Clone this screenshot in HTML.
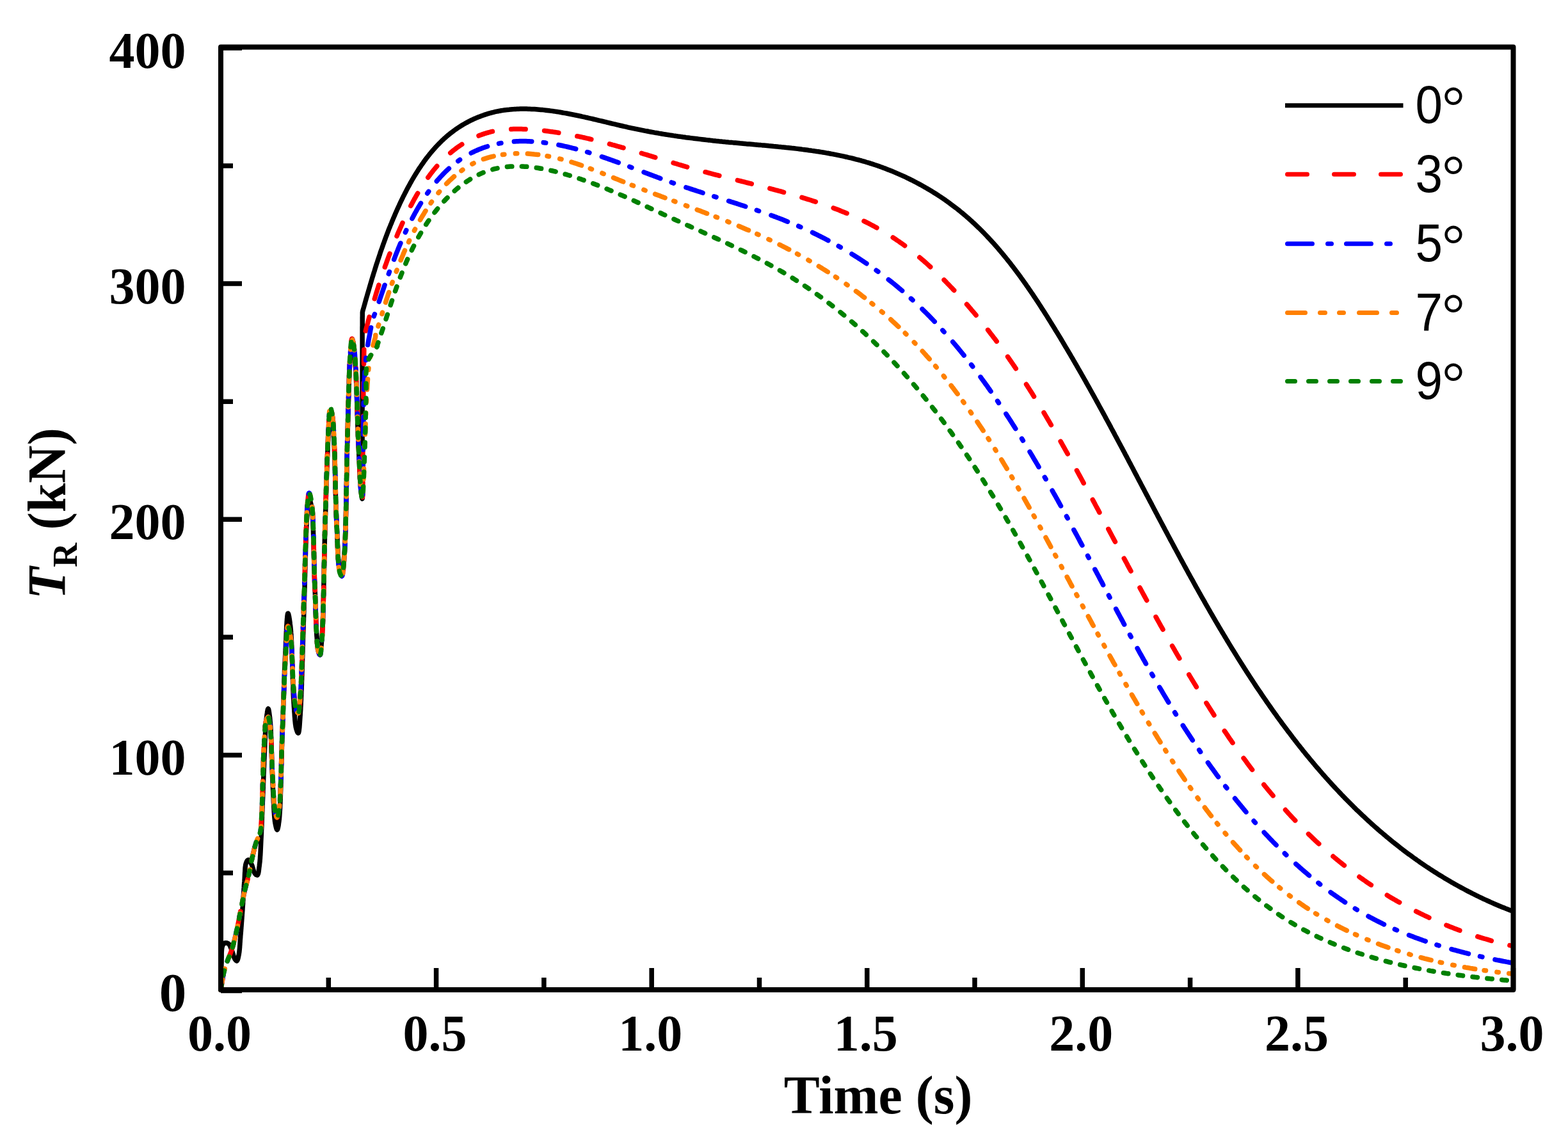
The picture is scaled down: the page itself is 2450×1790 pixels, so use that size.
<!DOCTYPE html>
<html><head><meta charset="utf-8"><title>T_R vs Time</title>
<style>html,body{margin:0;padding:0;background:#fff;}svg{display:block;}</style>
</head><body>
<svg xmlns="http://www.w3.org/2000/svg" width="2450" height="1790" viewBox="0 0 2450 1790">
<rect width="2450" height="1790" fill="#fff"/>
<g fill="none" stroke-width="7.5" stroke-linejoin="round">
<path stroke="#000000" d="M345.0 1546.0L345.0 1543.9 345.1 1541.9 345.1 1539.8 345.2 1537.7 345.2 1535.5 345.3 1533.4 345.3 1531.3 345.4 1529.2 345.4 1527.1 345.4 1525.0 345.5 1522.9 345.5 1520.8 345.6 1518.7 345.6 1516.7 345.7 1514.6 345.7 1512.7 345.8 1510.7 345.9 1508.8 345.9 1506.9 346.0 1505.0 346.1 1502.7 346.1 1500.3 346.1 1497.9 346.2 1495.5 346.2 1493.2 346.2 1490.9 346.2 1488.6 346.3 1486.5 346.4 1484.5 346.6 1482.6 346.8 1480.9 347.1 1479.3 347.5 1478.0 348.4 1475.7 349.6 1474.0 351.0 1473.0 352.9 1472.7 355.1 1473.0 357.0 1474.0 358.2 1475.3 359.3 1477.2 360.2 1479.4 361.1 1481.7 362.0 1484.0 362.8 1486.0 363.5 1488.1 364.2 1490.4 364.8 1492.6 365.5 1494.7 366.3 1496.6 367.0 1498.0 368.5 1500.1 370.0 1501.0 370.9 1500.0 371.7 1497.9 372.4 1495.0 373.0 1492.0 373.3 1490.6 373.5 1489.0 373.8 1487.3 374.0 1485.5 374.2 1483.6 374.4 1481.6 374.6 1479.6 374.7 1477.5 374.9 1475.3 375.0 1473.1 375.2 1470.9 375.3 1468.7 375.5 1466.5 375.7 1464.3 375.8 1462.1 376.0 1460.0 376.2 1458.1 376.3 1456.2 376.5 1454.3 376.6 1452.3 376.8 1450.4 376.9 1448.4 377.1 1446.4 377.2 1444.4 377.4 1442.4 377.5 1440.4 377.7 1438.4 377.8 1436.4 378.0 1434.4 378.1 1432.3 378.3 1430.3 378.4 1428.2 378.6 1426.2 378.7 1424.1 378.9 1422.1 379.0 1420.0 379.1 1418.0 379.3 1416.0 379.4 1413.9 379.6 1411.8 379.7 1409.7 379.8 1407.6 380.0 1405.5 380.1 1403.3 380.2 1401.2 380.4 1399.1 380.5 1396.9 380.6 1394.8 380.8 1392.7 380.9 1390.6 381.0 1388.6 381.2 1386.5 381.3 1384.5 381.4 1382.5 381.6 1380.6 381.7 1378.7 381.9 1376.8 382.0 1375.0 382.2 1372.6 382.3 1370.2 382.4 1367.8 382.5 1365.5 382.6 1363.1 382.8 1360.8 382.9 1358.6 383.0 1356.4 383.2 1354.4 383.5 1352.6 383.7 1350.9 384.1 1349.3 384.5 1348.0 385.5 1345.6 386.7 1343.7 388.0 1343.0 389.2 1343.7 390.5 1345.4 391.8 1347.7 393.0 1350.0 393.8 1351.8 394.5 1353.9 395.1 1356.2 395.8 1358.5 396.4 1360.7 397.2 1362.5 398.0 1364.0 400.0 1366.3 402.0 1367.0 402.7 1366.3 403.3 1365.0 403.8 1363.1 404.2 1360.8 404.5 1358.2 404.8 1355.5 405.2 1352.7 405.5 1350.0 405.7 1348.4 405.9 1346.7 406.1 1345.0 406.2 1343.2 406.4 1341.4 406.5 1339.5 406.6 1337.6 406.8 1335.6 406.9 1333.6 407.0 1331.6 407.1 1329.5 407.2 1327.4 407.3 1325.3 407.4 1323.1 407.5 1321.0 407.6 1318.8 407.7 1316.6 407.8 1314.4 407.9 1312.2 408.0 1310.0 408.1 1308.2 408.2 1306.4 408.3 1304.5 408.4 1302.6 408.5 1300.7 408.5 1298.8 408.6 1296.9 408.7 1294.9 408.8 1293.0 408.9 1291.0 409.0 1289.0 409.0 1287.0 409.1 1285.0 409.2 1282.9 409.3 1280.9 409.4 1278.9 409.5 1276.8 409.5 1274.8 409.6 1272.7 409.7 1270.6 409.8 1268.6 409.9 1266.5 409.9 1264.4 410.0 1262.3 410.1 1260.3 410.2 1258.2 410.3 1256.2 410.3 1254.1 410.4 1252.0 410.5 1250.0 410.6 1248.0 410.7 1246.0 410.7 1244.0 410.8 1242.0 410.9 1240.0 411.0 1237.9 411.0 1235.9 411.1 1233.9 411.2 1231.8 411.3 1229.8 411.3 1227.7 411.4 1225.7 411.5 1223.7 411.6 1221.6 411.6 1219.6 411.7 1217.5 411.8 1215.4 411.9 1213.4 411.9 1211.3 412.0 1209.3 412.1 1207.3 412.2 1205.2 412.3 1203.2 412.3 1201.1 412.4 1199.1 412.5 1197.1 412.6 1195.0 412.7 1193.0 412.7 1191.0 412.8 1189.0 412.9 1187.0 413.0 1185.0 413.1 1182.9 413.2 1180.9 413.3 1178.7 413.3 1176.6 413.4 1174.5 413.5 1172.3 413.6 1170.1 413.7 1167.9 413.8 1165.7 413.8 1163.5 413.9 1161.3 414.0 1159.1 414.1 1157.0 414.2 1154.8 414.3 1152.6 414.4 1150.5 414.4 1148.4 414.5 1146.3 414.6 1144.3 414.7 1142.3 414.9 1140.3 415.0 1138.4 415.1 1136.5 415.2 1134.7 415.3 1132.9 415.4 1131.2 415.6 1129.6 415.7 1128.0 415.9 1126.4 416.0 1125.0 416.3 1122.3 416.6 1119.6 416.9 1116.9 417.3 1114.3 417.6 1111.9 418.0 1109.9 418.3 1108.4 418.7 1107.4 419.0 1107.0 419.4 1107.4 419.8 1108.6 420.2 1110.3 420.5 1112.6 420.9 1115.3 421.3 1118.2 421.7 1121.3 422.0 1124.4 422.1 1125.6 422.2 1126.9 422.4 1128.3 422.5 1129.8 422.6 1131.3 422.7 1132.9 422.8 1134.5 422.9 1136.2 423.0 1138.0 423.1 1139.8 423.2 1141.6 423.3 1143.5 423.4 1145.5 423.4 1147.5 423.5 1149.5 423.6 1151.6 423.7 1153.7 423.8 1155.9 423.8 1158.0 423.9 1160.2 424.0 1162.4 424.1 1164.7 424.1 1166.9 424.2 1169.2 424.3 1171.5 424.3 1173.8 424.4 1176.1 424.5 1178.4 424.5 1180.7 424.6 1183.0 424.7 1185.3 424.8 1187.6 424.8 1189.9 424.9 1192.2 425.0 1194.5 425.0 1196.7 425.1 1198.9 425.2 1201.1 425.2 1203.3 425.3 1205.5 425.4 1207.6 425.5 1209.7 425.6 1211.8 425.6 1213.8 425.7 1215.8 425.8 1217.7 425.9 1219.6 426.0 1221.4 426.1 1223.7 426.2 1225.9 426.3 1228.2 426.4 1230.5 426.5 1232.8 426.6 1235.1 426.7 1237.4 426.8 1239.7 426.9 1242.1 427.0 1244.4 427.1 1246.7 427.2 1249.0 427.3 1251.2 427.4 1253.5 427.6 1255.7 427.7 1257.9 427.8 1260.1 427.9 1262.2 428.0 1264.3 428.1 1266.3 428.2 1268.3 428.4 1270.2 428.5 1272.1 428.6 1273.9 428.8 1275.7 428.9 1277.4 429.1 1279.0 429.3 1280.5 429.4 1281.9 429.6 1283.3 429.8 1284.6 430.0 1285.8 430.6 1288.7 431.2 1291.5 431.8 1293.8 432.4 1295.4 433.0 1296.0 433.5 1295.5 434.1 1294.0 434.6 1291.9 435.1 1289.2 435.5 1286.0 436.0 1282.7 436.1 1281.7 436.2 1280.6 436.4 1279.5 436.5 1278.3 436.6 1277.1 436.7 1275.8 436.8 1274.4 436.9 1273.0 437.0 1271.6 437.1 1270.1 437.2 1268.5 437.3 1266.9 437.4 1265.3 437.5 1263.6 437.6 1261.8 437.7 1260.1 437.8 1258.2 437.8 1256.4 437.9 1254.5 438.0 1252.5 438.1 1250.6 438.2 1248.6 438.2 1246.5 438.3 1244.5 438.4 1242.4 438.4 1240.3 438.5 1238.1 438.6 1235.9 438.7 1233.8 438.7 1231.5 438.8 1229.3 438.9 1227.1 438.9 1224.8 439.0 1222.5 439.0 1220.2 439.1 1217.9 439.2 1215.5 439.2 1213.2 439.3 1210.9 439.3 1208.5 439.4 1206.2 439.5 1203.8 439.5 1201.4 439.6 1199.1 439.6 1196.7 439.7 1194.3 439.8 1192.0 439.8 1189.6 439.9 1187.2 439.9 1184.9 440.0 1182.6 440.1 1180.2 440.1 1177.9 440.2 1175.6 440.2 1173.3 440.3 1171.1 440.4 1168.8 440.4 1166.6 440.5 1164.4 440.6 1162.2 440.6 1160.0 440.7 1157.8 440.8 1155.7 440.9 1153.6 440.9 1151.6 441.0 1149.5 441.1 1147.5 441.2 1145.5 441.2 1143.4 441.3 1141.4 441.4 1139.3 441.4 1137.2 441.5 1135.1 441.6 1133.0 441.7 1130.9 441.7 1128.8 441.8 1126.7 441.9 1124.6 442.0 1122.5 442.0 1120.3 442.1 1118.2 442.2 1116.0 442.3 1113.9 442.3 1111.8 442.4 1109.6 442.5 1107.5 442.5 1105.3 442.6 1103.1 442.7 1101.0 442.8 1098.8 442.8 1096.7 442.9 1094.5 443.0 1092.4 443.1 1090.2 443.1 1088.1 443.2 1086.0 443.3 1083.8 443.3 1081.7 443.4 1079.6 443.5 1077.5 443.6 1075.3 443.6 1073.2 443.7 1071.1 443.8 1069.1 443.9 1067.0 443.9 1064.9 444.0 1062.9 444.1 1060.8 444.2 1058.8 444.2 1056.8 444.3 1054.7 444.4 1052.7 444.5 1050.8 444.5 1048.8 444.6 1046.8 444.7 1044.9 444.8 1043.0 444.9 1041.1 444.9 1039.2 445.0 1037.3 445.1 1035.4 445.2 1033.6 445.3 1031.8 445.3 1030.0 445.4 1028.2 445.5 1026.5 445.6 1024.7 445.7 1023.0 445.7 1021.3 445.8 1019.6 445.9 1018.0 446.0 1016.4 446.1 1013.9 446.3 1011.4 446.4 1008.8 446.5 1006.2 446.6 1003.5 446.7 1000.8 446.9 998.1 447.0 995.4 447.1 992.6 447.2 990.0 447.3 987.3 447.5 984.7 447.6 982.1 447.7 979.7 447.8 977.2 448.0 974.9 448.1 972.7 448.2 970.6 448.4 968.6 448.5 966.8 448.7 965.0 448.8 963.5 449.0 962.1 449.1 960.9 449.3 959.9 449.5 959.1 449.6 958.5 449.8 958.1 450.0 958.0 450.3 958.3 450.7 959.1 451.0 960.4 451.4 962.1 451.8 964.1 452.2 966.5 452.6 969.1 453.0 971.8 453.3 974.7 453.7 977.6 454.0 980.5 454.1 981.7 454.3 983.1 454.4 984.5 454.5 986.0 454.6 987.5 454.7 989.1 454.9 990.7 455.0 992.5 455.1 994.2 455.2 996.0 455.3 997.9 455.4 999.8 455.5 1001.8 455.6 1003.8 455.6 1005.8 455.7 1007.9 455.8 1010.0 455.9 1012.2 456.0 1014.3 456.1 1016.5 456.1 1018.8 456.2 1021.0 456.3 1023.3 456.4 1025.6 456.4 1027.9 456.5 1030.2 456.6 1032.6 456.6 1034.9 456.7 1037.3 456.8 1039.6 456.9 1042.0 456.9 1044.3 457.0 1046.7 457.1 1049.1 457.1 1051.4 457.2 1053.7 457.3 1056.1 457.3 1058.4 457.4 1060.7 457.5 1062.9 457.5 1065.2 457.6 1067.4 457.7 1069.6 457.8 1071.8 457.8 1074.0 457.9 1076.1 458.0 1078.1 458.1 1080.2 458.2 1082.2 458.2 1084.1 458.3 1086.1 458.4 1087.9 458.5 1089.7 458.6 1091.5 458.7 1093.2 458.8 1094.9 458.9 1096.5 459.0 1098.0 459.2 1100.6 459.3 1103.1 459.5 1105.6 459.7 1108.1 459.8 1110.6 460.0 1113.0 460.2 1115.3 460.3 1117.6 460.5 1119.9 460.7 1122.1 460.8 1124.2 461.0 1126.2 461.2 1128.1 461.4 1130.0 461.6 1131.7 461.9 1133.4 462.1 1134.9 462.4 1136.4 462.7 1137.7 463.0 1138.9 464.0 1141.9 465.0 1144.2 466.0 1145.0 466.4 1144.7 466.7 1143.9 467.0 1142.6 467.3 1141.0 467.5 1139.0 467.8 1136.7 468.0 1134.2 468.2 1131.4 468.4 1128.5 468.6 1125.5 468.8 1122.4 469.0 1119.4 469.1 1118.2 469.2 1117.0 469.3 1115.7 469.3 1114.5 469.4 1113.1 469.5 1111.8 469.6 1110.4 469.7 1108.9 469.8 1107.4 469.8 1105.9 469.9 1104.4 470.0 1102.8 470.1 1101.2 470.2 1099.5 470.2 1097.8 470.3 1096.1 470.4 1094.3 470.5 1092.6 470.5 1090.8 470.6 1088.9 470.7 1087.0 470.8 1085.1 470.9 1083.2 470.9 1081.3 471.0 1079.3 471.1 1077.3 471.2 1075.3 471.2 1073.3 471.3 1071.2 471.4 1069.1 471.4 1067.0 471.5 1064.9 471.6 1062.8 471.7 1060.6 471.7 1058.5 471.8 1056.3 471.9 1054.1 471.9 1051.9 472.0 1049.6 472.1 1047.4 472.2 1045.2 472.2 1042.9 472.3 1040.6 472.4 1038.4 472.4 1036.1 472.5 1033.8 472.6 1031.5 472.6 1029.2 472.7 1026.9 472.8 1024.6 472.8 1022.2 472.9 1019.9 473.0 1017.6 473.0 1015.3 473.1 1013.0 473.2 1010.7 473.3 1008.4 473.3 1006.0 473.4 1003.7 473.5 1001.4 473.5 999.1 473.6 996.8 473.7 994.6 473.7 992.3 473.8 990.0 473.9 987.8 473.9 985.5 474.0 983.3 474.1 981.1 474.1 978.8 474.2 976.6 474.3 974.5 474.3 972.3 474.4 970.1 474.5 968.0 474.5 965.9 474.6 963.8 474.7 961.7 474.7 959.7 474.8 957.6 474.9 955.6 474.9 953.6 475.0 951.6 475.1 949.6 475.1 947.5 475.2 945.4 475.3 943.2 475.3 941.1 475.4 939.0 475.5 936.8 475.5 934.6 475.6 932.4 475.7 930.2 475.7 928.0 475.8 925.7 475.9 923.5 475.9 921.3 476.0 919.0 476.1 916.8 476.1 914.5 476.2 912.2 476.2 909.9 476.3 907.7 476.4 905.4 476.4 903.1 476.5 900.8 476.6 898.5 476.6 896.3 476.7 894.0 476.7 891.7 476.8 889.4 476.9 887.2 476.9 884.9 477.0 882.6 477.0 880.4 477.1 878.2 477.2 875.9 477.2 873.7 477.3 871.5 477.3 869.3 477.4 867.1 477.5 864.9 477.5 862.8 477.6 860.6 477.6 858.5 477.7 856.4 477.8 854.3 477.8 852.2 477.9 850.1 478.0 848.1 478.0 846.1 478.1 844.1 478.2 842.1 478.2 840.2 478.3 838.2 478.4 836.3 478.4 834.4 478.5 832.6 478.6 830.8 478.6 829.0 478.7 827.2 478.8 825.5 478.9 823.8 478.9 822.1 479.0 820.5 479.1 818.9 479.2 817.3 479.2 815.8 479.3 814.3 479.4 812.8 479.5 811.4 479.6 810.0 479.7 808.6 479.7 807.3 479.8 806.1 479.9 804.8 480.0 803.7 480.2 800.7 480.4 797.8 480.7 794.9 480.9 792.1 481.1 789.4 481.3 787.0 481.6 784.8 481.8 782.8 482.1 781.3 482.4 780.1 482.7 779.3 483.0 779.0 483.5 779.4 484.1 780.6 484.7 782.4 485.3 784.7 485.9 787.4 486.5 790.4 487.0 793.5 487.2 794.6 487.3 795.7 487.5 796.9 487.6 798.2 487.7 799.5 487.9 800.9 488.0 802.3 488.1 803.8 488.2 805.3 488.4 807.0 488.5 808.6 488.6 810.3 488.7 812.1 488.8 813.9 488.9 815.7 489.0 817.6 489.1 819.5 489.1 821.5 489.2 823.5 489.3 825.6 489.4 827.6 489.5 829.8 489.5 831.9 489.6 834.1 489.7 836.2 489.7 838.5 489.8 840.7 489.9 843.0 489.9 845.2 490.0 847.5 490.1 849.9 490.1 852.2 490.2 854.5 490.2 856.9 490.3 859.2 490.3 861.6 490.4 864.0 490.4 866.3 490.5 868.7 490.6 871.1 490.6 873.4 490.7 875.8 490.7 878.2 490.8 880.5 490.8 882.8 490.9 885.2 490.9 887.5 491.0 889.8 491.1 892.1 491.1 894.3 491.2 896.6 491.2 898.8 491.3 901.0 491.4 903.1 491.5 905.3 491.5 907.4 491.6 909.5 491.7 911.5 491.7 913.5 491.8 915.5 491.9 917.4 492.0 919.3 492.1 921.5 492.2 923.7 492.3 925.9 492.4 928.2 492.5 930.5 492.6 932.8 492.6 935.1 492.7 937.5 492.8 939.8 492.9 942.2 493.0 944.6 493.0 947.0 493.1 949.4 493.2 951.8 493.3 954.1 493.3 956.5 493.4 958.9 493.5 961.3 493.6 963.6 493.7 965.9 493.7 968.2 493.8 970.5 493.9 972.8 494.0 975.0 494.1 977.2 494.2 979.4 494.3 981.5 494.4 983.6 494.5 985.7 494.6 987.7 494.7 989.6 494.8 991.5 494.9 993.4 495.1 995.2 495.2 996.9 495.3 998.6 495.5 1000.2 495.6 1001.7 495.8 1003.2 495.9 1004.6 496.1 1005.9 496.2 1007.1 496.4 1008.3 496.6 1009.4 496.8 1010.3 497.0 1011.2 498.0 1014.6 499.0 1017.1 500.0 1018.0 500.4 1017.6 500.8 1016.7 501.1 1015.3 501.4 1013.4 501.7 1011.2 502.0 1008.6 502.2 1005.8 502.5 1002.8 502.7 999.7 503.0 996.5 503.1 995.4 503.2 994.3 503.3 993.1 503.3 992.0 503.4 990.7 503.5 989.4 503.6 988.1 503.6 986.7 503.7 985.3 503.8 983.9 503.9 982.4 503.9 980.9 504.0 979.3 504.1 977.8 504.2 976.1 504.2 974.5 504.3 972.8 504.4 971.1 504.4 969.3 504.5 967.5 504.5 965.7 504.6 963.8 504.7 962.0 504.7 960.1 504.8 958.1 504.8 956.2 504.9 954.2 505.0 952.2 505.0 950.2 505.1 948.1 505.1 946.1 505.2 944.0 505.2 941.9 505.3 939.7 505.3 937.6 505.4 935.4 505.4 933.2 505.5 931.1 505.5 928.8 505.6 926.6 505.6 924.4 505.7 922.1 505.7 919.9 505.8 917.6 505.8 915.3 505.9 913.0 505.9 910.7 506.0 908.4 506.0 906.1 506.1 903.8 506.1 901.5 506.2 899.2 506.2 896.8 506.3 894.5 506.3 892.2 506.4 889.9 506.4 887.5 506.4 885.2 506.5 882.9 506.5 880.6 506.6 878.2 506.6 875.9 506.7 873.6 506.7 871.3 506.8 869.0 506.8 866.7 506.9 864.5 506.9 862.2 507.0 859.9 507.0 857.7 507.1 855.5 507.1 853.2 507.2 851.0 507.2 848.9 507.3 846.7 507.3 844.5 507.4 842.4 507.4 840.3 507.5 838.2 507.5 836.1 507.6 834.0 507.6 832.0 507.7 830.0 507.8 828.0 507.8 826.0 507.9 824.1 507.9 822.1 508.0 820.3 508.1 818.1 508.1 815.9 508.2 813.8 508.3 811.6 508.3 809.4 508.4 807.2 508.5 805.0 508.6 802.8 508.6 800.6 508.7 798.4 508.8 796.2 508.8 793.9 508.9 791.7 509.0 789.5 509.0 787.2 509.1 785.0 509.2 782.8 509.3 780.5 509.3 778.3 509.4 776.0 509.5 773.8 509.5 771.6 509.6 769.4 509.7 767.1 509.8 764.9 509.8 762.7 509.9 760.5 510.0 758.3 510.0 756.1 510.1 753.9 510.2 751.7 510.3 749.6 510.3 747.4 510.4 745.2 510.5 743.1 510.5 741.0 510.6 738.9 510.7 736.8 510.8 734.7 510.8 732.6 510.9 730.6 511.0 728.5 511.1 726.5 511.1 724.5 511.2 722.5 511.3 720.5 511.4 718.6 511.4 716.7 511.5 714.7 511.6 712.9 511.7 711.0 511.7 709.1 511.8 707.3 511.9 705.5 512.0 703.7 512.1 702.0 512.1 700.3 512.2 698.6 512.3 696.9 512.4 695.3 512.4 693.6 512.5 692.1 512.6 690.5 512.7 689.0 512.8 687.5 512.8 686.0 512.9 684.6 513.0 683.2 513.2 680.4 513.3 677.6 513.4 674.8 513.6 671.9 513.7 669.1 513.9 666.3 514.0 663.6 514.1 661.0 514.3 658.5 514.4 656.2 514.6 654.0 514.7 652.1 514.9 650.3 515.1 648.9 515.3 647.7 515.5 646.8 515.8 646.2 516.0 646.0 516.4 646.4 516.9 647.5 517.4 649.2 518.0 651.4 518.5 654.0 519.0 657.0 519.5 660.1 520.0 663.4 520.1 664.4 520.3 665.5 520.4 666.7 520.5 667.9 520.6 669.1 520.7 670.5 520.9 671.8 521.0 673.3 521.1 674.7 521.2 676.3 521.3 677.8 521.4 679.5 521.5 681.1 521.6 682.8 521.7 684.6 521.8 686.4 521.9 688.2 522.0 690.1 522.0 692.0 522.1 694.0 522.2 695.9 522.3 697.9 522.4 700.0 522.5 702.1 522.5 704.2 522.6 706.3 522.7 708.4 522.8 710.6 522.8 712.8 522.9 715.0 523.0 717.3 523.0 719.5 523.1 721.8 523.2 724.1 523.2 726.4 523.3 728.7 523.4 731.0 523.4 733.4 523.5 735.7 523.5 738.1 523.6 740.5 523.7 742.8 523.7 745.2 523.8 747.6 523.8 749.9 523.9 752.3 524.0 754.7 524.0 757.1 524.1 759.4 524.1 761.8 524.2 764.1 524.2 766.5 524.3 768.8 524.4 771.1 524.4 773.4 524.5 775.7 524.5 778.0 524.6 780.2 524.7 782.4 524.7 784.7 524.8 786.8 524.9 789.0 524.9 791.2 525.0 793.3 525.1 795.4 525.1 797.4 525.2 799.5 525.3 801.5 525.4 803.4 525.4 805.3 525.5 807.2 525.6 809.1 525.7 810.9 525.7 812.7 525.8 814.4 525.9 816.1 526.0 817.8 526.1 820.2 526.2 822.6 526.4 825.0 526.5 827.5 526.6 830.0 526.7 832.4 526.8 834.9 526.9 837.4 527.0 839.8 527.1 842.3 527.2 844.7 527.3 847.1 527.4 849.5 527.5 851.9 527.6 854.2 527.7 856.6 527.8 858.8 527.9 861.1 528.0 863.3 528.1 865.4 528.2 867.5 528.4 869.5 528.5 871.5 528.6 873.4 528.8 875.3 528.9 877.1 529.1 878.8 529.3 880.4 529.5 881.9 529.6 883.4 529.8 884.8 530.0 886.1 530.3 887.2 530.5 888.3 530.7 889.3 531.0 890.2 532.5 893.7 534.0 895.0 534.4 894.7 534.8 894.0 535.1 892.9 535.5 891.5 535.8 889.7 536.1 887.7 536.3 885.5 536.6 883.0 536.8 880.4 537.1 877.6 537.3 874.7 537.5 871.7 537.8 868.7 538.0 865.7 538.1 864.6 538.2 863.4 538.3 862.1 538.4 860.8 538.4 859.5 538.5 858.1 538.6 856.7 538.7 855.3 538.8 853.8 538.9 852.3 538.9 850.7 539.0 849.1 539.1 847.5 539.2 845.9 539.2 844.2 539.3 842.5 539.4 840.7 539.4 839.0 539.5 837.1 539.6 835.3 539.6 833.5 539.7 831.6 539.8 829.7 539.8 827.7 539.9 825.8 539.9 823.8 540.0 821.8 540.0 819.7 540.1 817.7 540.2 815.6 540.2 813.5 540.3 811.4 540.3 809.3 540.4 807.2 540.4 805.0 540.5 802.8 540.5 800.6 540.6 798.4 540.6 796.2 540.7 794.0 540.7 791.8 540.8 789.5 540.8 787.2 540.9 785.0 540.9 782.7 540.9 780.4 541.0 778.1 541.0 775.8 541.1 773.5 541.1 771.2 541.2 768.9 541.2 766.6 541.2 764.3 541.3 761.9 541.3 759.6 541.4 757.3 541.4 755.0 541.5 752.7 541.5 750.3 541.5 748.0 541.6 745.7 541.6 743.4 541.7 741.1 541.7 738.8 541.7 736.5 541.8 734.3 541.8 732.0 541.9 729.7 541.9 727.5 542.0 725.3 542.0 723.0 542.0 720.8 542.1 718.6 542.1 716.4 542.2 714.3 542.2 712.1 542.3 710.0 542.3 707.8 542.4 705.7 542.4 703.6 542.4 701.6 542.5 699.5 542.5 697.5 542.6 695.5 542.6 693.5 542.7 691.6 542.7 689.6 542.8 687.7 542.8 685.9 542.9 684.0 542.9 682.2 543.0 680.4 543.1 678.1 543.1 675.9 543.2 673.6 543.3 671.3 543.3 669.0 543.4 666.8 543.5 664.5 543.5 662.2 543.6 659.9 543.7 657.6 543.7 655.3 543.8 653.0 543.8 650.7 543.9 648.5 544.0 646.2 544.0 643.9 544.1 641.6 544.1 639.4 544.2 637.1 544.3 634.8 544.3 632.6 544.4 630.4 544.4 628.1 544.5 625.9 544.6 623.7 544.6 621.5 544.7 619.4 544.8 617.2 544.8 615.1 544.9 612.9 544.9 610.8 545.0 608.7 545.1 606.7 545.1 604.6 545.2 602.6 545.3 600.5 545.3 598.6 545.4 596.6 545.5 594.6 545.5 592.7 545.6 590.8 545.7 589.0 545.8 587.1 545.8 585.3 545.9 583.5 546.0 581.8 546.1 580.0 546.1 578.3 546.2 576.7 546.3 575.1 546.4 573.5 546.5 571.9 546.5 570.4 546.6 568.9 546.7 567.4 546.8 566.0 546.9 564.6 547.0 563.3 547.2 560.4 547.4 557.5 547.6 554.6 547.8 551.7 548.0 548.9 548.2 546.3 548.5 543.9 548.7 541.7 548.9 539.8 549.2 538.2 549.4 537.0 549.7 536.3 550.0 536.0 550.4 536.3 550.7 537.1 551.1 538.4 551.6 540.2 552.0 542.3 552.4 544.7 552.8 547.3 553.2 550.1 553.6 552.9 554.0 555.8 554.1 557.0 554.3 558.2 554.4 559.4 554.5 560.7 554.6 562.1 554.8 563.5 554.9 565.0 555.0 566.6 555.1 568.1 555.2 569.8 555.3 571.4 555.4 573.2 555.6 574.9 555.7 576.7 555.8 578.6 555.9 580.4 556.0 582.4 556.1 584.3 556.2 586.3 556.3 588.3 556.3 590.4 556.4 592.5 556.5 594.6 556.6 596.7 556.7 598.9 556.8 601.1 556.9 603.3 557.0 605.5 557.0 607.7 557.1 610.0 557.2 612.3 557.3 614.6 557.4 616.9 557.4 619.2 557.5 621.5 557.6 623.8 557.7 626.1 557.7 628.5 557.8 630.8 557.9 633.2 558.0 635.5 558.0 637.8 558.1 640.2 558.2 642.5 558.3 644.8 558.3 647.1 558.4 649.4 558.5 651.7 558.6 654.0 558.6 656.3 558.7 658.5 558.8 660.7 558.8 663.0 558.9 665.1 559.0 667.3 559.1 669.5 559.1 671.6 559.2 673.7 559.3 675.7 559.4 677.8 559.4 679.8 559.5 681.7 559.6 683.6 559.7 685.5 559.8 687.4 559.8 689.2 559.9 691.0 560.0 692.7 560.1 695.0 560.2 697.4 560.3 699.7 560.4 702.1 560.5 704.4 560.7 706.8 560.8 709.1 560.9 711.5 561.0 713.8 561.1 716.1 561.2 718.5 561.3 720.8 561.4 723.1 561.5 725.3 561.6 727.6 561.7 729.8 561.8 732.0 561.9 734.2 562.0 736.4 562.1 738.5 562.2 740.6 562.3 742.6 562.4 744.6 562.5 746.6 562.6 748.5 562.7 750.4 562.8 752.2 562.9 754.0 563.0 755.7 563.2 757.3 563.3 758.9 563.4 760.5 563.5 761.9 563.6 763.3 563.8 764.7 563.9 765.9 564.0 767.1 564.3 770.0 564.7 772.7 565.1 775.2 565.4 777.2 565.7 778.5 566.0 779.0 566.1 778.9 566.2 778.6 566.2 778.1 566.3 777.4 566.4 776.6 566.4 775.6 566.5 774.5 566.5 773.1 566.5 771.7 566.5 770.1 566.6 768.4 566.6 766.6 566.6 764.7 566.6 762.6 566.6 760.5 566.6 758.3 566.5 756.0 566.5 753.6 566.5 751.2 566.5 748.7 566.5 746.1 566.4 743.5 566.4 740.9 566.4 738.2 566.4 735.5 566.3 732.9 566.3 730.2 566.3 727.5 566.3 724.8 566.2 722.1 566.2 719.4 566.2 716.8 566.2 714.2 566.1 711.7 566.1 709.2 566.1 706.8 566.1 704.5 566.1 702.2 566.1 700.0 566.1 698.1 566.1 696.2 566.1 694.3 566.1 692.4 566.1 690.4 566.1 688.5 566.1 686.5 566.1 684.5 566.1 682.6 566.1 680.6 566.1 678.6 566.1 676.6 566.1 674.6 566.1 672.5 566.1 670.5 566.1 668.5 566.1 666.4 566.1 664.4 566.1 662.4 566.1 660.3 566.1 658.3 566.1 656.2 566.1 654.2 566.1 652.1 566.1 650.0 566.1 648.0 566.1 645.9 566.1 643.9 566.1 641.8 566.1 639.8 566.1 637.7 566.1 635.7 566.1 633.6 566.1 631.6 566.1 629.6 566.1 627.5 566.1 625.5 566.1 623.5 566.1 621.5 566.1 619.5 566.1 617.5 566.1 615.5 566.1 613.5 566.1 611.6 566.1 609.6 566.1 607.7 566.1 605.7 566.1 603.8 566.1 601.9 566.1 600.0 566.1 597.9 566.1 595.8 566.1 593.6 566.1 591.5 566.1 589.3 566.1 587.2 566.1 585.0 566.1 582.9 566.1 580.7 566.1 578.5 566.1 576.4 566.1 574.2 566.1 572.1 566.1 569.9 566.1 567.8 566.1 565.6 566.1 563.5 566.1 561.4 566.1 559.3 566.1 557.2 566.1 555.1 566.1 553.1 566.1 551.0 566.1 549.0 566.1 547.0 566.1 545.0 566.1 543.0 566.1 541.1 566.1 539.2 566.1 537.3 566.1 535.4 566.1 533.6 566.1 531.7 566.1 530.0 566.1 528.2 566.1 526.5 566.1 524.8 566.1 523.2 566.1 521.6 566.1 520.0 566.1 517.6 566.1 515.3 566.1 513.1 566.1 511.0 566.2 508.9 566.2 506.9 566.2 505.0 566.2 503.1 566.2 501.2 566.2 499.4 566.2 497.5 566.2 495.7 566.3 493.8 566.3 491.9 566.3 490.0 566.3 488.0 566.8 485.6 567.5 483.1 568.2 480.7 568.9 478.3 569.6 475.8 570.3 473.4 570.9 471.0 571.6 468.6 572.3 466.1 573.0 463.7 573.7 461.3 574.4 458.9 575.1 456.5 575.8 454.1 576.5 451.7 577.2 449.3 577.9 446.9 578.6 444.5 579.3 442.1 580.0 439.7 580.7 437.3 581.4 435.0 582.1 432.6 582.9 430.2 583.6 427.8 584.3 425.5 585.1 423.1 585.8 420.7 586.5 418.4 587.3 416.0 588.0 413.6 588.8 411.3 589.6 408.9 590.3 406.6 591.1 404.2 591.9 401.9 592.7 399.5 593.5 397.2 594.2 394.8 595.0 392.5 595.8 390.2 596.7 387.8 597.5 385.5 598.3 383.2 599.1 380.8 600.0 378.5 600.8 376.2 601.7 373.9 602.5 371.5 603.4 369.2 604.3 366.9 605.1 364.6 606.0 362.3 606.9 359.9 607.8 357.6 608.8 355.3 609.7 353.0 610.6 350.7 611.6 348.4 612.5 346.1 613.5 343.8 614.4 341.5 615.4 339.2 616.4 336.9 617.4 334.6 618.4 332.3 619.4 330.0 620.4 327.7 621.5 325.4 622.5 323.1 623.6 320.8 624.6 318.5 625.7 316.2 626.8 313.9 627.9 311.6 629.0 309.3 630.1 307.0 631.3 304.8 632.4 302.5 633.6 300.2 634.8 298.0 635.9 295.7 637.1 293.4 638.4 291.2 639.6 288.9 640.8 286.7 642.1 284.5 643.3 282.3 644.6 280.0 645.9 277.8 647.2 275.6 648.5 273.5 649.9 271.3 651.2 269.1 652.6 267.0 653.9 264.8 655.3 262.7 656.8 260.6 658.2 258.5 659.6 256.4 661.1 254.4 662.5 252.3 664.0 250.3 665.5 248.2 667.1 246.2 668.6 244.2 670.2 242.3 671.7 240.3 673.3 238.4 674.9 236.5 676.6 234.6 678.2 232.7 679.9 230.8 681.5 229.0 683.2 227.2 685.0 225.4 686.7 223.6 688.5 221.8 690.2 220.1 692.0 218.4 693.8 216.7 695.7 215.1 697.5 213.4 699.4 211.8 701.3 210.3 703.2 208.7 705.1 207.2 707.1 205.7 709.1 204.2 711.1 202.8 713.1 201.4 715.1 200.0 717.2 198.6 719.2 197.3 721.3 196.0 723.4 194.7 725.6 193.5 727.7 192.3 729.9 191.1 732.0 189.9 734.2 188.8 736.4 187.7 738.7 186.7 740.9 185.6 743.2 184.7 745.4 183.7 747.7 182.8 750.0 181.9 752.3 181.0 754.6 180.2 756.9 179.4 759.3 178.6 761.6 177.9 764.0 177.2 766.4 176.5 768.7 175.9 771.1 175.3 773.5 174.7 775.9 174.2 778.4 173.7 780.8 173.2 783.2 172.8 785.7 172.4 788.1 172.0 790.6 171.7 793.0 171.4 795.5 171.2 797.9 170.9 800.4 170.7 802.9 170.6 805.4 170.4 807.9 170.3 810.4 170.2 812.8 170.1 815.3 170.1 817.8 170.1 820.3 170.1 822.8 170.1 825.3 170.2 827.8 170.3 830.3 170.4 832.8 170.5 835.3 170.6 837.8 170.8 840.3 171.0 842.8 171.2 845.3 171.4 847.8 171.6 850.3 171.9 852.8 172.2 855.3 172.5 857.8 172.8 860.3 173.1 862.7 173.4 865.2 173.8 867.7 174.1 870.2 174.5 872.7 174.9 875.2 175.3 877.6 175.7 880.1 176.2 882.6 176.6 885.1 177.0 887.5 177.5 890.0 178.0 892.5 178.5 895.0 179.0 897.4 179.5 899.9 180.0 902.4 180.5 904.8 181.0 907.3 181.5 909.8 182.1 912.2 182.6 914.7 183.2 917.2 183.7 919.6 184.3 922.1 184.9 924.6 185.4 927.0 186.0 929.5 186.6 932.0 187.2 934.4 187.8 936.9 188.4 939.3 188.9 941.8 189.5 944.3 190.1 946.7 190.7 949.2 191.3 951.6 191.9 954.1 192.5 956.5 193.1 959.0 193.7 961.4 194.2 963.9 194.8 966.4 195.4 968.8 196.0 971.3 196.5 973.7 197.1 976.2 197.7 978.6 198.2 981.1 198.8 983.5 199.3 986.0 199.9 988.4 200.4 990.9 200.9 993.3 201.4 995.8 201.9 998.3 202.4 1000.7 202.9 1003.2 203.4 1005.6 203.9 1008.1 204.4 1010.5 204.8 1013.0 205.3 1015.4 205.8 1017.9 206.2 1020.3 206.6 1022.8 207.1 1025.2 207.5 1027.7 207.9 1030.1 208.4 1032.6 208.8 1035.1 209.2 1037.5 209.6 1040.0 210.0 1042.4 210.4 1044.9 210.8 1047.3 211.1 1049.8 211.5 1052.3 211.9 1054.7 212.2 1057.2 212.6 1059.6 213.0 1062.1 213.3 1064.6 213.6 1067.0 214.0 1069.5 214.3 1071.9 214.7 1074.4 215.0 1076.9 215.3 1079.3 215.6 1081.8 215.9 1084.3 216.2 1086.7 216.5 1089.2 216.8 1091.7 217.1 1094.1 217.4 1096.6 217.7 1099.1 218.0 1101.5 218.3 1104.0 218.6 1106.5 218.9 1109.0 219.1 1111.4 219.4 1113.9 219.7 1116.4 219.9 1118.9 220.2 1121.3 220.4 1123.8 220.7 1126.3 220.9 1128.8 221.2 1131.3 221.4 1133.8 221.7 1136.2 221.9 1138.7 222.2 1141.2 222.4 1143.7 222.6 1146.2 222.9 1148.7 223.1 1151.2 223.3 1153.7 223.5 1156.2 223.8 1158.7 224.0 1161.2 224.2 1163.7 224.4 1166.2 224.7 1168.7 224.9 1171.2 225.1 1173.7 225.3 1176.2 225.5 1178.7 225.8 1181.2 226.0 1183.7 226.2 1186.2 226.4 1188.7 226.6 1191.2 226.9 1193.7 227.1 1196.2 227.3 1198.7 227.5 1201.2 227.8 1203.7 228.0 1206.2 228.2 1208.7 228.5 1211.3 228.7 1213.8 228.9 1216.3 229.2 1218.8 229.4 1221.3 229.7 1223.8 229.9 1226.3 230.2 1228.8 230.5 1231.3 230.7 1233.8 231.0 1236.3 231.3 1238.8 231.6 1241.3 231.8 1243.8 232.1 1246.3 232.4 1248.8 232.7 1251.3 233.0 1253.8 233.4 1256.3 233.7 1258.7 234.0 1261.2 234.3 1263.7 234.7 1266.2 235.0 1268.7 235.4 1271.2 235.7 1273.7 236.1 1276.1 236.5 1278.6 236.8 1281.1 237.2 1283.6 237.6 1286.0 238.0 1288.5 238.4 1291.0 238.9 1293.5 239.3 1295.9 239.7 1298.4 240.2 1300.8 240.6 1303.3 241.1 1305.8 241.6 1308.2 242.1 1310.7 242.6 1313.1 243.1 1315.6 243.6 1318.0 244.1 1320.4 244.7 1322.9 245.2 1325.3 245.8 1327.7 246.3 1330.2 246.9 1332.6 247.5 1335.0 248.1 1337.4 248.8 1339.8 249.4 1342.3 250.0 1344.7 250.7 1347.1 251.4 1349.5 252.0 1351.9 252.7 1354.3 253.5 1356.7 254.2 1359.1 254.9 1361.4 255.7 1363.8 256.4 1366.2 257.2 1368.6 258.0 1370.9 258.8 1373.3 259.6 1375.7 260.5 1378.0 261.3 1380.4 262.2 1382.7 263.1 1385.1 264.0 1387.4 264.9 1389.7 265.8 1392.1 266.7 1394.4 267.6 1396.7 268.6 1399.0 269.6 1401.3 270.6 1403.6 271.6 1405.9 272.6 1408.2 273.6 1410.5 274.6 1412.8 275.7 1415.0 276.7 1417.3 277.8 1419.5 278.9 1421.8 280.0 1424.0 281.1 1426.3 282.2 1428.5 283.4 1430.7 284.5 1432.9 285.7 1435.2 286.9 1437.4 288.1 1439.6 289.3 1441.7 290.5 1443.9 291.7 1446.1 293.0 1448.3 294.2 1450.4 295.5 1452.6 296.8 1454.7 298.0 1456.9 299.4 1459.0 300.7 1461.1 302.0 1463.2 303.3 1465.3 304.7 1467.4 306.1 1469.5 307.4 1471.6 308.8 1473.6 310.2 1475.7 311.6 1477.7 313.1 1479.8 314.5 1481.8 316.0 1483.8 317.4 1485.8 318.9 1487.8 320.4 1489.8 321.9 1491.8 323.4 1493.8 324.9 1495.7 326.4 1497.7 328.0 1499.6 329.5 1501.5 331.1 1503.5 332.7 1505.4 334.3 1507.3 335.9 1509.2 337.5 1511.0 339.1 1512.9 340.7 1514.8 342.4 1516.6 344.1 1518.5 345.7 1520.3 347.4 1522.1 349.1 1523.9 350.8 1525.7 352.5 1527.5 354.2 1529.3 355.9 1531.1 357.7 1532.8 359.4 1534.6 361.2 1536.3 362.9 1538.1 364.7 1539.8 366.5 1541.5 368.3 1543.2 370.1 1544.9 371.9 1546.6 373.7 1548.3 375.6 1550.0 377.4 1551.7 379.3 1553.3 381.1 1555.0 383.0 1556.6 384.8 1558.3 386.7 1559.9 388.6 1561.5 390.5 1563.1 392.4 1564.7 394.3 1566.4 396.2 1567.9 398.1 1569.5 400.1 1571.1 402.0 1572.7 404.0 1574.2 405.9 1575.8 407.9 1577.4 409.8 1578.9 411.8 1580.4 413.8 1582.0 415.8 1583.5 417.8 1585.0 419.8 1586.5 421.8 1588.0 423.8 1589.5 425.8 1591.0 427.8 1592.5 429.8 1594.0 431.8 1595.5 433.9 1597.0 435.9 1598.4 438.0 1599.9 440.0 1601.3 442.1 1602.8 444.1 1604.2 446.2 1605.7 448.2 1607.1 450.3 1608.5 452.4 1610.0 454.5 1611.4 456.6 1612.8 458.6 1614.2 460.7 1615.6 462.8 1617.0 464.9 1618.4 467.0 1619.8 469.1 1621.2 471.2 1622.6 473.3 1623.9 475.4 1625.3 477.6 1626.7 479.7 1628.0 481.8 1629.4 483.9 1630.8 486.0 1632.1 488.2 1633.5 490.3 1634.8 492.4 1636.2 494.6 1637.5 496.7 1638.8 498.8 1640.2 501.0 1641.5 503.1 1642.8 505.2 1644.2 507.4 1645.5 509.5 1646.8 511.7 1648.1 513.8 1649.4 516.0 1650.8 518.1 1652.1 520.2 1653.4 522.4 1654.7 524.5 1656.0 526.7 1657.3 528.8 1658.6 531.0 1659.9 533.1 1661.2 535.3 1662.4 537.4 1663.7 539.6 1665.0 541.8 1666.3 543.9 1667.6 546.1 1668.8 548.2 1670.1 550.4 1671.4 552.5 1672.7 554.7 1673.9 556.9 1675.2 559.0 1676.5 561.2 1677.7 563.4 1679.0 565.5 1680.2 567.7 1681.5 569.8 1682.7 572.0 1684.0 574.2 1685.2 576.4 1686.5 578.5 1687.7 580.7 1689.0 582.9 1690.2 585.0 1691.4 587.2 1692.7 589.4 1693.9 591.5 1695.1 593.7 1696.4 595.9 1697.6 598.1 1698.8 600.3 1700.0 602.4 1701.3 604.6 1702.5 606.8 1703.7 609.0 1704.9 611.1 1706.1 613.3 1707.3 615.5 1708.6 617.7 1709.8 619.9 1711.0 622.0 1712.2 624.2 1713.4 626.4 1714.6 628.6 1715.8 630.8 1717.0 633.0 1718.2 635.2 1719.4 637.3 1720.6 639.5 1721.8 641.7 1723.0 643.9 1724.2 646.1 1725.4 648.3 1726.6 650.5 1727.7 652.7 1728.9 654.8 1730.1 657.0 1731.3 659.2 1732.5 661.4 1733.7 663.6 1734.9 665.8 1736.0 668.0 1737.2 670.2 1738.4 672.4 1739.6 674.6 1740.8 676.8 1741.9 679.0 1743.1 681.2 1744.3 683.4 1745.5 685.6 1746.6 687.8 1747.8 690.0 1749.0 692.2 1750.1 694.3 1751.3 696.5 1752.5 698.7 1753.7 700.9 1754.8 703.1 1756.0 705.3 1757.2 707.5 1758.3 709.7 1759.5 711.9 1760.7 714.1 1761.8 716.3 1763.0 718.5 1764.1 720.7 1765.3 722.9 1766.5 725.1 1767.6 727.3 1768.8 729.5 1770.0 731.7 1771.1 734.0 1772.3 736.2 1773.4 738.4 1774.6 740.6 1775.8 742.8 1776.9 745.0 1778.1 747.2 1779.2 749.4 1780.4 751.6 1781.6 753.8 1782.7 756.0 1783.9 758.2 1785.0 760.4 1786.2 762.6 1787.4 764.8 1788.5 767.0 1789.7 769.2 1790.8 771.4 1792.0 773.6 1793.2 775.8 1794.3 778.0 1795.5 780.2 1796.6 782.4 1797.8 784.6 1799.0 786.8 1800.1 789.0 1801.3 791.2 1802.4 793.4 1803.6 795.7 1804.8 797.9 1805.9 800.1 1807.1 802.3 1808.3 804.5 1809.4 806.7 1810.6 808.9 1811.8 811.1 1812.9 813.3 1814.1 815.5 1815.3 817.7 1816.4 819.9 1817.6 822.1 1818.8 824.3 1819.9 826.5 1821.1 828.7 1822.3 830.9 1823.5 833.1 1824.6 835.3 1825.8 837.5 1827.0 839.7 1828.1 841.9 1829.3 844.1 1830.5 846.3 1831.7 848.5 1832.9 850.7 1834.0 852.9 1835.2 855.1 1836.4 857.3 1837.6 859.5 1838.8 861.7 1840.0 863.9 1841.2 866.1 1842.3 868.3 1843.5 870.5 1844.7 872.7 1845.9 874.9 1847.1 877.1 1848.3 879.3 1849.5 881.5 1850.7 883.7 1851.9 885.9 1853.1 888.1 1854.3 890.3 1855.5 892.5 1856.7 894.7 1857.9 896.9 1859.1 899.0 1860.3 901.2 1861.5 903.4 1862.8 905.6 1864.0 907.8 1865.2 910.0 1866.4 912.2 1867.6 914.4 1868.8 916.6 1870.1 918.8 1871.3 921.0 1872.5 923.1 1873.7 925.3 1875.0 927.5 1876.2 929.7 1877.4 931.9 1878.7 934.1 1879.9 936.3 1881.2 938.4 1882.4 940.6 1883.6 942.8 1884.9 945.0 1886.1 947.2 1887.4 949.4 1888.6 951.5 1889.9 953.7 1891.1 955.9 1892.4 958.1 1893.7 960.2 1894.9 962.4 1896.2 964.6 1897.5 966.8 1898.7 969.0 1900.0 971.1 1901.3 973.3 1902.6 975.5 1903.8 977.6 1905.1 979.8 1906.4 982.0 1907.7 984.1 1909.0 986.3 1910.3 988.5 1911.6 990.6 1912.9 992.8 1914.2 995.0 1915.5 997.1 1916.8 999.3 1918.1 1001.5 1919.4 1003.6 1920.7 1005.8 1922.0 1007.9 1923.3 1010.1 1924.6 1012.2 1925.9 1014.4 1927.3 1016.5 1928.6 1018.7 1929.9 1020.8 1931.3 1023.0 1932.6 1025.1 1933.9 1027.2 1935.3 1029.4 1936.6 1031.5 1938.0 1033.7 1939.3 1035.8 1940.7 1037.9 1942.0 1040.1 1943.4 1042.2 1944.7 1044.3 1946.1 1046.4 1947.4 1048.6 1948.8 1050.7 1950.2 1052.8 1951.6 1054.9 1952.9 1057.0 1954.3 1059.1 1955.7 1061.3 1957.1 1063.4 1958.5 1065.5 1959.9 1067.6 1961.2 1069.7 1962.6 1071.8 1964.0 1073.9 1965.4 1076.0 1966.9 1078.1 1968.3 1080.1 1969.7 1082.2 1971.1 1084.3 1972.5 1086.4 1973.9 1088.5 1975.4 1090.6 1976.8 1092.6 1978.2 1094.7 1979.6 1096.8 1981.1 1098.9 1982.5 1100.9 1984.0 1103.0 1985.4 1105.0 1986.9 1107.1 1988.3 1109.2 1989.8 1111.2 1991.2 1113.3 1992.7 1115.3 1994.2 1117.3 1995.6 1119.4 1997.1 1121.4 1998.6 1123.5 2000.1 1125.5 2001.6 1127.5 2003.0 1129.5 2004.5 1131.6 2006.0 1133.6 2007.5 1135.6 2009.0 1137.6 2010.5 1139.6 2012.0 1141.6 2013.6 1143.6 2015.1 1145.6 2016.6 1147.6 2018.1 1149.6 2019.6 1151.6 2021.2 1153.6 2022.7 1155.6 2024.3 1157.5 2025.8 1159.5 2027.3 1161.5 2028.9 1163.5 2030.4 1165.4 2032.0 1167.4 2033.6 1169.3 2035.1 1171.3 2036.7 1173.3 2038.3 1175.2 2039.8 1177.1 2041.4 1179.1 2043.0 1181.0 2044.6 1182.9 2046.2 1184.9 2047.8 1186.8 2049.4 1188.7 2051.0 1190.6 2052.6 1192.5 2054.2 1194.5 2055.8 1196.4 2057.4 1198.3 2059.1 1200.1 2060.7 1202.0 2062.3 1203.9 2064.0 1205.8 2065.6 1207.7 2067.2 1209.6 2068.9 1211.4 2070.5 1213.3 2072.2 1215.2 2073.9 1217.0 2075.5 1218.9 2077.2 1220.7 2078.9 1222.6 2080.5 1224.4 2082.2 1226.2 2083.9 1228.1 2085.6 1229.9 2087.3 1231.7 2089.0 1233.5 2090.7 1235.3 2092.4 1237.1 2094.1 1238.9 2095.8 1240.7 2097.5 1242.5 2099.3 1244.3 2101.0 1246.1 2102.7 1247.9 2104.5 1249.7 2106.2 1251.4 2108.0 1253.2 2109.7 1254.9 2111.5 1256.7 2113.2 1258.4 2115.0 1260.2 2116.8 1261.9 2118.5 1263.7 2120.3 1265.4 2122.1 1267.1 2123.9 1268.8 2125.7 1270.5 2127.5 1272.2 2129.3 1273.9 2131.1 1275.6 2132.9 1277.3 2134.7 1279.0 2136.6 1280.7 2138.4 1282.4 2140.2 1284.0 2142.1 1285.7 2143.9 1287.4 2145.7 1289.0 2147.6 1290.7 2149.4 1292.3 2151.3 1293.9 2153.2 1295.6 2155.0 1297.2 2156.9 1298.8 2158.8 1300.4 2160.7 1302.0 2162.6 1303.6 2164.5 1305.2 2166.4 1306.8 2168.3 1308.4 2170.2 1310.0 2172.1 1311.5 2174.0 1313.1 2175.9 1314.7 2177.9 1316.2 2179.8 1317.8 2181.8 1319.3 2183.7 1320.8 2185.7 1322.4 2187.6 1323.9 2189.6 1325.4 2191.5 1326.9 2193.5 1328.4 2195.5 1329.9 2197.5 1331.4 2199.5 1332.9 2201.5 1334.4 2203.5 1335.8 2205.5 1337.3 2207.5 1338.8 2209.5 1340.2 2211.5 1341.6 2213.5 1343.1 2215.6 1344.5 2217.6 1345.9 2219.6 1347.4 2221.7 1348.8 2223.7 1350.2 2225.8 1351.6 2227.9 1353.0 2229.9 1354.3 2232.0 1355.7 2234.1 1357.1 2236.2 1358.5 2238.3 1359.8 2240.4 1361.2 2242.5 1362.5 2244.6 1363.8 2246.7 1365.2 2248.8 1366.5 2250.9 1367.8 2253.1 1369.1 2255.2 1370.4 2257.3 1371.7 2259.5 1373.0 2261.7 1374.3 2263.8 1375.5 2266.0 1376.8 2268.1 1378.1 2270.3 1379.3 2272.5 1380.6 2274.7 1381.8 2276.9 1383.0 2279.1 1384.2 2281.3 1385.4 2283.5 1386.6 2285.7 1387.8 2288.0 1389.0 2290.2 1390.2 2292.4 1391.4 2294.7 1392.6 2296.9 1393.7 2299.2 1394.9 2301.4 1396.0 2303.7 1397.1 2306.0 1398.3 2308.3 1399.4 2310.5 1400.5 2312.8 1401.6 2315.1 1402.7 2317.4 1403.8 2319.7 1404.9 2322.1 1405.9 2324.4 1407.0 2326.7 1408.0 2329.0 1409.1 2331.4 1410.1 2333.7 1411.2 2336.1 1412.2 2338.5 1413.2 2340.8 1414.2 2343.2 1415.2 2345.6 1416.2 2348.0 1417.2 2350.3 1418.1 2352.7 1419.1 2355.2 1420.1 2357.6 1421.0 2360.0 1421.9 2362.4 1422.9 2364.8 1423.8"/>
<path stroke="#ff0000" stroke-dasharray="22.5 29.5" stroke-linecap="round" d="M345.0 1546.0L345.4 1544.0 345.7 1541.9 346.0 1539.9 346.4 1537.8 346.7 1535.7 347.1 1533.6 347.4 1531.5 347.7 1529.4 348.1 1527.4 348.4 1525.4 348.8 1523.5 349.2 1521.6 349.6 1519.8 350.0 1518.0 350.6 1515.8 351.1 1513.7 351.7 1511.7 352.3 1509.8 353.0 1507.9 353.6 1506.0 354.3 1504.1 355.0 1502.0 355.7 1500.1 356.4 1498.1 357.2 1496.2 358.0 1494.2 358.8 1492.2 359.6 1490.1 360.4 1488.1 361.2 1485.9 362.0 1483.7 362.7 1481.5 363.3 1479.7 363.8 1477.8 364.4 1475.8 364.9 1473.8 365.4 1471.8 365.9 1469.8 366.5 1467.7 367.0 1465.6 367.5 1463.5 367.9 1461.4 368.4 1459.3 368.9 1457.2 369.4 1455.1 369.8 1453.0 370.3 1451.0 370.7 1449.0 371.2 1447.0 371.6 1445.0 372.0 1443.0 372.4 1441.0 372.8 1439.0 373.2 1437.0 373.6 1435.0 374.0 1433.0 374.3 1431.0 374.7 1429.0 375.1 1427.0 375.5 1425.0 375.9 1423.0 376.3 1421.0 376.7 1419.0 377.1 1417.0 377.5 1414.9 377.9 1412.9 378.3 1410.8 378.7 1408.8 379.1 1406.8 379.5 1404.7 379.9 1402.7 380.3 1400.7 380.7 1398.7 381.1 1396.7 381.5 1394.8 382.0 1392.9 382.4 1391.0 382.9 1388.8 383.5 1386.7 384.0 1384.6 384.6 1382.5 385.1 1380.5 385.7 1378.5 386.2 1376.5 386.8 1374.4 387.3 1372.3 387.9 1370.2 388.4 1368.0 388.8 1366.1 389.2 1364.2 389.7 1362.2 390.1 1360.2 390.5 1358.2 390.9 1356.1 391.3 1354.0 391.6 1352.0 392.0 1349.9 392.4 1347.8 392.8 1345.8 393.2 1343.8 393.7 1341.8 394.1 1339.9 394.5 1338.0 395.0 1335.8 395.5 1333.6 396.1 1331.4 396.6 1329.2 397.1 1327.0 397.6 1324.9 398.2 1322.8 398.7 1320.8 399.3 1318.8 399.9 1316.9 400.5 1315.0 401.2 1313.0 402.0 1311.1 402.9 1309.2 403.7 1307.4 404.6 1305.7 405.3 1303.9 406.0 1302.0 406.6 1300.0 407.0 1298.2 407.3 1296.4 407.6 1294.6 407.8 1292.7 407.9 1290.9 408.0 1288.9 408.1 1286.9 408.2 1284.7 408.4 1282.4 408.5 1280.0 408.6 1278.5 408.7 1276.9 408.8 1275.2 408.9 1273.5 408.9 1271.7 409.0 1269.9 409.1 1268.0 409.2 1266.1 409.3 1264.1 409.3 1262.1 409.4 1260.1 409.5 1258.1 409.5 1256.0 409.6 1253.9 409.7 1251.7 409.7 1249.6 409.8 1247.4 409.8 1245.3 409.9 1243.1 410.0 1240.9 410.0 1238.8 410.1 1236.6 410.2 1234.5 410.2 1232.3 410.3 1230.2 410.4 1228.1 410.4 1226.0 410.5 1224.0 410.6 1222.0 410.6 1220.0 410.7 1217.9 410.8 1215.8 410.8 1213.8 410.9 1211.7 410.9 1209.6 411.0 1207.5 411.0 1205.4 411.1 1203.3 411.2 1201.2 411.2 1199.1 411.3 1197.0 411.3 1194.9 411.4 1192.8 411.4 1190.7 411.5 1188.7 411.6 1186.6 411.6 1184.6 411.7 1182.5 411.8 1180.5 411.8 1178.5 411.9 1176.5 412.0 1174.5 412.1 1172.6 412.2 1170.6 412.3 1168.7 412.4 1166.9 412.5 1165.0 412.6 1162.8 412.8 1160.5 412.9 1158.2 413.0 1155.9 413.1 1153.5 413.2 1151.2 413.3 1148.9 413.5 1146.6 413.6 1144.3 413.7 1142.1 413.9 1139.9 414.1 1137.8 414.2 1135.8 414.4 1133.9 414.6 1132.1 414.9 1130.4 415.1 1128.8 415.4 1127.4 415.7 1126.1 416.0 1125.0 417.5 1121.5 419.0 1120.0 419.5 1120.5 420.0 1121.8 420.5 1123.6 420.9 1126.0 421.3 1128.6 421.6 1131.5 422.0 1134.4 422.2 1135.7 422.3 1137.0 422.4 1138.4 422.6 1139.9 422.7 1141.5 422.8 1143.1 422.9 1144.8 423.1 1146.6 423.2 1148.5 423.3 1150.4 423.4 1152.3 423.5 1154.3 423.6 1156.4 423.7 1158.4 423.8 1160.6 423.9 1162.7 423.9 1164.9 424.0 1167.2 424.1 1169.4 424.2 1171.7 424.3 1173.9 424.4 1176.2 424.4 1178.5 424.5 1180.8 424.6 1183.1 424.7 1185.4 424.8 1187.7 424.9 1190.0 424.9 1192.3 425.0 1194.5 425.1 1196.7 425.2 1198.9 425.3 1201.1 425.4 1203.2 425.5 1205.3 425.6 1207.4 425.7 1209.4 425.8 1211.3 425.9 1213.2 426.0 1215.0 426.1 1217.3 426.3 1219.6 426.4 1222.0 426.5 1224.3 426.7 1226.7 426.8 1229.1 426.9 1231.5 427.0 1233.8 427.2 1236.2 427.3 1238.5 427.4 1240.8 427.5 1243.1 427.7 1245.4 427.8 1247.6 427.9 1249.7 428.1 1251.8 428.2 1253.9 428.4 1255.8 428.6 1257.8 428.7 1259.6 428.9 1261.3 429.1 1263.0 429.3 1264.5 429.5 1266.0 429.8 1267.3 430.0 1268.5 430.7 1271.6 431.5 1274.3 432.3 1276.3 433.0 1277.0 433.5 1276.5 434.1 1275.3 434.6 1273.4 435.1 1270.9 435.5 1268.2 436.0 1265.2 436.1 1264.2 436.3 1263.1 436.4 1262.0 436.5 1260.8 436.7 1259.5 436.8 1258.1 436.9 1256.7 437.0 1255.3 437.1 1253.7 437.3 1252.2 437.4 1250.5 437.5 1248.8 437.6 1247.1 437.7 1245.3 437.8 1243.5 437.9 1241.6 437.9 1239.7 438.0 1237.7 438.1 1235.7 438.2 1233.7 438.3 1231.6 438.4 1229.5 438.5 1227.4 438.5 1225.2 438.6 1223.0 438.7 1220.8 438.8 1218.6 438.8 1216.3 438.9 1214.0 439.0 1211.7 439.1 1209.4 439.1 1207.0 439.2 1204.7 439.3 1202.3 439.3 1200.0 439.4 1197.6 439.5 1195.2 439.5 1192.8 439.6 1190.4 439.7 1188.1 439.7 1185.7 439.8 1183.3 439.9 1180.9 439.9 1178.6 440.0 1176.2 440.1 1173.9 440.1 1171.6 440.2 1169.3 440.3 1167.0 440.4 1164.7 440.4 1162.4 440.5 1160.2 440.6 1158.0 440.7 1155.8 440.7 1153.7 440.8 1151.6 440.9 1149.5 441.0 1147.4 441.1 1145.4 441.2 1143.3 441.3 1141.3 441.3 1139.2 441.4 1137.1 441.5 1135.0 441.6 1132.9 441.7 1130.8 441.8 1128.7 441.8 1126.5 441.9 1124.4 442.0 1122.2 442.1 1120.1 442.2 1117.9 442.3 1115.8 442.3 1113.6 442.4 1111.5 442.5 1109.3 442.6 1107.1 442.7 1104.9 442.8 1102.8 442.8 1100.6 442.9 1098.4 443.0 1096.3 443.1 1094.1 443.2 1092.0 443.3 1089.8 443.3 1087.7 443.4 1085.5 443.5 1083.4 443.6 1081.3 443.7 1079.2 443.8 1077.1 443.8 1075.0 443.9 1072.9 444.0 1070.8 444.1 1068.8 444.2 1066.7 444.3 1064.7 444.4 1062.7 444.4 1060.7 444.5 1058.7 444.6 1056.7 444.7 1054.7 444.8 1052.8 444.9 1050.9 445.0 1049.0 445.1 1047.1 445.2 1045.3 445.2 1043.4 445.3 1041.6 445.4 1039.8 445.5 1038.1 445.6 1036.3 445.7 1034.6 445.8 1032.9 445.9 1031.3 446.0 1029.6 446.1 1027.1 446.3 1024.5 446.4 1021.8 446.6 1019.1 446.7 1016.3 446.8 1013.6 447.0 1010.8 447.1 1008.0 447.2 1005.3 447.4 1002.6 447.5 999.9 447.7 997.4 447.8 994.9 447.9 992.5 448.1 990.3 448.3 988.2 448.4 986.2 448.6 984.4 448.8 982.8 448.9 981.4 449.1 980.3 449.3 979.3 449.5 978.6 449.8 978.2 450.0 978.0 450.4 978.4 450.9 979.4 451.5 981.1 452.0 983.3 452.5 985.8 453.0 988.6 453.5 991.4 454.0 994.3 454.2 995.6 454.4 997.0 454.5 998.5 454.7 1000.0 454.8 1001.7 455.0 1003.4 455.1 1005.2 455.3 1007.1 455.4 1009.0 455.5 1011.0 455.7 1013.1 455.8 1015.2 455.9 1017.3 456.0 1019.5 456.1 1021.7 456.2 1024.0 456.3 1026.3 456.4 1028.6 456.5 1030.9 456.6 1033.3 456.7 1035.6 456.8 1038.0 456.9 1040.4 457.0 1042.8 457.1 1045.1 457.2 1047.5 457.3 1049.8 457.4 1052.1 457.5 1054.4 457.6 1056.7 457.7 1058.9 457.8 1061.1 457.9 1063.2 458.0 1065.3 458.1 1067.4 458.2 1069.3 458.3 1071.3 458.5 1073.1 458.6 1074.9 458.7 1076.6 458.9 1078.3 459.0 1079.8 459.3 1082.5 459.5 1085.1 459.7 1087.7 460.0 1090.2 460.2 1092.7 460.4 1095.1 460.7 1097.3 460.9 1099.5 461.2 1101.6 461.5 1103.5 461.8 1105.2 462.2 1106.8 462.6 1108.3 463.0 1109.5 464.5 1112.7 466.0 1114.0 466.4 1113.7 466.8 1112.9 467.1 1111.7 467.4 1110.1 467.6 1108.3 467.8 1106.1 468.0 1103.8 468.2 1101.2 468.4 1098.5 468.6 1095.7 468.8 1092.8 469.0 1089.9 469.1 1088.7 469.2 1087.5 469.3 1086.3 469.4 1085.0 469.5 1083.6 469.5 1082.3 469.6 1080.8 469.7 1079.4 469.8 1077.9 469.9 1076.3 470.0 1074.8 470.1 1073.2 470.1 1071.5 470.2 1069.8 470.3 1068.1 470.4 1066.3 470.5 1064.6 470.6 1062.7 470.6 1060.9 470.7 1059.0 470.8 1057.1 470.9 1055.2 471.0 1053.2 471.0 1051.3 471.1 1049.2 471.2 1047.2 471.3 1045.2 471.4 1043.1 471.4 1041.0 471.5 1038.9 471.6 1036.7 471.7 1034.6 471.7 1032.4 471.8 1030.2 471.9 1028.0 472.0 1025.8 472.0 1023.6 472.1 1021.4 472.2 1019.1 472.3 1016.8 472.3 1014.6 472.4 1012.3 472.5 1010.0 472.6 1007.7 472.6 1005.4 472.7 1003.1 472.8 1000.8 472.9 998.5 472.9 996.1 473.0 993.8 473.1 991.5 473.1 989.2 473.2 986.9 473.3 984.6 473.4 982.3 473.4 980.0 473.5 977.7 473.6 975.4 473.6 973.1 473.7 970.8 473.8 968.5 473.9 966.3 473.9 964.0 474.0 961.8 474.1 959.6 474.1 957.4 474.2 955.2 474.3 953.0 474.4 950.8 474.4 948.7 474.5 946.6 474.6 944.4 474.6 942.4 474.7 940.3 474.8 938.2 474.9 936.2 474.9 934.2 475.0 932.3 475.1 930.2 475.2 928.1 475.2 925.9 475.3 923.8 475.4 921.6 475.4 919.5 475.5 917.3 475.6 915.0 475.7 912.8 475.7 910.6 475.8 908.4 475.9 906.1 475.9 903.8 476.0 901.6 476.1 899.3 476.1 897.0 476.2 894.7 476.3 892.4 476.3 890.1 476.4 887.8 476.5 885.5 476.5 883.2 476.6 880.9 476.7 878.6 476.7 876.3 476.8 874.0 476.8 871.8 476.9 869.5 477.0 867.2 477.0 864.9 477.1 862.7 477.2 860.4 477.2 858.2 477.3 856.0 477.4 853.8 477.4 851.6 477.5 849.4 477.6 847.2 477.6 845.1 477.7 842.9 477.8 840.8 477.8 838.7 477.9 836.6 478.0 834.6 478.0 832.6 478.1 830.5 478.2 828.6 478.3 826.6 478.3 824.7 478.4 822.8 478.5 820.9 478.6 819.1 478.6 817.2 478.7 815.5 478.8 813.7 478.9 812.0 478.9 810.3 479.0 808.7 479.1 807.1 479.2 805.5 479.3 804.0 479.4 802.5 479.4 801.0 479.5 799.6 479.6 798.2 479.7 796.9 479.8 795.6 479.9 794.4 480.0 793.2 480.2 790.2 480.5 787.1 480.7 784.2 481.0 781.4 481.2 778.7 481.5 776.3 481.7 774.2 482.0 772.5 482.3 771.2 482.6 770.3 483.0 770.0 483.5 770.4 484.1 771.7 484.7 773.6 485.3 776.0 485.9 778.9 486.5 782.1 487.0 785.4 487.1 786.4 487.3 787.5 487.4 788.7 487.6 789.9 487.7 791.2 487.8 792.6 487.9 794.0 488.1 795.5 488.2 797.0 488.3 798.6 488.4 800.2 488.5 801.8 488.6 803.5 488.7 805.3 488.8 807.1 488.9 808.9 489.0 810.8 489.0 812.7 489.1 814.7 489.2 816.7 489.3 818.7 489.4 820.8 489.4 822.8 489.5 825.0 489.6 827.1 489.6 829.3 489.7 831.5 489.8 833.7 489.8 835.9 489.9 838.2 489.9 840.4 490.0 842.7 490.1 845.0 490.1 847.3 490.2 849.6 490.2 852.0 490.3 854.3 490.3 856.7 490.4 859.0 490.4 861.4 490.5 863.7 490.5 866.1 490.6 868.4 490.6 870.8 490.7 873.1 490.7 875.5 490.8 877.8 490.8 880.1 490.9 882.5 490.9 884.8 491.0 887.0 491.1 889.3 491.1 891.6 491.2 893.8 491.2 896.0 491.3 898.2 491.4 900.4 491.4 902.5 491.5 904.6 491.5 906.7 491.6 908.8 491.7 910.8 491.8 912.8 491.8 914.7 491.9 916.6 492.0 918.5 492.1 920.7 492.2 923.0 492.3 925.2 492.4 927.5 492.5 929.8 492.5 932.2 492.6 934.5 492.7 936.9 492.8 939.3 492.8 941.7 492.9 944.1 493.0 946.6 493.1 949.0 493.1 951.4 493.2 953.8 493.3 956.2 493.4 958.7 493.4 961.1 493.5 963.5 493.6 965.8 493.7 968.2 493.7 970.5 493.8 972.8 493.9 975.1 494.0 977.4 494.1 979.6 494.2 981.8 494.3 984.0 494.4 986.1 494.5 988.2 494.6 990.3 494.7 992.3 494.8 994.2 494.9 996.1 495.0 998.0 495.1 999.7 495.2 1001.5 495.4 1003.1 495.5 1004.7 495.7 1006.3 495.8 1007.7 496.0 1009.1 496.1 1010.5 496.3 1011.7 496.4 1012.9 496.6 1013.9 496.8 1014.9 497.0 1015.8 498.0 1019.4 499.0 1022.1 500.0 1023.0 500.4 1022.7 500.7 1021.9 501.0 1020.6 501.3 1019.0 501.6 1017.0 501.8 1014.7 502.1 1012.2 502.3 1009.5 502.5 1006.6 502.8 1003.6 503.0 1000.6 503.1 999.5 503.2 998.4 503.2 997.3 503.3 996.1 503.4 994.8 503.5 993.5 503.6 992.2 503.6 990.9 503.7 989.5 503.8 988.0 503.8 986.6 503.9 985.0 504.0 983.5 504.1 981.9 504.1 980.3 504.2 978.6 504.2 976.9 504.3 975.2 504.4 973.5 504.4 971.7 504.5 969.9 504.6 968.1 504.6 966.2 504.7 964.3 504.7 962.4 504.8 960.4 504.8 958.5 504.9 956.5 505.0 954.5 505.0 952.4 505.1 950.4 505.1 948.3 505.2 946.2 505.2 944.1 505.3 941.9 505.3 939.8 505.4 937.6 505.4 935.4 505.5 933.2 505.5 931.0 505.6 928.7 505.6 926.5 505.7 924.2 505.7 922.0 505.8 919.7 505.8 917.4 505.9 915.1 505.9 912.8 505.9 910.5 506.0 908.2 506.0 905.8 506.1 903.5 506.1 901.2 506.2 898.8 506.2 896.5 506.3 894.2 506.3 891.8 506.4 889.5 506.4 887.1 506.4 884.8 506.5 882.5 506.5 880.1 506.6 877.8 506.6 875.5 506.7 873.1 506.7 870.8 506.8 868.5 506.8 866.2 506.9 863.9 506.9 861.6 507.0 859.4 507.0 857.1 507.0 854.8 507.1 852.6 507.1 850.4 507.2 848.2 507.2 846.0 507.3 843.8 507.3 841.6 507.4 839.5 507.4 837.4 507.5 835.3 507.6 833.2 507.6 831.1 507.7 829.1 507.7 827.0 507.8 825.0 507.8 823.1 507.9 821.1 507.9 819.2 508.0 817.3 508.1 815.1 508.1 813.0 508.2 810.8 508.3 808.7 508.3 806.5 508.4 804.3 508.5 802.1 508.5 799.9 508.6 797.7 508.7 795.5 508.7 793.3 508.8 791.1 508.9 788.8 508.9 786.6 509.0 784.4 509.1 782.2 509.1 779.9 509.2 777.7 509.3 775.5 509.3 773.3 509.4 771.0 509.5 768.8 509.5 766.6 509.6 764.4 509.7 762.1 509.7 759.9 509.8 757.7 509.9 755.5 510.0 753.3 510.0 751.1 510.1 749.0 510.2 746.8 510.2 744.6 510.3 742.5 510.4 740.3 510.4 738.2 510.5 736.1 510.6 733.9 510.6 731.8 510.7 729.8 510.8 727.7 510.9 725.6 510.9 723.6 511.0 721.6 511.1 719.5 511.1 717.5 511.2 715.6 511.3 713.6 511.4 711.7 511.4 709.7 511.5 707.8 511.6 705.9 511.6 704.1 511.7 702.2 511.8 700.4 511.9 698.6 511.9 696.8 512.0 695.1 512.1 693.3 512.2 691.6 512.2 690.0 512.3 688.3 512.4 686.7 512.5 685.1 512.5 683.5 512.6 682.0 512.7 680.5 512.8 679.0 512.8 677.5 512.9 676.1 513.0 674.7 513.1 672.0 513.3 669.2 513.4 666.4 513.6 663.6 513.7 660.8 513.8 658.1 513.9 655.4 514.1 652.7 514.2 650.2 514.4 647.9 514.5 645.6 514.6 643.6 514.8 641.7 515.0 640.1 515.2 638.7 515.3 637.6 515.5 636.7 515.8 636.2 516.0 636.0 516.4 636.3 516.8 637.2 517.3 638.7 517.7 640.6 518.2 642.9 518.7 645.5 519.1 648.3 519.6 651.3 520.0 654.4 520.1 655.5 520.2 656.6 520.4 657.7 520.5 658.9 520.6 660.2 520.7 661.5 520.8 662.9 520.9 664.3 521.0 665.8 521.1 667.3 521.2 668.9 521.3 670.5 521.4 672.1 521.5 673.8 521.6 675.5 521.7 677.3 521.8 679.1 521.9 681.0 522.0 682.9 522.1 684.8 522.1 686.8 522.2 688.8 522.3 690.8 522.4 692.8 522.4 694.9 522.5 697.0 522.6 699.2 522.7 701.3 522.7 703.5 522.8 705.7 522.9 707.9 522.9 710.2 523.0 712.4 523.1 714.7 523.1 717.0 523.2 719.3 523.2 721.7 523.3 724.0 523.4 726.4 523.4 728.7 523.5 731.1 523.5 733.5 523.6 735.8 523.6 738.2 523.7 740.6 523.8 743.0 523.8 745.4 523.9 747.8 523.9 750.2 524.0 752.6 524.0 755.0 524.1 757.3 524.2 759.7 524.2 762.1 524.3 764.4 524.3 766.8 524.4 769.1 524.4 771.4 524.5 773.7 524.6 776.0 524.6 778.3 524.7 780.5 524.7 782.7 524.8 785.0 524.9 787.1 524.9 789.3 525.0 791.5 525.0 793.6 525.1 795.7 525.2 797.7 525.2 799.7 525.3 801.7 525.4 803.7 525.5 805.6 525.5 807.5 525.6 809.4 525.7 811.2 525.8 813.0 525.8 814.8 525.9 816.5 526.0 818.1 526.1 820.5 526.2 823.0 526.3 825.4 526.5 827.9 526.6 830.4 526.7 832.8 526.8 835.3 526.8 837.8 526.9 840.3 527.0 842.7 527.1 845.2 527.2 847.6 527.3 850.0 527.4 852.4 527.5 854.8 527.6 857.2 527.7 859.5 527.8 861.8 527.9 864.0 528.0 866.2 528.1 868.4 528.2 870.5 528.3 872.5 528.5 874.6 528.6 876.5 528.7 878.4 528.9 880.2 529.0 881.9 529.2 883.6 529.3 885.2 529.5 886.7 529.7 888.2 529.9 889.5 530.1 890.8 530.3 892.0 530.5 893.0 530.8 894.0 531.0 894.9 532.5 898.6 534.0 900.0 534.4 899.7 534.7 899.1 535.1 898.1 535.4 896.8 535.7 895.2 535.9 893.3 536.2 891.3 536.4 889.0 536.7 886.5 536.9 883.9 537.1 881.2 537.3 878.4 537.6 875.6 537.8 872.7 538.0 869.8 538.1 868.6 538.2 867.4 538.3 866.1 538.3 864.8 538.4 863.5 538.5 862.2 538.6 860.8 538.7 859.3 538.8 857.9 538.8 856.3 538.9 854.8 539.0 853.2 539.1 851.6 539.1 850.0 539.2 848.3 539.3 846.6 539.3 844.9 539.4 843.1 539.5 841.3 539.5 839.5 539.6 837.7 539.6 835.8 539.7 833.9 539.8 832.0 539.8 830.1 539.9 828.1 539.9 826.1 540.0 824.1 540.1 822.1 540.1 820.0 540.2 817.9 540.2 815.8 540.3 813.7 540.3 811.6 540.4 809.5 540.4 807.3 540.5 805.1 540.5 802.9 540.6 800.7 540.6 798.5 540.7 796.3 540.7 794.1 540.7 791.8 540.8 789.6 540.8 787.3 540.9 785.0 540.9 782.7 541.0 780.4 541.0 778.1 541.1 775.8 541.1 773.5 541.1 771.2 541.2 768.9 541.2 766.6 541.3 764.3 541.3 761.9 541.3 759.6 541.4 757.3 541.4 755.0 541.5 752.6 541.5 750.3 541.5 748.0 541.6 745.7 541.6 743.4 541.7 741.1 541.7 738.8 541.7 736.5 541.8 734.2 541.8 732.0 541.9 729.7 541.9 727.5 541.9 725.2 542.0 723.0 542.0 720.8 542.1 718.6 542.1 716.4 542.2 714.2 542.2 712.0 542.2 709.9 542.3 707.7 542.3 705.6 542.4 703.5 542.4 701.4 542.5 699.4 542.5 697.3 542.6 695.3 542.6 693.3 542.6 691.4 542.7 689.4 542.7 687.5 542.8 685.6 542.8 683.7 542.9 681.8 542.9 680.0 543.0 678.2 543.1 676.0 543.1 673.7 543.2 671.4 543.3 669.2 543.3 666.9 543.4 664.6 543.4 662.3 543.5 660.0 543.6 657.8 543.6 655.5 543.7 653.2 543.8 650.9 543.8 648.6 543.9 646.3 543.9 644.0 544.0 641.8 544.0 639.5 544.1 637.2 544.2 635.0 544.2 632.7 544.3 630.5 544.3 628.2 544.4 626.0 544.5 623.8 544.5 621.6 544.6 619.4 544.6 617.2 544.7 615.0 544.8 612.8 544.8 610.7 544.9 608.6 544.9 606.5 545.0 604.4 545.1 602.3 545.1 600.2 545.2 598.2 545.3 596.2 545.3 594.2 545.4 592.2 545.4 590.3 545.5 588.3 545.6 586.4 545.7 584.6 545.7 582.7 545.8 580.9 545.9 579.1 545.9 577.3 546.0 575.6 546.1 573.9 546.2 572.2 546.2 570.5 546.3 568.9 546.4 567.3 546.5 565.8 546.6 564.3 546.6 562.8 546.7 561.3 546.8 559.9 546.9 558.6 547.0 557.2 547.2 554.5 547.4 551.7 547.6 548.9 547.8 546.1 547.9 543.4 548.1 540.8 548.3 538.4 548.6 536.1 548.8 534.1 549.0 532.4 549.2 531.0 549.5 529.9 549.7 529.2 550.0 529.0 550.4 529.3 550.7 530.2 551.1 531.5 551.6 533.3 552.0 535.5 552.4 537.9 552.8 540.6 553.2 543.5 553.6 546.4 554.0 549.4 554.1 550.5 554.3 551.7 554.4 553.0 554.5 554.3 554.6 555.7 554.7 557.1 554.9 558.6 555.0 560.1 555.1 561.6 555.2 563.2 555.3 564.9 555.4 566.6 555.5 568.4 555.6 570.1 555.7 572.0 555.8 573.8 555.9 575.7 556.0 577.7 556.1 579.6 556.2 581.6 556.3 583.7 556.4 585.7 556.5 587.8 556.6 590.0 556.6 592.1 556.7 594.3 556.8 596.5 556.9 598.7 557.0 600.9 557.1 603.1 557.1 605.4 557.2 607.7 557.3 610.0 557.4 612.3 557.4 614.6 557.5 616.9 557.6 619.2 557.7 621.5 557.7 623.9 557.8 626.2 557.9 628.5 558.0 630.9 558.0 633.2 558.1 635.6 558.2 637.9 558.2 640.2 558.3 642.5 558.4 644.8 558.4 647.1 558.5 649.4 558.6 651.7 558.7 653.9 558.7 656.2 558.8 658.4 558.9 660.6 558.9 662.8 559.0 664.9 559.1 667.1 559.2 669.2 559.2 671.2 559.3 673.3 559.4 675.3 559.5 677.3 559.5 679.3 559.6 681.2 559.7 683.1 559.8 684.9 559.8 686.7 559.9 688.5 560.0 690.2 560.1 692.5 560.2 694.9 560.3 697.2 560.4 699.6 560.5 701.9 560.6 704.3 560.7 706.7 560.8 709.0 560.9 711.4 561.0 713.7 561.1 716.0 561.2 718.3 561.3 720.7 561.4 722.9 561.5 725.2 561.6 727.5 561.7 729.7 561.8 731.9 561.9 734.0 562.0 736.2 562.1 738.3 562.2 740.4 562.3 742.4 562.4 744.4 562.5 746.3 562.6 748.2 562.8 750.1 562.9 751.9 563.0 753.7 563.1 755.4 563.2 757.0 563.3 758.6 563.4 760.1 563.5 761.6 563.6 763.0 563.8 764.3 563.9 765.6 564.0 766.8 564.3 769.7 564.7 772.5 565.0 775.1 565.4 777.1 565.7 778.5 566.0 779.0 566.1 778.9 566.2 778.6 566.3 778.1 566.3 777.4 566.4 776.6 566.5 775.6 566.5 774.5 566.6 773.2 566.6 771.7 566.7 770.1 566.7 768.4 566.7 766.6 566.8 764.7 566.8 762.6 566.8 760.5 566.8 758.3 566.8 756.0 566.9 753.6 566.9 751.2 566.9 748.7 566.9 746.1 566.9 743.5 566.9 740.9 566.9 738.2 566.9 735.5 566.9 732.9 566.9 730.2 566.9 727.5 566.9 724.8 566.9 722.1 566.9 719.4 566.9 716.8 566.9 714.2 566.9 711.7 566.9 709.2 566.9 706.8 567.0 704.5 567.0 702.2 567.0 700.0 567.0 698.1 567.0 696.2 567.1 694.3 567.1 692.4 567.1 690.4 567.1 688.5 567.1 686.5 567.2 684.5 567.2 682.5 567.2 680.5 567.2 678.5 567.2 676.5 567.3 674.5 567.3 672.5 567.3 670.4 567.3 668.4 567.3 666.3 567.4 664.3 567.4 662.2 567.4 660.2 567.4 658.1 567.4 656.1 567.4 654.0 567.5 651.9 567.5 649.9 567.5 647.8 567.5 645.8 567.5 643.7 567.6 641.6 567.6 639.6 567.6 637.5 567.6 635.5 567.6 633.4 567.7 631.4 567.7 629.4 567.7 627.3 567.7 625.3 567.7 623.3 567.8 621.3 567.8 619.3 567.8 617.3 567.8 615.4 567.8 613.4 567.9 611.4 567.9 609.5 567.9 607.6 567.9 605.7 568.0 603.8 568.0 601.9 568.0 600.0 568.0 597.9 568.1 595.8 568.1 593.7 568.1 591.6 568.1 589.5 568.2 587.4 568.2 585.4 568.2 583.3 568.3 581.3 568.3 579.3 568.3 577.2 568.4 575.2 568.4 573.2 568.4 571.2 568.5 569.2 568.5 567.3 568.5 565.3 568.5 563.3 568.6 561.3 568.6 559.4 568.6 557.4 568.7 555.5 568.7 553.5 568.7 551.6 568.8 549.6 568.8 547.6 568.8 545.7 568.9 543.7 568.9 541.8 568.9 539.8 569.0 537.9 569.0 535.9 569.0 533.9 569.1 531.9 569.1 530.0 569.1 528.0 569.2 526.0 569.2 524.0 570.0 521.8 570.6 519.3 571.3 516.8 571.9 514.3 572.6 511.9 573.3 509.4 573.9 506.9 574.6 504.4 575.2 502.0 575.9 499.5 576.6 497.1 577.2 494.6 577.9 492.2 578.6 489.8 579.3 487.3 580.0 484.9 580.7 482.5 581.3 480.1 582.0 477.7 582.7 475.3 583.4 472.9 584.1 470.5 584.8 468.1 585.6 465.7 586.3 463.4 587.0 461.0 587.7 458.6 588.4 456.2 589.2 453.9 589.9 451.5 590.7 449.2 591.4 446.8 592.2 444.4 592.9 442.1 593.7 439.8 594.4 437.4 595.2 435.1 596.0 432.7 596.8 430.4 597.6 428.1 598.4 425.7 599.2 423.4 600.0 421.1 600.8 418.8 601.6 416.4 602.4 414.1 603.3 411.8 604.1 409.5 604.9 407.2 605.8 404.9 606.6 402.5 607.5 400.2 608.4 397.9 609.3 395.6 610.1 393.3 611.0 391.0 611.9 388.7 612.8 386.4 613.7 384.1 614.7 381.8 615.6 379.5 616.5 377.2 617.5 374.8 618.4 372.5 619.4 370.2 620.4 367.9 621.3 365.6 622.3 363.3 623.3 361.0 624.3 358.7 625.3 356.4 626.4 354.1 627.4 351.8 628.4 349.4 629.5 347.1 630.5 344.8 631.6 342.5 632.7 340.2 633.8 337.9 634.9 335.6 636.0 333.3 637.1 331.0 638.2 328.7 639.4 326.4 640.5 324.1 641.7 321.8 642.9 319.6 644.1 317.3 645.3 315.0 646.5 312.8 647.7 310.5 649.0 308.3 650.2 306.1 651.5 303.9 652.8 301.7 654.1 299.5 655.4 297.3 656.8 295.1 658.1 293.0 659.5 290.8 660.9 288.7 662.2 286.6 663.7 284.5 665.1 282.4 666.5 280.3 668.0 278.2 669.5 276.2 671.0 274.2 672.5 272.1 674.0 270.2 675.6 268.2 677.1 266.2 678.7 264.3 680.3 262.4 681.9 260.5 683.6 258.6 685.2 256.7 686.9 254.9 688.6 253.1 690.3 251.3 692.1 249.5 693.8 247.8 695.6 246.1 697.4 244.4 699.3 242.7 701.1 241.1 703.0 239.5 704.9 237.9 706.8 236.3 708.7 234.8 710.7 233.3 712.6 231.8 714.6 230.3 716.6 228.9 718.7 227.5 720.7 226.2 722.8 224.8 724.9 223.5 727.0 222.3 729.1 221.1 731.3 219.9 733.5 218.7 735.6 217.6 737.8 216.5 740.1 215.4 742.3 214.4 744.5 213.4 746.8 212.5 749.1 211.6 751.4 210.7 753.7 209.9 756.0 209.1 758.3 208.3 760.7 207.6 763.0 207.0 765.4 206.3 767.8 205.7 770.2 205.2 772.6 204.7 775.0 204.2 777.5 203.8 779.9 203.4 782.4 203.1 784.8 202.8 787.3 202.5 789.8 202.3 792.2 202.1 794.7 201.9 797.2 201.8 799.7 201.7 802.2 201.6 804.7 201.5 807.3 201.5 809.8 201.5 812.3 201.5 814.8 201.6 817.3 201.7 819.9 201.8 822.4 201.9 824.9 202.0 827.4 202.2 830.0 202.3 832.5 202.5 835.0 202.7 837.5 202.9 840.0 203.2 842.5 203.4 845.0 203.7 847.5 203.9 850.0 204.2 852.5 204.5 855.0 204.8 857.5 205.1 860.0 205.5 862.5 205.8 864.9 206.1 867.4 206.5 869.9 206.9 872.4 207.3 874.8 207.7 877.3 208.1 879.8 208.5 882.2 208.9 884.7 209.3 887.1 209.8 889.6 210.2 892.0 210.7 894.5 211.2 896.9 211.7 899.4 212.2 901.8 212.7 904.2 213.2 906.7 213.7 909.1 214.2 911.5 214.8 914.0 215.3 916.4 215.9 918.8 216.4 921.2 217.0 923.7 217.6 926.1 218.1 928.5 218.7 930.9 219.3 933.3 219.9 935.7 220.5 938.2 221.1 940.6 221.8 943.0 222.4 945.4 223.0 947.8 223.7 950.2 224.3 952.6 225.0 955.0 225.6 957.4 226.3 959.8 226.9 962.2 227.6 964.6 228.3 967.0 229.0 969.4 229.6 971.8 230.3 974.2 231.0 976.6 231.7 979.0 232.4 981.4 233.1 983.8 233.8 986.2 234.5 988.6 235.2 991.0 235.9 993.4 236.7 995.8 237.4 998.2 238.1 1000.5 238.8 1002.9 239.5 1005.3 240.3 1007.7 241.0 1010.1 241.7 1012.5 242.4 1014.9 243.2 1017.3 243.9 1019.7 244.6 1022.1 245.4 1024.5 246.1 1026.9 246.8 1029.3 247.5 1031.7 248.3 1034.1 249.0 1036.5 249.7 1038.9 250.5 1041.3 251.2 1043.7 251.9 1046.1 252.6 1048.5 253.4 1050.9 254.1 1053.3 254.8 1055.7 255.5 1058.1 256.2 1060.5 257.0 1062.9 257.7 1065.3 258.4 1067.8 259.1 1070.2 259.8 1072.6 260.5 1075.0 261.2 1077.4 261.9 1079.8 262.6 1082.3 263.3 1084.7 263.9 1087.1 264.6 1089.5 265.3 1092.0 266.0 1094.4 266.6 1096.8 267.3 1099.3 267.9 1101.7 268.6 1104.1 269.2 1106.6 269.9 1109.0 270.5 1111.5 271.2 1113.9 271.8 1116.3 272.5 1118.8 273.1 1121.2 273.7 1123.7 274.4 1126.1 275.0 1128.6 275.6 1131.0 276.2 1133.5 276.9 1135.9 277.5 1138.4 278.1 1140.8 278.7 1143.3 279.3 1145.7 279.9 1148.2 280.6 1150.6 281.2 1153.1 281.8 1155.5 282.4 1158.0 283.0 1160.4 283.6 1162.9 284.2 1165.3 284.9 1167.8 285.5 1170.2 286.1 1172.7 286.7 1175.1 287.3 1177.6 287.9 1180.0 288.6 1182.5 289.2 1184.9 289.8 1187.4 290.4 1189.8 291.1 1192.3 291.7 1194.7 292.3 1197.1 292.9 1199.6 293.6 1202.0 294.2 1204.5 294.8 1206.9 295.5 1209.3 296.1 1211.8 296.8 1214.2 297.4 1216.6 298.1 1219.0 298.7 1221.5 299.4 1223.9 300.1 1226.3 300.7 1228.7 301.4 1231.2 302.1 1233.6 302.8 1236.0 303.4 1238.4 304.1 1240.8 304.8 1243.2 305.5 1245.6 306.2 1248.0 306.9 1250.4 307.6 1252.8 308.4 1255.2 309.1 1257.6 309.8 1260.0 310.6 1262.4 311.3 1264.7 312.0 1267.1 312.8 1269.5 313.6 1271.9 314.3 1274.2 315.1 1276.6 315.9 1279.0 316.7 1281.3 317.5 1283.7 318.3 1286.0 319.1 1288.4 319.9 1290.7 320.7 1293.0 321.6 1295.4 322.4 1297.7 323.3 1300.0 324.1 1302.4 325.0 1304.7 325.9 1307.0 326.7 1309.3 327.6 1311.6 328.5 1313.9 329.5 1316.2 330.4 1318.5 331.3 1320.8 332.2 1323.1 333.2 1325.3 334.2 1327.6 335.1 1329.9 336.1 1332.1 337.1 1334.4 338.1 1336.6 339.1 1338.9 340.1 1341.1 341.2 1343.4 342.2 1345.6 343.3 1347.8 344.3 1350.0 345.4 1352.3 346.5 1354.5 347.6 1356.7 348.7 1358.9 349.8 1361.0 351.0 1363.2 352.1 1365.4 353.3 1367.6 354.5 1369.7 355.6 1371.9 356.9 1374.1 358.1 1376.2 359.3 1378.3 360.5 1380.5 361.8 1382.6 363.1 1384.7 364.3 1386.8 365.6 1388.9 366.9 1391.0 368.3 1393.1 369.6 1395.2 371.0 1397.3 372.3 1399.4 373.7 1401.4 375.1 1403.5 376.5 1405.6 377.9 1407.6 379.4 1409.6 380.8 1411.7 382.3 1413.7 383.8 1415.7 385.3 1417.7 386.8 1419.7 388.3 1421.7 389.8 1423.7 391.4 1425.7 392.9 1427.6 394.5 1429.6 396.1 1431.6 397.7 1433.5 399.3 1435.5 400.9 1437.4 402.5 1439.3 404.1 1441.2 405.8 1443.2 407.4 1445.1 409.1 1447.0 410.8 1448.9 412.5 1450.8 414.2 1452.6 415.9 1454.5 417.6 1456.4 419.3 1458.2 421.0 1460.1 422.8 1461.9 424.5 1463.8 426.2 1465.6 428.0 1467.4 429.8 1469.3 431.5 1471.1 433.3 1472.9 435.1 1474.7 436.9 1476.5 438.7 1478.3 440.5 1480.0 442.3 1481.8 444.1 1483.6 446.0 1485.3 447.8 1487.1 449.6 1488.8 451.5 1490.6 453.3 1492.3 455.1 1494.0 457.0 1495.7 458.9 1497.5 460.7 1499.2 462.6 1500.9 464.4 1502.5 466.3 1504.2 468.2 1505.9 470.1 1507.6 472.0 1509.3 473.8 1510.9 475.7 1512.6 477.6 1514.2 479.5 1515.9 481.4 1517.5 483.4 1519.1 485.3 1520.8 487.2 1522.4 489.1 1524.0 491.0 1525.6 493.0 1527.2 494.9 1528.8 496.8 1530.4 498.8 1532.0 500.7 1533.5 502.7 1535.1 504.6 1536.7 506.6 1538.2 508.5 1539.8 510.5 1541.3 512.5 1542.9 514.4 1544.4 516.4 1546.0 518.4 1547.5 520.4 1549.0 522.4 1550.5 524.3 1552.0 526.3 1553.6 528.3 1555.1 530.3 1556.6 532.3 1558.0 534.3 1559.5 536.3 1561.0 538.4 1562.5 540.4 1564.0 542.4 1565.4 544.4 1566.9 546.4 1568.4 548.5 1569.8 550.5 1571.3 552.5 1572.7 554.6 1574.2 556.6 1575.6 558.7 1577.0 560.7 1578.4 562.8 1579.9 564.8 1581.3 566.9 1582.7 568.9 1584.1 571.0 1585.5 573.0 1586.9 575.1 1588.3 577.2 1589.7 579.2 1591.1 581.3 1592.5 583.4 1593.9 585.5 1595.2 587.6 1596.6 589.6 1598.0 591.7 1599.3 593.8 1600.7 595.9 1602.1 598.0 1603.4 600.1 1604.8 602.2 1606.1 604.3 1607.5 606.4 1608.8 608.5 1610.1 610.6 1611.5 612.7 1612.8 614.8 1614.1 617.0 1615.4 619.1 1616.8 621.2 1618.1 623.3 1619.4 625.4 1620.7 627.6 1622.0 629.7 1623.3 631.8 1624.6 634.0 1625.9 636.1 1627.2 638.2 1628.5 640.4 1629.8 642.5 1631.1 644.6 1632.3 646.8 1633.6 648.9 1634.9 651.1 1636.2 653.2 1637.4 655.4 1638.7 657.5 1640.0 659.7 1641.2 661.8 1642.5 664.0 1643.8 666.1 1645.0 668.3 1646.3 670.5 1647.5 672.6 1648.8 674.8 1650.0 677.0 1651.3 679.1 1652.5 681.3 1653.7 683.5 1655.0 685.6 1656.2 687.8 1657.5 690.0 1658.7 692.1 1659.9 694.3 1661.1 696.5 1662.4 698.7 1663.6 700.8 1664.8 703.0 1666.0 705.2 1667.3 707.4 1668.5 709.6 1669.7 711.7 1670.9 713.9 1672.1 716.1 1673.3 718.3 1674.5 720.5 1675.8 722.7 1677.0 724.9 1678.2 727.1 1679.4 729.2 1680.6 731.4 1681.8 733.6 1683.0 735.8 1684.2 738.0 1685.4 740.2 1686.6 742.4 1687.8 744.6 1689.0 746.8 1690.2 749.0 1691.4 751.2 1692.5 753.4 1693.7 755.6 1694.9 757.7 1696.1 759.9 1697.3 762.1 1698.5 764.3 1699.7 766.5 1700.9 768.7 1702.1 770.9 1703.3 773.1 1704.4 775.3 1705.6 777.5 1706.8 779.7 1708.0 781.9 1709.2 784.1 1710.4 786.3 1711.5 788.5 1712.7 790.7 1713.9 792.9 1715.1 795.1 1716.3 797.3 1717.4 799.5 1718.6 801.7 1719.8 803.9 1721.0 806.1 1722.2 808.3 1723.3 810.5 1724.5 812.7 1725.7 814.9 1726.9 817.1 1728.1 819.3 1729.2 821.5 1730.4 823.7 1731.6 825.9 1732.8 828.1 1733.9 830.3 1735.1 832.6 1736.3 834.8 1737.5 837.0 1738.7 839.2 1739.8 841.4 1741.0 843.6 1742.2 845.8 1743.4 848.0 1744.5 850.2 1745.7 852.4 1746.9 854.6 1748.1 856.8 1749.3 859.0 1750.4 861.2 1751.6 863.4 1752.8 865.6 1754.0 867.8 1755.1 870.0 1756.3 872.2 1757.5 874.4 1758.7 876.6 1759.9 878.8 1761.1 881.0 1762.2 883.2 1763.4 885.4 1764.6 887.6 1765.8 889.8 1767.0 892.0 1768.2 894.2 1769.3 896.4 1770.5 898.6 1771.7 900.8 1772.9 903.0 1774.1 905.2 1775.3 907.4 1776.5 909.6 1777.7 911.8 1778.9 914.0 1780.0 916.2 1781.2 918.4 1782.4 920.6 1783.6 922.8 1784.8 925.0 1786.0 927.2 1787.2 929.4 1788.4 931.6 1789.6 933.8 1790.8 936.0 1792.0 938.1 1793.2 940.3 1794.4 942.5 1795.6 944.7 1796.8 946.9 1798.0 949.1 1799.2 951.3 1800.4 953.5 1801.7 955.7 1802.9 957.9 1804.1 960.1 1805.3 962.3 1806.5 964.4 1807.7 966.6 1808.9 968.8 1810.2 971.0 1811.4 973.2 1812.6 975.4 1813.8 977.6 1815.1 979.7 1816.3 981.9 1817.5 984.1 1818.7 986.3 1820.0 988.5 1821.2 990.7 1822.4 992.8 1823.7 995.0 1824.9 997.2 1826.2 999.4 1827.4 1001.6 1828.6 1003.7 1829.9 1005.9 1831.1 1008.1 1832.4 1010.3 1833.6 1012.4 1834.9 1014.6 1836.1 1016.8 1837.4 1019.0 1838.6 1021.1 1839.9 1023.3 1841.2 1025.5 1842.4 1027.6 1843.7 1029.8 1844.9 1032.0 1846.2 1034.1 1847.5 1036.3 1848.8 1038.5 1850.0 1040.6 1851.3 1042.8 1852.6 1045.0 1853.9 1047.1 1855.2 1049.3 1856.4 1051.4 1857.7 1053.6 1859.0 1055.8 1860.3 1057.9 1861.6 1060.1 1862.9 1062.2 1864.2 1064.4 1865.5 1066.5 1866.8 1068.7 1868.1 1070.8 1869.4 1073.0 1870.7 1075.1 1872.0 1077.3 1873.4 1079.4 1874.7 1081.6 1876.0 1083.7 1877.3 1085.9 1878.6 1088.0 1880.0 1090.1 1881.3 1092.3 1882.6 1094.4 1884.0 1096.5 1885.3 1098.7 1886.7 1100.8 1888.0 1102.9 1889.4 1105.1 1890.7 1107.2 1892.1 1109.3 1893.4 1111.4 1894.8 1113.5 1896.1 1115.7 1897.5 1117.8 1898.9 1119.9 1900.3 1122.0 1901.6 1124.1 1903.0 1126.2 1904.4 1128.3 1905.8 1130.4 1907.2 1132.5 1908.6 1134.6 1909.9 1136.7 1911.3 1138.8 1912.7 1140.9 1914.2 1143.0 1915.6 1145.0 1917.0 1147.1 1918.4 1149.2 1919.8 1151.3 1921.2 1153.4 1922.7 1155.4 1924.1 1157.5 1925.5 1159.6 1927.0 1161.6 1928.4 1163.7 1929.8 1165.7 1931.3 1167.8 1932.7 1169.8 1934.2 1171.9 1935.7 1173.9 1937.1 1176.0 1938.6 1178.0 1940.1 1180.0 1941.5 1182.1 1943.0 1184.1 1944.5 1186.1 1946.0 1188.1 1947.5 1190.1 1949.0 1192.2 1950.5 1194.2 1952.0 1196.2 1953.5 1198.2 1955.0 1200.2 1956.5 1202.2 1958.0 1204.2 1959.5 1206.1 1961.1 1208.1 1962.6 1210.1 1964.1 1212.1 1965.7 1214.1 1967.2 1216.0 1968.8 1218.0 1970.3 1220.0 1971.9 1221.9 1973.4 1223.9 1975.0 1225.8 1976.6 1227.8 1978.1 1229.7 1979.7 1231.6 1981.3 1233.6 1982.9 1235.5 1984.5 1237.4 1986.1 1239.3 1987.7 1241.2 1989.3 1243.1 1990.9 1245.1 1992.5 1247.0 1994.2 1248.8 1995.8 1250.7 1997.4 1252.6 1999.1 1254.5 2000.7 1256.4 2002.4 1258.3 2004.0 1260.1 2005.7 1262.0 2007.3 1263.8 2009.0 1265.7 2010.7 1267.5 2012.3 1269.4 2014.0 1271.2 2015.7 1273.0 2017.4 1274.9 2019.1 1276.7 2020.8 1278.5 2022.5 1280.3 2024.2 1282.1 2026.0 1283.9 2027.7 1285.7 2029.4 1287.5 2031.1 1289.3 2032.9 1291.1 2034.6 1292.8 2036.4 1294.6 2038.1 1296.4 2039.9 1298.1 2041.7 1299.9 2043.5 1301.6 2045.2 1303.4 2047.0 1305.1 2048.8 1306.8 2050.6 1308.5 2052.4 1310.3 2054.2 1312.0 2056.0 1313.7 2057.9 1315.4 2059.7 1317.1 2061.5 1318.7 2063.4 1320.4 2065.2 1322.1 2067.1 1323.8 2068.9 1325.4 2070.8 1327.1 2072.6 1328.7 2074.5 1330.4 2076.4 1332.0 2078.3 1333.6 2080.2 1335.3 2082.1 1336.9 2084.0 1338.5 2085.9 1340.1 2087.8 1341.7 2089.7 1343.3 2091.7 1344.8 2093.6 1346.4 2095.6 1348.0 2097.5 1349.5 2099.5 1351.1 2101.4 1352.6 2103.4 1354.2 2105.4 1355.7 2107.3 1357.2 2109.3 1358.8 2111.3 1360.3 2113.3 1361.8 2115.3 1363.3 2117.4 1364.8 2119.4 1366.3 2121.4 1367.7 2123.4 1369.2 2125.5 1370.7 2127.5 1372.1 2129.6 1373.6 2131.6 1375.0 2133.7 1376.4 2135.7 1377.9 2137.8 1379.3 2139.9 1380.7 2142.0 1382.1 2144.1 1383.5 2146.1 1384.9 2148.2 1386.3 2150.4 1387.6 2152.5 1389.0 2154.6 1390.3 2156.7 1391.7 2158.8 1393.0 2161.0 1394.4 2163.1 1395.7 2165.2 1397.0 2167.4 1398.3 2169.5 1399.6 2171.7 1400.9 2173.8 1402.2 2176.0 1403.5 2178.2 1404.8 2180.4 1406.0 2182.5 1407.3 2184.7 1408.5 2186.9 1409.7 2189.1 1411.0 2191.3 1412.2 2193.5 1413.4 2195.7 1414.6 2197.9 1415.8 2200.2 1417.0 2202.4 1418.2 2204.6 1419.4 2206.8 1420.5 2209.1 1421.7 2211.3 1422.8 2213.5 1424.0 2215.8 1425.1 2218.0 1426.2 2220.3 1427.3 2222.6 1428.4 2224.8 1429.5 2227.1 1430.6 2229.4 1431.7 2231.6 1432.7 2233.9 1433.8 2236.2 1434.8 2238.5 1435.9 2240.8 1436.9 2243.1 1437.9 2245.4 1439.0 2247.7 1440.0 2250.0 1441.0 2252.3 1442.0 2254.6 1442.9 2256.9 1443.9 2259.2 1444.9 2261.6 1445.8 2263.9 1446.8 2266.2 1447.7 2268.5 1448.6 2270.9 1449.5 2273.2 1450.4 2275.6 1451.3 2277.9 1452.2 2280.2 1453.1 2282.6 1454.0 2284.9 1454.8 2287.3 1455.7 2289.7 1456.5 2292.0 1457.3 2294.4 1458.2 2296.8 1459.0 2299.1 1459.8 2301.5 1460.6 2303.9 1461.3 2306.2 1462.1 2308.6 1462.9 2311.0 1463.6 2313.4 1464.4 2315.8 1465.1 2318.2 1465.8 2320.6 1466.5 2323.0 1467.2 2325.4 1467.9 2327.8 1468.6 2330.2 1469.3 2332.6 1470.0 2335.0 1470.6 2337.4 1471.3 2339.8 1471.9 2342.2 1472.5 2344.6 1473.1 2347.0 1473.7 2349.4 1474.3 2351.8 1474.9 2354.3 1475.5 2356.7 1476.0 2359.1 1476.6 2361.5 1477.1 2364.0 1477.7"/>
<path stroke="#0000ff" stroke-dasharray="27.5 18.5 3.5 20.5" stroke-linecap="round" d="M345.0 1546.0L345.4 1544.0 345.7 1541.9 346.0 1539.9 346.4 1537.8 346.7 1535.7 347.1 1533.6 347.4 1531.5 347.7 1529.4 348.1 1527.4 348.4 1525.4 348.8 1523.5 349.2 1521.6 349.6 1519.8 350.0 1518.0 350.6 1515.8 351.1 1513.7 351.7 1511.7 352.3 1509.8 353.0 1507.9 353.6 1506.0 354.3 1504.1 355.0 1502.0 355.7 1500.1 356.4 1498.1 357.2 1496.2 358.0 1494.2 358.8 1492.2 359.6 1490.1 360.4 1488.1 361.2 1485.9 362.0 1483.7 362.7 1481.5 363.3 1479.7 363.8 1477.8 364.4 1475.8 364.9 1473.8 365.4 1471.8 365.9 1469.8 366.5 1467.7 367.0 1465.6 367.5 1463.5 367.9 1461.4 368.4 1459.3 368.9 1457.2 369.4 1455.1 369.8 1453.0 370.3 1451.0 370.7 1449.0 371.2 1447.0 371.6 1445.0 372.0 1443.0 372.4 1441.0 372.8 1439.0 373.2 1437.0 373.6 1435.0 374.0 1433.0 374.3 1431.0 374.7 1429.0 375.1 1427.0 375.5 1425.0 375.9 1423.0 376.3 1421.0 376.7 1419.0 377.1 1417.0 377.5 1414.9 377.9 1412.9 378.3 1410.8 378.7 1408.8 379.1 1406.8 379.5 1404.7 379.9 1402.7 380.3 1400.7 380.7 1398.7 381.1 1396.7 381.5 1394.8 382.0 1392.9 382.4 1391.0 382.9 1388.8 383.5 1386.7 384.0 1384.6 384.6 1382.5 385.1 1380.5 385.7 1378.5 386.2 1376.5 386.8 1374.4 387.3 1372.3 387.9 1370.2 388.4 1368.0 388.8 1366.1 389.2 1364.2 389.7 1362.2 390.1 1360.2 390.5 1358.2 390.9 1356.1 391.3 1354.0 391.6 1352.0 392.0 1349.9 392.4 1347.8 392.8 1345.8 393.2 1343.8 393.7 1341.8 394.1 1339.9 394.5 1338.0 395.0 1335.8 395.5 1333.6 396.1 1331.4 396.6 1329.2 397.1 1327.0 397.6 1324.9 398.2 1322.8 398.7 1320.8 399.3 1318.8 399.9 1316.9 400.5 1315.0 401.2 1313.0 402.0 1311.1 402.9 1309.2 403.7 1307.4 404.6 1305.7 405.3 1303.9 406.0 1302.0 406.6 1300.0 407.0 1298.2 407.3 1296.4 407.6 1294.6 407.8 1292.7 407.9 1290.9 408.0 1288.9 408.1 1286.9 408.2 1284.7 408.4 1282.4 408.5 1280.0 408.6 1278.5 408.7 1276.9 408.8 1275.2 408.9 1273.5 408.9 1271.7 409.0 1269.9 409.1 1268.0 409.2 1266.1 409.3 1264.1 409.3 1262.1 409.4 1260.1 409.5 1258.1 409.5 1256.0 409.6 1253.9 409.7 1251.7 409.7 1249.6 409.8 1247.4 409.8 1245.3 409.9 1243.1 410.0 1240.9 410.0 1238.8 410.1 1236.6 410.2 1234.5 410.2 1232.3 410.3 1230.2 410.4 1228.1 410.4 1226.0 410.5 1224.0 410.6 1222.0 410.6 1220.0 410.7 1217.9 410.8 1215.8 410.8 1213.8 410.9 1211.7 410.9 1209.6 411.0 1207.5 411.0 1205.4 411.1 1203.3 411.2 1201.2 411.2 1199.1 411.3 1197.0 411.3 1194.9 411.4 1192.8 411.4 1190.7 411.5 1188.7 411.6 1186.6 411.6 1184.6 411.7 1182.5 411.8 1180.5 411.8 1178.5 411.9 1176.5 412.0 1174.5 412.1 1172.6 412.2 1170.6 412.3 1168.7 412.4 1166.9 412.5 1165.0 412.6 1162.8 412.8 1160.5 412.9 1158.2 413.0 1155.9 413.1 1153.5 413.2 1151.2 413.3 1148.9 413.5 1146.6 413.6 1144.3 413.7 1142.1 413.9 1139.9 414.1 1137.8 414.2 1135.8 414.4 1133.9 414.6 1132.1 414.9 1130.4 415.1 1128.8 415.4 1127.4 415.7 1126.1 416.0 1125.0 417.5 1121.5 419.0 1120.0 419.5 1120.5 420.0 1121.8 420.5 1123.6 420.9 1126.0 421.3 1128.6 421.6 1131.5 422.0 1134.4 422.2 1135.7 422.3 1137.0 422.4 1138.4 422.6 1139.9 422.7 1141.5 422.8 1143.1 422.9 1144.8 423.1 1146.6 423.2 1148.5 423.3 1150.4 423.4 1152.3 423.5 1154.3 423.6 1156.4 423.7 1158.4 423.8 1160.6 423.9 1162.7 423.9 1164.9 424.0 1167.2 424.1 1169.4 424.2 1171.7 424.3 1173.9 424.4 1176.2 424.4 1178.5 424.5 1180.8 424.6 1183.1 424.7 1185.4 424.8 1187.7 424.9 1190.0 424.9 1192.3 425.0 1194.5 425.1 1196.7 425.2 1198.9 425.3 1201.1 425.4 1203.2 425.5 1205.3 425.6 1207.4 425.7 1209.4 425.8 1211.3 425.9 1213.2 426.0 1215.0 426.1 1217.3 426.3 1219.6 426.4 1222.0 426.5 1224.3 426.7 1226.7 426.8 1229.1 426.9 1231.5 427.0 1233.8 427.2 1236.2 427.3 1238.5 427.4 1240.8 427.5 1243.1 427.7 1245.4 427.8 1247.6 427.9 1249.7 428.1 1251.8 428.2 1253.9 428.4 1255.8 428.6 1257.8 428.7 1259.6 428.9 1261.3 429.1 1263.0 429.3 1264.5 429.5 1266.0 429.8 1267.3 430.0 1268.5 430.7 1271.6 431.5 1274.3 432.3 1276.3 433.0 1277.0 433.5 1276.5 434.1 1275.3 434.6 1273.4 435.1 1270.9 435.5 1268.2 436.0 1265.2 436.1 1264.2 436.3 1263.1 436.4 1262.0 436.5 1260.8 436.7 1259.5 436.8 1258.1 436.9 1256.7 437.0 1255.3 437.1 1253.7 437.3 1252.2 437.4 1250.5 437.5 1248.8 437.6 1247.1 437.7 1245.3 437.8 1243.5 437.9 1241.6 437.9 1239.7 438.0 1237.7 438.1 1235.7 438.2 1233.7 438.3 1231.6 438.4 1229.5 438.5 1227.4 438.5 1225.2 438.6 1223.0 438.7 1220.8 438.8 1218.6 438.8 1216.3 438.9 1214.0 439.0 1211.7 439.1 1209.4 439.1 1207.0 439.2 1204.7 439.3 1202.3 439.3 1200.0 439.4 1197.6 439.5 1195.2 439.5 1192.8 439.6 1190.4 439.7 1188.1 439.7 1185.7 439.8 1183.3 439.9 1180.9 439.9 1178.6 440.0 1176.2 440.1 1173.9 440.1 1171.6 440.2 1169.3 440.3 1167.0 440.4 1164.7 440.4 1162.4 440.5 1160.2 440.6 1158.0 440.7 1155.8 440.7 1153.7 440.8 1151.6 440.9 1149.5 441.0 1147.4 441.1 1145.4 441.2 1143.3 441.3 1141.3 441.3 1139.2 441.4 1137.1 441.5 1135.0 441.6 1132.9 441.7 1130.8 441.8 1128.7 441.8 1126.5 441.9 1124.4 442.0 1122.2 442.1 1120.1 442.2 1117.9 442.3 1115.8 442.3 1113.6 442.4 1111.5 442.5 1109.3 442.6 1107.1 442.7 1104.9 442.8 1102.8 442.8 1100.6 442.9 1098.4 443.0 1096.3 443.1 1094.1 443.2 1092.0 443.3 1089.8 443.3 1087.7 443.4 1085.5 443.5 1083.4 443.6 1081.3 443.7 1079.2 443.8 1077.1 443.8 1075.0 443.9 1072.9 444.0 1070.8 444.1 1068.8 444.2 1066.7 444.3 1064.7 444.4 1062.7 444.4 1060.7 444.5 1058.7 444.6 1056.7 444.7 1054.7 444.8 1052.8 444.9 1050.9 445.0 1049.0 445.1 1047.1 445.2 1045.3 445.2 1043.4 445.3 1041.6 445.4 1039.8 445.5 1038.1 445.6 1036.3 445.7 1034.6 445.8 1032.9 445.9 1031.3 446.0 1029.6 446.1 1027.1 446.3 1024.5 446.4 1021.8 446.6 1019.1 446.7 1016.3 446.8 1013.6 447.0 1010.8 447.1 1008.0 447.2 1005.3 447.4 1002.6 447.5 999.9 447.7 997.4 447.8 994.9 447.9 992.5 448.1 990.3 448.3 988.2 448.4 986.2 448.6 984.4 448.8 982.8 448.9 981.4 449.1 980.3 449.3 979.3 449.5 978.6 449.8 978.2 450.0 978.0 450.4 978.4 450.9 979.4 451.5 981.1 452.0 983.3 452.5 985.8 453.0 988.6 453.5 991.4 454.0 994.3 454.2 995.6 454.4 997.0 454.5 998.5 454.7 1000.0 454.8 1001.7 455.0 1003.4 455.1 1005.2 455.3 1007.1 455.4 1009.0 455.5 1011.0 455.7 1013.1 455.8 1015.2 455.9 1017.3 456.0 1019.5 456.1 1021.7 456.2 1024.0 456.3 1026.3 456.4 1028.6 456.5 1030.9 456.6 1033.3 456.7 1035.6 456.8 1038.0 456.9 1040.4 457.0 1042.8 457.1 1045.1 457.2 1047.5 457.3 1049.8 457.4 1052.1 457.5 1054.4 457.6 1056.7 457.7 1058.9 457.8 1061.1 457.9 1063.2 458.0 1065.3 458.1 1067.4 458.2 1069.3 458.3 1071.3 458.5 1073.1 458.6 1074.9 458.7 1076.6 458.9 1078.3 459.0 1079.8 459.3 1082.5 459.5 1085.1 459.7 1087.7 460.0 1090.2 460.2 1092.7 460.4 1095.1 460.7 1097.3 460.9 1099.5 461.2 1101.6 461.5 1103.5 461.8 1105.2 462.2 1106.8 462.6 1108.3 463.0 1109.5 464.5 1112.7 466.0 1114.0 466.4 1113.7 466.8 1112.9 467.1 1111.7 467.4 1110.1 467.6 1108.3 467.8 1106.1 468.0 1103.8 468.2 1101.2 468.4 1098.5 468.6 1095.7 468.8 1092.8 469.0 1089.9 469.1 1088.7 469.2 1087.5 469.3 1086.3 469.4 1085.0 469.5 1083.6 469.5 1082.3 469.6 1080.8 469.7 1079.4 469.8 1077.9 469.9 1076.3 470.0 1074.8 470.1 1073.2 470.1 1071.5 470.2 1069.8 470.3 1068.1 470.4 1066.3 470.5 1064.6 470.6 1062.7 470.6 1060.9 470.7 1059.0 470.8 1057.1 470.9 1055.2 471.0 1053.2 471.0 1051.3 471.1 1049.2 471.2 1047.2 471.3 1045.2 471.4 1043.1 471.4 1041.0 471.5 1038.9 471.6 1036.7 471.7 1034.6 471.7 1032.4 471.8 1030.2 471.9 1028.0 472.0 1025.8 472.0 1023.6 472.1 1021.4 472.2 1019.1 472.3 1016.8 472.3 1014.6 472.4 1012.3 472.5 1010.0 472.6 1007.7 472.6 1005.4 472.7 1003.1 472.8 1000.8 472.9 998.5 472.9 996.1 473.0 993.8 473.1 991.5 473.1 989.2 473.2 986.9 473.3 984.6 473.4 982.3 473.4 980.0 473.5 977.7 473.6 975.4 473.6 973.1 473.7 970.8 473.8 968.5 473.9 966.3 473.9 964.0 474.0 961.8 474.1 959.6 474.1 957.4 474.2 955.2 474.3 953.0 474.4 950.8 474.4 948.7 474.5 946.6 474.6 944.4 474.6 942.4 474.7 940.3 474.8 938.2 474.9 936.2 474.9 934.2 475.0 932.3 475.1 930.2 475.2 928.1 475.2 925.9 475.3 923.8 475.4 921.6 475.4 919.5 475.5 917.3 475.6 915.0 475.7 912.8 475.7 910.6 475.8 908.4 475.9 906.1 475.9 903.8 476.0 901.6 476.1 899.3 476.1 897.0 476.2 894.7 476.3 892.4 476.3 890.1 476.4 887.8 476.5 885.5 476.5 883.2 476.6 880.9 476.7 878.6 476.7 876.3 476.8 874.0 476.8 871.8 476.9 869.5 477.0 867.2 477.0 864.9 477.1 862.7 477.2 860.4 477.2 858.2 477.3 856.0 477.4 853.8 477.4 851.6 477.5 849.4 477.6 847.2 477.6 845.1 477.7 842.9 477.8 840.8 477.8 838.7 477.9 836.6 478.0 834.6 478.0 832.6 478.1 830.5 478.2 828.6 478.3 826.6 478.3 824.7 478.4 822.8 478.5 820.9 478.6 819.1 478.6 817.2 478.7 815.5 478.8 813.7 478.9 812.0 478.9 810.3 479.0 808.7 479.1 807.1 479.2 805.5 479.3 804.0 479.4 802.5 479.4 801.0 479.5 799.6 479.6 798.2 479.7 796.9 479.8 795.6 479.9 794.4 480.0 793.2 480.2 790.2 480.5 787.1 480.7 784.2 481.0 781.4 481.2 778.7 481.5 776.3 481.7 774.2 482.0 772.5 482.3 771.2 482.6 770.3 483.0 770.0 483.5 770.4 484.1 771.7 484.7 773.6 485.3 776.0 485.9 778.9 486.5 782.1 487.0 785.4 487.1 786.4 487.3 787.5 487.4 788.7 487.6 789.9 487.7 791.2 487.8 792.6 487.9 794.0 488.1 795.5 488.2 797.0 488.3 798.6 488.4 800.2 488.5 801.8 488.6 803.5 488.7 805.3 488.8 807.1 488.9 808.9 489.0 810.8 489.0 812.7 489.1 814.7 489.2 816.7 489.3 818.7 489.4 820.8 489.4 822.8 489.5 825.0 489.6 827.1 489.6 829.3 489.7 831.5 489.8 833.7 489.8 835.9 489.9 838.2 489.9 840.4 490.0 842.7 490.1 845.0 490.1 847.3 490.2 849.6 490.2 852.0 490.3 854.3 490.3 856.7 490.4 859.0 490.4 861.4 490.5 863.7 490.5 866.1 490.6 868.4 490.6 870.8 490.7 873.1 490.7 875.5 490.8 877.8 490.8 880.1 490.9 882.5 490.9 884.8 491.0 887.0 491.1 889.3 491.1 891.6 491.2 893.8 491.2 896.0 491.3 898.2 491.4 900.4 491.4 902.5 491.5 904.6 491.5 906.7 491.6 908.8 491.7 910.8 491.8 912.8 491.8 914.7 491.9 916.6 492.0 918.5 492.1 920.7 492.2 923.0 492.3 925.2 492.4 927.5 492.5 929.8 492.5 932.2 492.6 934.5 492.7 936.9 492.8 939.3 492.8 941.7 492.9 944.1 493.0 946.6 493.1 949.0 493.1 951.4 493.2 953.8 493.3 956.2 493.4 958.7 493.4 961.1 493.5 963.5 493.6 965.8 493.7 968.2 493.7 970.5 493.8 972.8 493.9 975.1 494.0 977.4 494.1 979.6 494.2 981.8 494.3 984.0 494.4 986.1 494.5 988.2 494.6 990.3 494.7 992.3 494.8 994.2 494.9 996.1 495.0 998.0 495.1 999.7 495.2 1001.5 495.4 1003.1 495.5 1004.7 495.7 1006.3 495.8 1007.7 496.0 1009.1 496.1 1010.5 496.3 1011.7 496.4 1012.9 496.6 1013.9 496.8 1014.9 497.0 1015.8 498.0 1019.4 499.0 1022.1 500.0 1023.0 500.4 1022.7 500.7 1021.9 501.0 1020.6 501.3 1019.0 501.6 1017.0 501.8 1014.7 502.1 1012.2 502.3 1009.5 502.5 1006.6 502.8 1003.6 503.0 1000.6 503.1 999.5 503.2 998.4 503.2 997.3 503.3 996.1 503.4 994.8 503.5 993.5 503.6 992.2 503.6 990.9 503.7 989.5 503.8 988.0 503.8 986.6 503.9 985.0 504.0 983.5 504.1 981.9 504.1 980.3 504.2 978.6 504.2 976.9 504.3 975.2 504.4 973.5 504.4 971.7 504.5 969.9 504.6 968.1 504.6 966.2 504.7 964.3 504.7 962.4 504.8 960.4 504.8 958.5 504.9 956.5 505.0 954.5 505.0 952.4 505.1 950.4 505.1 948.3 505.2 946.2 505.2 944.1 505.3 941.9 505.3 939.8 505.4 937.6 505.4 935.4 505.5 933.2 505.5 931.0 505.6 928.7 505.6 926.5 505.7 924.2 505.7 922.0 505.8 919.7 505.8 917.4 505.9 915.1 505.9 912.8 505.9 910.5 506.0 908.2 506.0 905.8 506.1 903.5 506.1 901.2 506.2 898.8 506.2 896.5 506.3 894.2 506.3 891.8 506.4 889.5 506.4 887.1 506.4 884.8 506.5 882.5 506.5 880.1 506.6 877.8 506.6 875.5 506.7 873.1 506.7 870.8 506.8 868.5 506.8 866.2 506.9 863.9 506.9 861.6 507.0 859.4 507.0 857.1 507.0 854.8 507.1 852.6 507.1 850.4 507.2 848.2 507.2 846.0 507.3 843.8 507.3 841.6 507.4 839.5 507.4 837.4 507.5 835.3 507.6 833.2 507.6 831.1 507.7 829.1 507.7 827.0 507.8 825.0 507.8 823.1 507.9 821.1 507.9 819.2 508.0 817.3 508.1 815.1 508.1 813.0 508.2 810.8 508.3 808.7 508.3 806.5 508.4 804.3 508.5 802.1 508.5 799.9 508.6 797.7 508.7 795.5 508.7 793.3 508.8 791.1 508.9 788.8 508.9 786.6 509.0 784.4 509.1 782.2 509.1 779.9 509.2 777.7 509.3 775.5 509.3 773.3 509.4 771.0 509.5 768.8 509.5 766.6 509.6 764.4 509.7 762.1 509.7 759.9 509.8 757.7 509.9 755.5 510.0 753.3 510.0 751.1 510.1 749.0 510.2 746.8 510.2 744.6 510.3 742.5 510.4 740.3 510.4 738.2 510.5 736.1 510.6 733.9 510.6 731.8 510.7 729.8 510.8 727.7 510.9 725.6 510.9 723.6 511.0 721.6 511.1 719.5 511.1 717.5 511.2 715.6 511.3 713.6 511.4 711.7 511.4 709.7 511.5 707.8 511.6 705.9 511.6 704.1 511.7 702.2 511.8 700.4 511.9 698.6 511.9 696.8 512.0 695.1 512.1 693.3 512.2 691.6 512.2 690.0 512.3 688.3 512.4 686.7 512.5 685.1 512.5 683.5 512.6 682.0 512.7 680.5 512.8 679.0 512.8 677.5 512.9 676.1 513.0 674.7 513.1 672.0 513.3 669.2 513.4 666.4 513.6 663.6 513.7 660.8 513.8 658.1 513.9 655.4 514.1 652.7 514.2 650.2 514.4 647.9 514.5 645.6 514.6 643.6 514.8 641.7 515.0 640.1 515.2 638.7 515.3 637.6 515.5 636.7 515.8 636.2 516.0 636.0 516.4 636.3 516.8 637.2 517.3 638.7 517.7 640.6 518.2 642.9 518.7 645.5 519.1 648.3 519.6 651.3 520.0 654.4 520.1 655.5 520.2 656.6 520.4 657.7 520.5 658.9 520.6 660.2 520.7 661.5 520.8 662.9 520.9 664.3 521.0 665.8 521.1 667.3 521.2 668.9 521.3 670.5 521.4 672.1 521.5 673.8 521.6 675.5 521.7 677.3 521.8 679.1 521.9 681.0 522.0 682.9 522.1 684.8 522.1 686.8 522.2 688.8 522.3 690.8 522.4 692.8 522.4 694.9 522.5 697.0 522.6 699.2 522.7 701.3 522.7 703.5 522.8 705.7 522.9 707.9 522.9 710.2 523.0 712.4 523.1 714.7 523.1 717.0 523.2 719.3 523.2 721.7 523.3 724.0 523.4 726.4 523.4 728.7 523.5 731.1 523.5 733.5 523.6 735.8 523.6 738.2 523.7 740.6 523.8 743.0 523.8 745.4 523.9 747.8 523.9 750.2 524.0 752.6 524.0 755.0 524.1 757.3 524.2 759.7 524.2 762.1 524.3 764.4 524.3 766.8 524.4 769.1 524.4 771.4 524.5 773.7 524.6 776.0 524.6 778.3 524.7 780.5 524.7 782.7 524.8 785.0 524.9 787.1 524.9 789.3 525.0 791.5 525.0 793.6 525.1 795.7 525.2 797.7 525.2 799.7 525.3 801.7 525.4 803.7 525.5 805.6 525.5 807.5 525.6 809.4 525.7 811.2 525.8 813.0 525.8 814.8 525.9 816.5 526.0 818.1 526.1 820.5 526.2 823.0 526.3 825.4 526.5 827.9 526.6 830.4 526.7 832.8 526.8 835.3 526.8 837.8 526.9 840.3 527.0 842.7 527.1 845.2 527.2 847.6 527.3 850.0 527.4 852.4 527.5 854.8 527.6 857.2 527.7 859.5 527.8 861.8 527.9 864.0 528.0 866.2 528.1 868.4 528.2 870.5 528.3 872.5 528.5 874.6 528.6 876.5 528.7 878.4 528.9 880.2 529.0 881.9 529.2 883.6 529.3 885.2 529.5 886.7 529.7 888.2 529.9 889.5 530.1 890.8 530.3 892.0 530.5 893.0 530.8 894.0 531.0 894.9 532.5 898.6 534.0 900.0 534.4 899.7 534.7 899.1 535.1 898.1 535.4 896.8 535.7 895.2 535.9 893.3 536.2 891.3 536.4 889.0 536.7 886.5 536.9 883.9 537.1 881.2 537.3 878.4 537.6 875.6 537.8 872.7 538.0 869.8 538.1 868.6 538.2 867.4 538.3 866.1 538.3 864.8 538.4 863.5 538.5 862.2 538.6 860.8 538.7 859.3 538.8 857.9 538.8 856.3 538.9 854.8 539.0 853.2 539.1 851.6 539.1 850.0 539.2 848.3 539.3 846.6 539.3 844.9 539.4 843.1 539.5 841.3 539.5 839.5 539.6 837.7 539.6 835.8 539.7 833.9 539.8 832.0 539.8 830.1 539.9 828.1 539.9 826.1 540.0 824.1 540.1 822.1 540.1 820.0 540.2 817.9 540.2 815.8 540.3 813.7 540.3 811.6 540.4 809.5 540.4 807.3 540.5 805.1 540.5 802.9 540.6 800.7 540.6 798.5 540.7 796.3 540.7 794.1 540.7 791.8 540.8 789.6 540.8 787.3 540.9 785.0 540.9 782.7 541.0 780.4 541.0 778.1 541.1 775.8 541.1 773.5 541.1 771.2 541.2 768.9 541.2 766.6 541.3 764.3 541.3 761.9 541.3 759.6 541.4 757.3 541.4 755.0 541.5 752.6 541.5 750.3 541.5 748.0 541.6 745.7 541.6 743.4 541.7 741.1 541.7 738.8 541.7 736.5 541.8 734.2 541.8 732.0 541.9 729.7 541.9 727.5 541.9 725.2 542.0 723.0 542.0 720.8 542.1 718.6 542.1 716.4 542.2 714.2 542.2 712.0 542.2 709.9 542.3 707.7 542.3 705.6 542.4 703.5 542.4 701.4 542.5 699.4 542.5 697.3 542.6 695.3 542.6 693.3 542.6 691.4 542.7 689.4 542.7 687.5 542.8 685.6 542.8 683.7 542.9 681.8 542.9 680.0 543.0 678.2 543.1 676.0 543.1 673.7 543.2 671.4 543.3 669.2 543.3 666.9 543.4 664.6 543.4 662.3 543.5 660.0 543.6 657.8 543.6 655.5 543.7 653.2 543.8 650.9 543.8 648.6 543.9 646.3 543.9 644.0 544.0 641.8 544.0 639.5 544.1 637.2 544.2 635.0 544.2 632.7 544.3 630.5 544.3 628.2 544.4 626.0 544.5 623.8 544.5 621.6 544.6 619.4 544.6 617.2 544.7 615.0 544.8 612.8 544.8 610.7 544.9 608.6 544.9 606.5 545.0 604.4 545.1 602.3 545.1 600.2 545.2 598.2 545.3 596.2 545.3 594.2 545.4 592.2 545.4 590.3 545.5 588.3 545.6 586.4 545.7 584.6 545.7 582.7 545.8 580.9 545.9 579.1 545.9 577.3 546.0 575.6 546.1 573.9 546.2 572.2 546.2 570.5 546.3 568.9 546.4 567.3 546.5 565.8 546.6 564.3 546.6 562.8 546.7 561.3 546.8 559.9 546.9 558.6 547.0 557.2 547.2 554.5 547.4 551.7 547.6 548.9 547.8 546.1 547.9 543.4 548.1 540.8 548.3 538.4 548.6 536.1 548.8 534.1 549.0 532.4 549.2 531.0 549.5 529.9 549.7 529.2 550.0 529.0 550.4 529.3 550.7 530.2 551.1 531.5 551.6 533.3 552.0 535.5 552.4 537.9 552.8 540.6 553.2 543.5 553.6 546.4 554.0 549.4 554.1 550.5 554.3 551.7 554.4 553.0 554.5 554.3 554.6 555.7 554.7 557.1 554.9 558.6 555.0 560.1 555.1 561.6 555.2 563.2 555.3 564.9 555.4 566.6 555.5 568.4 555.6 570.1 555.7 572.0 555.8 573.8 555.9 575.7 556.0 577.7 556.1 579.6 556.2 581.6 556.3 583.7 556.4 585.7 556.5 587.8 556.6 590.0 556.6 592.1 556.7 594.3 556.8 596.5 556.9 598.7 557.0 600.9 557.1 603.1 557.1 605.4 557.2 607.7 557.3 610.0 557.4 612.3 557.4 614.6 557.5 616.9 557.6 619.2 557.7 621.5 557.7 623.9 557.8 626.2 557.9 628.5 558.0 630.9 558.0 633.2 558.1 635.6 558.2 637.9 558.2 640.2 558.3 642.5 558.4 644.8 558.4 647.1 558.5 649.4 558.6 651.7 558.7 653.9 558.7 656.2 558.8 658.4 558.9 660.6 558.9 662.8 559.0 664.9 559.1 667.1 559.2 669.2 559.2 671.2 559.3 673.3 559.4 675.3 559.5 677.3 559.5 679.3 559.6 681.2 559.7 683.1 559.8 684.9 559.8 686.7 559.9 688.5 560.0 690.2 560.1 692.5 560.2 694.9 560.3 697.2 560.4 699.6 560.5 701.9 560.6 704.3 560.7 706.7 560.8 709.0 560.9 711.4 561.0 713.7 561.1 716.0 561.2 718.3 561.3 720.7 561.4 722.9 561.5 725.2 561.6 727.5 561.7 729.7 561.8 731.9 561.9 734.0 562.0 736.2 562.1 738.3 562.2 740.4 562.3 742.4 562.4 744.4 562.5 746.3 562.6 748.2 562.8 750.1 562.9 751.9 563.0 753.7 563.1 755.4 563.2 757.0 563.3 758.6 563.4 760.1 563.5 761.6 563.6 763.0 563.8 764.3 563.9 765.6 564.0 766.8 564.3 769.7 564.7 772.5 565.0 775.1 565.4 777.1 565.7 778.5 566.0 779.0 566.1 778.9 566.2 778.7 566.3 778.2 566.3 777.7 566.4 777.0 566.5 776.1 566.5 775.1 566.6 774.0 566.7 772.7 566.7 771.4 566.8 769.9 566.8 768.3 566.9 766.6 566.9 764.8 566.9 762.9 567.0 760.9 567.0 758.8 567.0 756.7 567.1 754.5 567.1 752.2 567.1 749.8 567.1 747.4 567.1 745.0 567.2 742.4 567.2 739.9 567.2 737.3 567.2 734.7 567.2 732.0 567.2 729.4 567.3 726.7 567.3 724.0 567.3 721.3 567.3 718.6 567.3 715.9 567.3 713.3 567.3 710.6 567.3 708.0 567.4 705.4 567.4 702.8 567.4 700.3 567.4 697.8 567.4 695.3 567.4 692.9 567.5 690.6 567.5 688.3 567.5 686.1 567.5 684.0 567.6 682.0 567.6 680.0 567.6 677.9 567.7 675.8 567.7 673.7 567.7 671.6 567.7 669.5 567.8 667.4 567.8 665.3 567.8 663.2 567.8 661.1 567.9 659.0 567.9 656.9 567.9 654.8 567.9 652.7 567.9 650.6 567.9 648.5 568.0 646.5 568.0 644.4 568.0 642.4 568.0 640.3 568.0 638.3 568.1 636.3 568.1 634.2 568.1 632.2 568.1 630.2 568.2 628.2 568.2 626.3 568.2 624.3 568.3 622.3 568.3 620.4 568.4 618.5 568.4 616.6 568.5 614.7 568.5 612.8 568.6 610.9 568.6 609.0 568.7 607.2 568.8 605.4 568.8 603.6 568.9 601.8 569.0 600.0 569.1 597.8 569.2 595.6 569.3 593.4 569.4 591.3 569.6 589.2 569.7 587.1 569.8 585.1 569.9 583.0 570.1 581.0 570.2 579.0 570.3 577.0 570.5 575.1 570.6 573.1 570.8 571.2 571.0 569.2 571.1 567.3 571.3 565.4 571.5 563.5 571.7 561.6 571.9 559.6 572.1 557.7 572.3 555.8 572.5 553.9 572.8 551.9 573.0 550.0 573.3 547.9 573.6 545.8 573.9 543.7 574.2 541.6 574.5 539.5 574.9 537.5 575.2 535.4 575.6 533.3 575.9 531.3 576.3 529.2 576.7 527.2 577.1 525.1 577.5 523.1 577.9 521.1 578.2 519.0 578.6 517.0 579.0 514.9 579.4 512.9 579.8 510.9 580.2 508.8 580.5 506.8 580.9 504.7 581.4 501.7 582.2 499.4 583.1 497.1 583.9 494.8 584.7 492.5 585.6 490.2 586.4 487.9 587.2 485.6 588.0 483.2 588.8 480.9 589.6 478.6 590.4 476.3 591.2 473.9 592.1 471.6 592.9 469.3 593.7 466.9 594.5 464.6 595.3 462.3 596.1 459.9 596.9 457.6 597.7 455.2 598.5 452.9 599.3 450.5 600.1 448.2 600.9 445.8 601.8 443.5 602.6 441.1 603.4 438.8 604.2 436.4 605.1 434.1 605.9 431.7 606.7 429.4 607.6 427.0 608.4 424.7 609.3 422.3 610.1 420.0 611.0 417.7 611.8 415.3 612.7 413.0 613.6 410.6 614.5 408.3 615.4 405.9 616.3 403.6 617.2 401.2 618.1 398.9 619.0 396.6 619.9 394.2 620.9 391.9 621.8 389.6 622.7 387.2 623.7 384.9 624.7 382.6 625.7 380.3 626.6 378.0 627.6 375.6 628.6 373.3 629.7 371.0 630.7 368.7 631.7 366.4 632.8 364.1 633.9 361.8 634.9 359.5 636.0 357.2 637.1 354.9 638.2 352.7 639.3 350.4 640.5 348.1 641.6 345.8 642.8 343.6 644.0 341.3 645.2 339.1 646.4 336.8 647.6 334.6 648.8 332.3 650.1 330.1 651.3 327.9 652.6 325.7 653.9 323.5 655.2 321.3 656.5 319.1 657.9 316.9 659.2 314.8 660.6 312.6 662.0 310.5 663.4 308.3 664.8 306.2 666.2 304.1 667.7 302.0 669.2 300.0 670.6 297.9 672.1 295.9 673.7 293.9 675.2 291.8 676.7 289.9 678.3 287.9 679.9 285.9 681.5 284.0 683.1 282.1 684.8 280.2 686.4 278.4 688.1 276.5 689.8 274.7 691.5 272.9 693.2 271.1 694.9 269.4 696.7 267.6 698.5 265.9 700.3 264.3 702.1 262.6 703.9 261.0 705.8 259.4 707.7 257.8 709.6 256.3 711.5 254.8 713.4 253.3 715.4 251.8 717.4 250.4 719.3 249.0 721.4 247.7 723.4 246.3 725.4 245.1 727.5 243.8 729.6 242.6 731.7 241.4 733.9 240.2 736.0 239.1 738.2 238.0 740.4 237.0 742.6 235.9 744.8 235.0 747.0 234.0 749.3 233.1 751.6 232.2 753.8 231.3 756.1 230.5 758.4 229.7 760.8 229.0 763.1 228.2 765.5 227.5 767.8 226.9 770.2 226.3 772.6 225.7 775.0 225.1 777.4 224.6 779.8 224.1 782.2 223.6 784.6 223.2 787.1 222.8 789.5 222.4 792.0 222.1 794.5 221.8 796.9 221.6 799.4 221.3 801.9 221.1 804.4 221.0 806.9 220.8 809.4 220.7 811.9 220.6 814.4 220.6 816.9 220.6 819.4 220.6 821.9 220.6 824.4 220.7 826.9 220.8 829.5 220.9 832.0 221.0 834.5 221.2 837.0 221.4 839.6 221.6 842.1 221.9 844.6 222.1 847.2 222.4 849.7 222.7 852.2 223.0 854.7 223.4 857.2 223.7 859.8 224.1 862.3 224.5 864.8 225.0 867.3 225.4 869.8 225.9 872.3 226.3 874.8 226.8 877.3 227.3 879.8 227.8 882.3 228.4 884.7 228.9 887.2 229.5 889.7 230.1 892.1 230.7 894.6 231.3 897.0 231.9 899.5 232.5 901.9 233.1 904.3 233.8 906.8 234.5 909.2 235.1 911.6 235.8 914.0 236.5 916.5 237.2 918.9 237.9 921.3 238.7 923.7 239.4 926.1 240.2 928.5 240.9 930.9 241.7 933.2 242.4 935.6 243.2 938.0 244.0 940.4 244.8 942.8 245.6 945.1 246.4 947.5 247.2 949.9 248.1 952.2 248.9 954.6 249.7 957.0 250.6 959.3 251.4 961.7 252.3 964.0 253.1 966.4 254.0 968.7 254.8 971.1 255.7 973.4 256.6 975.8 257.5 978.1 258.3 980.5 259.2 982.8 260.1 985.2 261.0 987.5 261.9 989.9 262.8 992.2 263.7 994.5 264.5 996.9 265.4 999.2 266.3 1001.6 267.2 1003.9 268.1 1006.2 269.0 1008.6 269.9 1010.9 270.8 1013.3 271.7 1015.6 272.6 1017.9 273.4 1020.3 274.3 1022.6 275.2 1025.0 276.1 1027.3 277.0 1029.7 277.8 1032.0 278.7 1034.4 279.6 1036.7 280.4 1039.1 281.3 1041.4 282.1 1043.8 283.0 1046.1 283.8 1048.5 284.7 1050.8 285.5 1053.2 286.3 1055.6 287.1 1057.9 287.9 1060.3 288.8 1062.7 289.6 1065.0 290.4 1067.4 291.2 1069.8 292.0 1072.2 292.8 1074.5 293.5 1076.9 294.3 1079.3 295.1 1081.7 295.9 1084.1 296.7 1086.4 297.4 1088.8 298.2 1091.2 299.0 1093.6 299.7 1096.0 300.5 1098.4 301.3 1100.8 302.0 1103.1 302.8 1105.5 303.6 1107.9 304.3 1110.3 305.1 1112.7 305.8 1115.1 306.6 1117.5 307.3 1119.9 308.1 1122.2 308.8 1124.6 309.6 1127.0 310.4 1129.4 311.1 1131.8 311.9 1134.2 312.6 1136.6 313.4 1139.0 314.1 1141.3 314.9 1143.7 315.7 1146.1 316.4 1148.5 317.2 1150.9 317.9 1153.3 318.7 1155.6 319.5 1158.0 320.3 1160.4 321.0 1162.8 321.8 1165.2 322.6 1167.5 323.4 1169.9 324.2 1172.3 325.0 1174.7 325.7 1177.0 326.5 1179.4 327.3 1181.8 328.2 1184.1 329.0 1186.5 329.8 1188.8 330.6 1191.2 331.4 1193.6 332.2 1195.9 333.1 1198.3 333.9 1200.6 334.8 1203.0 335.6 1205.3 336.5 1207.7 337.3 1210.0 338.2 1212.4 339.1 1214.7 340.0 1217.0 340.8 1219.4 341.7 1221.7 342.6 1224.0 343.5 1226.4 344.5 1228.7 345.4 1231.0 346.3 1233.3 347.2 1235.6 348.2 1237.9 349.1 1240.2 350.1 1242.5 351.1 1244.8 352.1 1247.1 353.0 1249.4 354.0 1251.7 355.0 1254.0 356.1 1256.3 357.1 1258.6 358.1 1260.9 359.2 1263.1 360.2 1265.4 361.3 1267.7 362.3 1269.9 363.4 1272.2 364.5 1274.4 365.6 1276.7 366.7 1278.9 367.8 1281.2 368.9 1283.4 370.1 1285.6 371.2 1287.9 372.3 1290.1 373.5 1292.3 374.7 1294.5 375.8 1296.7 377.0 1299.0 378.2 1301.2 379.4 1303.4 380.6 1305.5 381.8 1307.7 383.1 1309.9 384.3 1312.1 385.5 1314.3 386.8 1316.4 388.0 1318.6 389.3 1320.8 390.6 1322.9 391.9 1325.1 393.2 1327.2 394.5 1329.4 395.8 1331.5 397.1 1333.6 398.4 1335.7 399.7 1337.9 401.1 1340.0 402.4 1342.1 403.8 1344.2 405.1 1346.3 406.5 1348.4 407.9 1350.5 409.3 1352.5 410.7 1354.6 412.1 1356.7 413.5 1358.8 414.9 1360.8 416.4 1362.9 417.8 1364.9 419.2 1366.9 420.7 1369.0 422.2 1371.0 423.6 1373.0 425.1 1375.0 426.6 1377.1 428.1 1379.1 429.6 1381.1 431.1 1383.0 432.6 1385.0 434.1 1387.0 435.7 1389.0 437.2 1390.9 438.7 1392.9 440.3 1394.9 441.9 1396.8 443.4 1398.7 445.0 1400.7 446.6 1402.6 448.2 1404.5 449.8 1406.4 451.4 1408.3 453.0 1410.2 454.6 1412.1 456.3 1414.0 457.9 1415.9 459.5 1417.7 461.2 1419.6 462.8 1421.5 464.5 1423.3 466.2 1425.2 467.9 1427.0 469.5 1428.8 471.2 1430.7 472.9 1432.5 474.6 1434.3 476.3 1436.1 478.1 1437.9 479.8 1439.7 481.5 1441.5 483.3 1443.2 485.0 1445.0 486.8 1446.8 488.5 1448.5 490.3 1450.3 492.0 1452.1 493.8 1453.8 495.6 1455.5 497.4 1457.3 499.2 1459.0 501.0 1460.7 502.8 1462.4 504.6 1464.1 506.4 1465.8 508.3 1467.5 510.1 1469.2 511.9 1470.9 513.8 1472.6 515.6 1474.2 517.5 1475.9 519.3 1477.6 521.2 1479.2 523.0 1480.9 524.9 1482.5 526.8 1484.2 528.7 1485.8 530.6 1487.4 532.5 1489.1 534.4 1490.7 536.3 1492.3 538.2 1493.9 540.1 1495.5 542.0 1497.1 543.9 1498.7 545.9 1500.3 547.8 1501.8 549.7 1503.4 551.7 1505.0 553.6 1506.6 555.6 1508.1 557.5 1509.7 559.5 1511.2 561.5 1512.8 563.4 1514.3 565.4 1515.9 567.4 1517.4 569.4 1518.9 571.3 1520.4 573.3 1522.0 575.3 1523.5 577.3 1525.0 579.3 1526.5 581.3 1528.0 583.3 1529.5 585.4 1531.0 587.4 1532.5 589.4 1533.9 591.4 1535.4 593.4 1536.9 595.5 1538.4 597.5 1539.8 599.5 1541.3 601.6 1542.8 603.6 1544.2 605.7 1545.7 607.7 1547.1 609.8 1548.5 611.8 1550.0 613.9 1551.4 616.0 1552.8 618.0 1554.3 620.1 1555.7 622.2 1557.1 624.2 1558.5 626.3 1559.9 628.4 1561.3 630.5 1562.7 632.5 1564.1 634.6 1565.5 636.7 1566.9 638.8 1568.3 640.9 1569.7 643.0 1571.1 645.1 1572.4 647.2 1573.8 649.3 1575.2 651.4 1576.6 653.5 1577.9 655.6 1579.3 657.7 1580.6 659.8 1582.0 662.0 1583.3 664.1 1584.7 666.2 1586.0 668.3 1587.4 670.4 1588.7 672.6 1590.0 674.7 1591.4 676.8 1592.7 678.9 1594.0 681.1 1595.3 683.2 1596.7 685.3 1598.0 687.5 1599.3 689.6 1600.6 691.8 1601.9 693.9 1603.2 696.0 1604.5 698.2 1605.8 700.3 1607.1 702.5 1608.4 704.6 1609.7 706.8 1611.0 708.9 1612.3 711.1 1613.6 713.2 1614.8 715.4 1616.1 717.6 1617.4 719.7 1618.7 721.9 1619.9 724.0 1621.2 726.2 1622.5 728.4 1623.7 730.5 1625.0 732.7 1626.3 734.9 1627.5 737.1 1628.8 739.2 1630.0 741.4 1631.3 743.6 1632.5 745.7 1633.8 747.9 1635.0 750.1 1636.3 752.3 1637.5 754.5 1638.7 756.6 1640.0 758.8 1641.2 761.0 1642.5 763.2 1643.7 765.4 1644.9 767.6 1646.1 769.8 1647.4 772.0 1648.6 774.1 1649.8 776.3 1651.0 778.5 1652.3 780.7 1653.5 782.9 1654.7 785.1 1655.9 787.3 1657.1 789.5 1658.3 791.7 1659.5 793.9 1660.7 796.1 1662.0 798.3 1663.2 800.5 1664.4 802.7 1665.6 804.9 1666.8 807.1 1668.0 809.3 1669.2 811.5 1670.4 813.7 1671.6 815.9 1672.8 818.1 1674.0 820.3 1675.2 822.6 1676.3 824.8 1677.5 827.0 1678.7 829.2 1679.9 831.4 1681.1 833.6 1682.3 835.8 1683.5 838.0 1684.7 840.2 1685.9 842.4 1687.0 844.7 1688.2 846.9 1689.4 849.1 1690.6 851.3 1691.8 853.5 1693.0 855.7 1694.1 857.9 1695.3 860.2 1696.5 862.4 1697.7 864.6 1698.9 866.8 1700.0 869.0 1701.2 871.2 1702.4 873.5 1703.6 875.7 1704.7 877.9 1705.9 880.1 1707.1 882.3 1708.3 884.5 1709.4 886.8 1710.6 889.0 1711.8 891.2 1713.0 893.4 1714.1 895.6 1715.3 897.8 1716.5 900.1 1717.7 902.3 1718.8 904.5 1720.0 906.7 1721.2 908.9 1722.4 911.1 1723.5 913.4 1724.7 915.6 1725.9 917.8 1727.1 920.0 1728.3 922.2 1729.4 924.4 1730.6 926.6 1731.8 928.9 1733.0 931.1 1734.1 933.3 1735.3 935.5 1736.5 937.7 1737.7 939.9 1738.9 942.1 1740.0 944.4 1741.2 946.6 1742.4 948.8 1743.6 951.0 1744.8 953.2 1745.9 955.4 1747.1 957.6 1748.3 959.8 1749.5 962.0 1750.7 964.2 1751.9 966.4 1753.1 968.6 1754.3 970.8 1755.4 973.1 1756.6 975.3 1757.8 977.5 1759.0 979.7 1760.2 981.9 1761.4 984.1 1762.6 986.3 1763.8 988.5 1765.0 990.7 1766.2 992.9 1767.4 995.1 1768.6 997.2 1769.8 999.4 1771.0 1001.6 1772.2 1003.8 1773.4 1006.0 1774.6 1008.2 1775.9 1010.4 1777.1 1012.6 1778.3 1014.8 1779.5 1017.0 1780.7 1019.2 1781.9 1021.3 1783.2 1023.5 1784.4 1025.7 1785.6 1027.9 1786.8 1030.1 1788.1 1032.2 1789.3 1034.4 1790.5 1036.6 1791.8 1038.8 1793.0 1040.9 1794.2 1043.1 1795.5 1045.3 1796.7 1047.5 1797.9 1049.6 1799.2 1051.8 1800.4 1054.0 1801.7 1056.1 1802.9 1058.3 1804.2 1060.5 1805.4 1062.6 1806.7 1064.8 1808.0 1066.9 1809.2 1069.1 1810.5 1071.2 1811.7 1073.4 1813.0 1075.5 1814.3 1077.7 1815.6 1079.8 1816.8 1082.0 1818.1 1084.1 1819.4 1086.3 1820.7 1088.4 1822.0 1090.6 1823.2 1092.7 1824.5 1094.8 1825.8 1097.0 1827.1 1099.1 1828.4 1101.2 1829.7 1103.4 1831.0 1105.5 1832.3 1107.6 1833.6 1109.7 1835.0 1111.9 1836.3 1114.0 1837.6 1116.1 1838.9 1118.2 1840.2 1120.3 1841.6 1122.4 1842.9 1124.6 1844.2 1126.7 1845.6 1128.8 1846.9 1130.9 1848.2 1133.0 1849.6 1135.1 1850.9 1137.2 1852.3 1139.3 1853.7 1141.4 1855.0 1143.5 1856.4 1145.5 1857.7 1147.6 1859.1 1149.7 1860.5 1151.8 1861.9 1153.9 1863.2 1156.0 1864.6 1158.0 1866.0 1160.1 1867.4 1162.2 1868.8 1164.3 1870.2 1166.3 1871.6 1168.4 1873.0 1170.4 1874.4 1172.5 1875.8 1174.6 1877.2 1176.6 1878.6 1178.7 1880.1 1180.7 1881.5 1182.8 1882.9 1184.8 1884.4 1186.9 1885.8 1188.9 1887.2 1190.9 1888.7 1193.0 1890.1 1195.0 1891.6 1197.0 1893.0 1199.1 1894.5 1201.1 1896.0 1203.1 1897.4 1205.1 1898.9 1207.1 1900.4 1209.2 1901.9 1211.2 1903.4 1213.2 1904.9 1215.2 1906.4 1217.2 1907.9 1219.2 1909.4 1221.2 1910.9 1223.2 1912.4 1225.2 1913.9 1227.1 1915.4 1229.1 1917.0 1231.1 1918.5 1233.1 1920.0 1235.1 1921.6 1237.0 1923.1 1239.0 1924.7 1241.0 1926.2 1242.9 1927.8 1244.9 1929.4 1246.9 1930.9 1248.8 1932.5 1250.8 1934.1 1252.7 1935.7 1254.7 1937.3 1256.6 1938.9 1258.5 1940.5 1260.5 1942.1 1262.4 1943.7 1264.3 1945.3 1266.3 1946.9 1268.2 1948.5 1270.1 1950.2 1272.0 1951.8 1273.9 1953.4 1275.8 1955.1 1277.7 1956.7 1279.6 1958.4 1281.5 1960.0 1283.4 1961.7 1285.3 1963.4 1287.2 1965.0 1289.0 1966.7 1290.9 1968.4 1292.8 1970.1 1294.6 1971.8 1296.5 1973.5 1298.3 1975.2 1300.2 1976.9 1302.0 1978.6 1303.9 1980.4 1305.7 1982.1 1307.5 1983.8 1309.4 1985.5 1311.2 1987.3 1313.0 1989.0 1314.8 1990.8 1316.6 1992.6 1318.4 1994.3 1320.2 1996.1 1322.0 1997.9 1323.7 1999.6 1325.5 2001.4 1327.3 2003.2 1329.0 2005.0 1330.8 2006.8 1332.5 2008.6 1334.3 2010.4 1336.0 2012.2 1337.8 2014.1 1339.5 2015.9 1341.2 2017.7 1342.9 2019.6 1344.6 2021.4 1346.3 2023.3 1348.0 2025.1 1349.7 2027.0 1351.4 2028.9 1353.0 2030.7 1354.7 2032.6 1356.4 2034.5 1358.0 2036.4 1359.7 2038.3 1361.3 2040.2 1362.9 2042.1 1364.5 2044.0 1366.2 2045.9 1367.8 2047.8 1369.4 2049.8 1371.0 2051.7 1372.5 2053.6 1374.1 2055.6 1375.7 2057.5 1377.2 2059.5 1378.8 2061.5 1380.3 2063.4 1381.9 2065.4 1383.4 2067.4 1384.9 2069.4 1386.4 2071.4 1388.0 2073.4 1389.4 2075.4 1390.9 2077.4 1392.4 2079.4 1393.9 2081.4 1395.4 2083.4 1396.8 2085.5 1398.2 2087.5 1399.7 2089.6 1401.1 2091.6 1402.5 2093.7 1403.9 2095.7 1405.3 2097.8 1406.7 2099.9 1408.1 2102.0 1409.5 2104.1 1410.9 2106.1 1412.2 2108.2 1413.6 2110.4 1414.9 2112.5 1416.2 2114.6 1417.5 2116.7 1418.8 2118.8 1420.1 2121.0 1421.4 2123.1 1422.7 2125.3 1424.0 2127.4 1425.2 2129.6 1426.5 2131.7 1427.7 2133.9 1428.9 2136.1 1430.2 2138.3 1431.4 2140.5 1432.6 2142.7 1433.7 2144.9 1434.9 2147.1 1436.1 2149.3 1437.2 2151.5 1438.4 2153.8 1439.5 2156.0 1440.6 2158.2 1441.7 2160.5 1442.8 2162.7 1443.9 2165.0 1445.0 2167.3 1446.1 2169.5 1447.1 2171.8 1448.2 2174.1 1449.2 2176.4 1450.2 2178.7 1451.2 2181.0 1452.2 2183.3 1453.2 2185.6 1454.2 2187.9 1455.2 2190.2 1456.2 2192.6 1457.1 2194.9 1458.1 2197.2 1459.0 2199.6 1459.9 2201.9 1460.8 2204.3 1461.7 2206.6 1462.6 2209.0 1463.5 2211.3 1464.4 2213.7 1465.3 2216.1 1466.1 2218.4 1467.0 2220.8 1467.8 2223.2 1468.7 2225.6 1469.5 2228.0 1470.3 2230.3 1471.1 2232.7 1471.9 2235.1 1472.7 2237.5 1473.5 2239.9 1474.3 2242.3 1475.0 2244.7 1475.8 2247.1 1476.5 2249.6 1477.3 2252.0 1478.0 2254.4 1478.7 2256.8 1479.4 2259.2 1480.1 2261.6 1480.8 2264.1 1481.5 2266.5 1482.2 2268.9 1482.9 2271.3 1483.6 2273.8 1484.2 2276.2 1484.9 2278.6 1485.5 2281.1 1486.2 2283.5 1486.8 2285.9 1487.4 2288.4 1488.1 2290.8 1488.7 2293.2 1489.3 2295.7 1489.9 2298.1 1490.5 2300.6 1491.0 2303.0 1491.6 2305.4 1492.2 2307.9 1492.8 2310.3 1493.3 2312.7 1493.9 2315.2 1494.4 2317.6 1495.0 2320.1 1495.5 2322.5 1496.0 2324.9 1496.5 2327.4 1497.1 2329.8 1497.6 2332.2 1498.1 2334.7 1498.6 2337.1 1499.1 2339.5 1499.6 2342.0 1500.0 2344.4 1500.5 2346.8 1501.0 2349.2 1501.5 2351.7 1501.9 2354.1 1502.4 2356.5 1502.8 2358.9 1503.3 2361.3 1503.7 2363.7 1504.2"/>
<path stroke="#ff8000" stroke-dasharray="16.5 14.5 2.5 17.5 2.5 16.5" stroke-linecap="round" d="M345.0 1546.0L345.4 1544.0 345.7 1541.9 346.0 1539.9 346.4 1537.8 346.7 1535.7 347.1 1533.6 347.4 1531.5 347.7 1529.4 348.1 1527.4 348.4 1525.4 348.8 1523.5 349.2 1521.6 349.6 1519.8 350.0 1518.0 350.6 1515.8 351.1 1513.7 351.7 1511.7 352.3 1509.8 353.0 1507.9 353.6 1506.0 354.3 1504.1 355.0 1502.0 355.7 1500.1 356.4 1498.1 357.2 1496.2 358.0 1494.2 358.8 1492.2 359.6 1490.1 360.4 1488.1 361.2 1485.9 362.0 1483.7 362.7 1481.5 363.3 1479.7 363.8 1477.8 364.4 1475.8 364.9 1473.8 365.4 1471.8 365.9 1469.8 366.5 1467.7 367.0 1465.6 367.5 1463.5 367.9 1461.4 368.4 1459.3 368.9 1457.2 369.4 1455.1 369.8 1453.0 370.3 1451.0 370.7 1449.0 371.2 1447.0 371.6 1445.0 372.0 1443.0 372.4 1441.0 372.8 1439.0 373.2 1437.0 373.6 1435.0 374.0 1433.0 374.3 1431.0 374.7 1429.0 375.1 1427.0 375.5 1425.0 375.9 1423.0 376.3 1421.0 376.7 1419.0 377.1 1417.0 377.5 1414.9 377.9 1412.9 378.3 1410.8 378.7 1408.8 379.1 1406.8 379.5 1404.7 379.9 1402.7 380.3 1400.7 380.7 1398.7 381.1 1396.7 381.5 1394.8 382.0 1392.9 382.4 1391.0 382.9 1388.8 383.5 1386.7 384.0 1384.6 384.6 1382.5 385.1 1380.5 385.7 1378.5 386.2 1376.5 386.8 1374.4 387.3 1372.3 387.9 1370.2 388.4 1368.0 388.8 1366.1 389.2 1364.2 389.7 1362.2 390.1 1360.2 390.5 1358.2 390.9 1356.1 391.3 1354.0 391.6 1352.0 392.0 1349.9 392.4 1347.8 392.8 1345.8 393.2 1343.8 393.7 1341.8 394.1 1339.9 394.5 1338.0 395.0 1335.8 395.5 1333.6 396.1 1331.4 396.6 1329.2 397.1 1327.0 397.6 1324.9 398.2 1322.8 398.7 1320.8 399.3 1318.8 399.9 1316.9 400.5 1315.0 401.2 1313.0 402.0 1311.1 402.9 1309.2 403.7 1307.4 404.6 1305.7 405.3 1303.9 406.0 1302.0 406.6 1300.0 407.0 1298.2 407.3 1296.4 407.6 1294.6 407.8 1292.7 407.9 1290.9 408.0 1288.9 408.1 1286.9 408.2 1284.7 408.4 1282.4 408.5 1280.0 408.6 1278.5 408.7 1276.9 408.8 1275.2 408.9 1273.5 408.9 1271.7 409.0 1269.9 409.1 1268.0 409.2 1266.1 409.3 1264.1 409.3 1262.1 409.4 1260.1 409.5 1258.1 409.5 1256.0 409.6 1253.9 409.7 1251.7 409.7 1249.6 409.8 1247.4 409.8 1245.3 409.9 1243.1 410.0 1240.9 410.0 1238.8 410.1 1236.6 410.2 1234.5 410.2 1232.3 410.3 1230.2 410.4 1228.1 410.4 1226.0 410.5 1224.0 410.6 1222.0 410.6 1220.0 410.7 1217.9 410.8 1215.8 410.8 1213.8 410.9 1211.7 410.9 1209.6 411.0 1207.5 411.0 1205.4 411.1 1203.3 411.2 1201.2 411.2 1199.1 411.3 1197.0 411.3 1194.9 411.4 1192.8 411.4 1190.7 411.5 1188.7 411.6 1186.6 411.6 1184.6 411.7 1182.5 411.8 1180.5 411.8 1178.5 411.9 1176.5 412.0 1174.5 412.1 1172.6 412.2 1170.6 412.3 1168.7 412.4 1166.9 412.5 1165.0 412.6 1162.8 412.8 1160.5 412.9 1158.2 413.0 1155.9 413.1 1153.5 413.2 1151.2 413.3 1148.9 413.5 1146.6 413.6 1144.3 413.7 1142.1 413.9 1139.9 414.1 1137.8 414.2 1135.8 414.4 1133.9 414.6 1132.1 414.9 1130.4 415.1 1128.8 415.4 1127.4 415.7 1126.1 416.0 1125.0 417.5 1121.5 419.0 1120.0 419.5 1120.5 420.0 1121.8 420.5 1123.6 420.9 1126.0 421.3 1128.6 421.6 1131.5 422.0 1134.4 422.2 1135.7 422.3 1137.0 422.4 1138.4 422.6 1139.9 422.7 1141.5 422.8 1143.1 422.9 1144.8 423.1 1146.6 423.2 1148.5 423.3 1150.4 423.4 1152.3 423.5 1154.3 423.6 1156.4 423.7 1158.4 423.8 1160.6 423.9 1162.7 423.9 1164.9 424.0 1167.2 424.1 1169.4 424.2 1171.7 424.3 1173.9 424.4 1176.2 424.4 1178.5 424.5 1180.8 424.6 1183.1 424.7 1185.4 424.8 1187.7 424.9 1190.0 424.9 1192.3 425.0 1194.5 425.1 1196.7 425.2 1198.9 425.3 1201.1 425.4 1203.2 425.5 1205.3 425.6 1207.4 425.7 1209.4 425.8 1211.3 425.9 1213.2 426.0 1215.0 426.1 1217.3 426.3 1219.6 426.4 1222.0 426.5 1224.3 426.7 1226.7 426.8 1229.1 426.9 1231.5 427.0 1233.8 427.2 1236.2 427.3 1238.5 427.4 1240.8 427.5 1243.1 427.7 1245.4 427.8 1247.6 427.9 1249.7 428.1 1251.8 428.2 1253.9 428.4 1255.8 428.6 1257.8 428.7 1259.6 428.9 1261.3 429.1 1263.0 429.3 1264.5 429.5 1266.0 429.8 1267.3 430.0 1268.5 430.7 1271.6 431.5 1274.3 432.3 1276.3 433.0 1277.0 433.5 1276.5 434.1 1275.3 434.6 1273.4 435.1 1270.9 435.5 1268.2 436.0 1265.2 436.1 1264.2 436.3 1263.1 436.4 1262.0 436.5 1260.8 436.7 1259.5 436.8 1258.1 436.9 1256.7 437.0 1255.3 437.1 1253.7 437.3 1252.2 437.4 1250.5 437.5 1248.8 437.6 1247.1 437.7 1245.3 437.8 1243.5 437.9 1241.6 437.9 1239.7 438.0 1237.7 438.1 1235.7 438.2 1233.7 438.3 1231.6 438.4 1229.5 438.5 1227.4 438.5 1225.2 438.6 1223.0 438.7 1220.8 438.8 1218.6 438.8 1216.3 438.9 1214.0 439.0 1211.7 439.1 1209.4 439.1 1207.0 439.2 1204.7 439.3 1202.3 439.3 1200.0 439.4 1197.6 439.5 1195.2 439.5 1192.8 439.6 1190.4 439.7 1188.1 439.7 1185.7 439.8 1183.3 439.9 1180.9 439.9 1178.6 440.0 1176.2 440.1 1173.9 440.1 1171.6 440.2 1169.3 440.3 1167.0 440.4 1164.7 440.4 1162.4 440.5 1160.2 440.6 1158.0 440.7 1155.8 440.7 1153.7 440.8 1151.6 440.9 1149.5 441.0 1147.4 441.1 1145.4 441.2 1143.3 441.3 1141.3 441.3 1139.2 441.4 1137.1 441.5 1135.0 441.6 1132.9 441.7 1130.8 441.8 1128.7 441.8 1126.5 441.9 1124.4 442.0 1122.2 442.1 1120.1 442.2 1117.9 442.3 1115.8 442.3 1113.6 442.4 1111.5 442.5 1109.3 442.6 1107.1 442.7 1104.9 442.8 1102.8 442.8 1100.6 442.9 1098.4 443.0 1096.3 443.1 1094.1 443.2 1092.0 443.3 1089.8 443.3 1087.7 443.4 1085.5 443.5 1083.4 443.6 1081.3 443.7 1079.2 443.8 1077.1 443.8 1075.0 443.9 1072.9 444.0 1070.8 444.1 1068.8 444.2 1066.7 444.3 1064.7 444.4 1062.7 444.4 1060.7 444.5 1058.7 444.6 1056.7 444.7 1054.7 444.8 1052.8 444.9 1050.9 445.0 1049.0 445.1 1047.1 445.2 1045.3 445.2 1043.4 445.3 1041.6 445.4 1039.8 445.5 1038.1 445.6 1036.3 445.7 1034.6 445.8 1032.9 445.9 1031.3 446.0 1029.6 446.1 1027.1 446.3 1024.5 446.4 1021.8 446.6 1019.1 446.7 1016.3 446.8 1013.6 447.0 1010.8 447.1 1008.0 447.2 1005.3 447.4 1002.6 447.5 999.9 447.7 997.4 447.8 994.9 447.9 992.5 448.1 990.3 448.3 988.2 448.4 986.2 448.6 984.4 448.8 982.8 448.9 981.4 449.1 980.3 449.3 979.3 449.5 978.6 449.8 978.2 450.0 978.0 450.4 978.4 450.9 979.4 451.5 981.1 452.0 983.3 452.5 985.8 453.0 988.6 453.5 991.4 454.0 994.3 454.2 995.6 454.4 997.0 454.5 998.5 454.7 1000.0 454.8 1001.7 455.0 1003.4 455.1 1005.2 455.3 1007.1 455.4 1009.0 455.5 1011.0 455.7 1013.1 455.8 1015.2 455.9 1017.3 456.0 1019.5 456.1 1021.7 456.2 1024.0 456.3 1026.3 456.4 1028.6 456.5 1030.9 456.6 1033.3 456.7 1035.6 456.8 1038.0 456.9 1040.4 457.0 1042.8 457.1 1045.1 457.2 1047.5 457.3 1049.8 457.4 1052.1 457.5 1054.4 457.6 1056.7 457.7 1058.9 457.8 1061.1 457.9 1063.2 458.0 1065.3 458.1 1067.4 458.2 1069.3 458.3 1071.3 458.5 1073.1 458.6 1074.9 458.7 1076.6 458.9 1078.3 459.0 1079.8 459.3 1082.5 459.5 1085.1 459.7 1087.7 460.0 1090.2 460.2 1092.7 460.4 1095.1 460.7 1097.3 460.9 1099.5 461.2 1101.6 461.5 1103.5 461.8 1105.2 462.2 1106.8 462.6 1108.3 463.0 1109.5 464.5 1112.7 466.0 1114.0 466.4 1113.7 466.8 1112.9 467.1 1111.7 467.4 1110.1 467.6 1108.3 467.8 1106.1 468.0 1103.8 468.2 1101.2 468.4 1098.5 468.6 1095.7 468.8 1092.8 469.0 1089.9 469.1 1088.7 469.2 1087.5 469.3 1086.3 469.4 1085.0 469.5 1083.6 469.5 1082.3 469.6 1080.8 469.7 1079.4 469.8 1077.9 469.9 1076.3 470.0 1074.8 470.1 1073.2 470.1 1071.5 470.2 1069.8 470.3 1068.1 470.4 1066.3 470.5 1064.6 470.6 1062.7 470.6 1060.9 470.7 1059.0 470.8 1057.1 470.9 1055.2 471.0 1053.2 471.0 1051.3 471.1 1049.2 471.2 1047.2 471.3 1045.2 471.4 1043.1 471.4 1041.0 471.5 1038.9 471.6 1036.7 471.7 1034.6 471.7 1032.4 471.8 1030.2 471.9 1028.0 472.0 1025.8 472.0 1023.6 472.1 1021.4 472.2 1019.1 472.3 1016.8 472.3 1014.6 472.4 1012.3 472.5 1010.0 472.6 1007.7 472.6 1005.4 472.7 1003.1 472.8 1000.8 472.9 998.5 472.9 996.1 473.0 993.8 473.1 991.5 473.1 989.2 473.2 986.9 473.3 984.6 473.4 982.3 473.4 980.0 473.5 977.7 473.6 975.4 473.6 973.1 473.7 970.8 473.8 968.5 473.9 966.3 473.9 964.0 474.0 961.8 474.1 959.6 474.1 957.4 474.2 955.2 474.3 953.0 474.4 950.8 474.4 948.7 474.5 946.6 474.6 944.4 474.6 942.4 474.7 940.3 474.8 938.2 474.9 936.2 474.9 934.2 475.0 932.3 475.1 930.2 475.2 928.1 475.2 925.9 475.3 923.8 475.4 921.6 475.4 919.5 475.5 917.3 475.6 915.0 475.7 912.8 475.7 910.6 475.8 908.4 475.9 906.1 475.9 903.8 476.0 901.6 476.1 899.3 476.1 897.0 476.2 894.7 476.3 892.4 476.3 890.1 476.4 887.8 476.5 885.5 476.5 883.2 476.6 880.9 476.7 878.6 476.7 876.3 476.8 874.0 476.8 871.8 476.9 869.5 477.0 867.2 477.0 864.9 477.1 862.7 477.2 860.4 477.2 858.2 477.3 856.0 477.4 853.8 477.4 851.6 477.5 849.4 477.6 847.2 477.6 845.1 477.7 842.9 477.8 840.8 477.8 838.7 477.9 836.6 478.0 834.6 478.0 832.6 478.1 830.5 478.2 828.6 478.3 826.6 478.3 824.7 478.4 822.8 478.5 820.9 478.6 819.1 478.6 817.2 478.7 815.5 478.8 813.7 478.9 812.0 478.9 810.3 479.0 808.7 479.1 807.1 479.2 805.5 479.3 804.0 479.4 802.5 479.4 801.0 479.5 799.6 479.6 798.2 479.7 796.9 479.8 795.6 479.9 794.4 480.0 793.2 480.2 790.2 480.5 787.1 480.7 784.2 481.0 781.4 481.2 778.7 481.5 776.3 481.7 774.2 482.0 772.5 482.3 771.2 482.6 770.3 483.0 770.0 483.5 770.4 484.1 771.7 484.7 773.6 485.3 776.0 485.9 778.9 486.5 782.1 487.0 785.4 487.1 786.4 487.3 787.5 487.4 788.7 487.6 789.9 487.7 791.2 487.8 792.6 487.9 794.0 488.1 795.5 488.2 797.0 488.3 798.6 488.4 800.2 488.5 801.8 488.6 803.5 488.7 805.3 488.8 807.1 488.9 808.9 489.0 810.8 489.0 812.7 489.1 814.7 489.2 816.7 489.3 818.7 489.4 820.8 489.4 822.8 489.5 825.0 489.6 827.1 489.6 829.3 489.7 831.5 489.8 833.7 489.8 835.9 489.9 838.2 489.9 840.4 490.0 842.7 490.1 845.0 490.1 847.3 490.2 849.6 490.2 852.0 490.3 854.3 490.3 856.7 490.4 859.0 490.4 861.4 490.5 863.7 490.5 866.1 490.6 868.4 490.6 870.8 490.7 873.1 490.7 875.5 490.8 877.8 490.8 880.1 490.9 882.5 490.9 884.8 491.0 887.0 491.1 889.3 491.1 891.6 491.2 893.8 491.2 896.0 491.3 898.2 491.4 900.4 491.4 902.5 491.5 904.6 491.5 906.7 491.6 908.8 491.7 910.8 491.8 912.8 491.8 914.7 491.9 916.6 492.0 918.5 492.1 920.7 492.2 923.0 492.3 925.2 492.4 927.5 492.5 929.8 492.5 932.2 492.6 934.5 492.7 936.9 492.8 939.3 492.8 941.7 492.9 944.1 493.0 946.6 493.1 949.0 493.1 951.4 493.2 953.8 493.3 956.2 493.4 958.7 493.4 961.1 493.5 963.5 493.6 965.8 493.7 968.2 493.7 970.5 493.8 972.8 493.9 975.1 494.0 977.4 494.1 979.6 494.2 981.8 494.3 984.0 494.4 986.1 494.5 988.2 494.6 990.3 494.7 992.3 494.8 994.2 494.9 996.1 495.0 998.0 495.1 999.7 495.2 1001.5 495.4 1003.1 495.5 1004.7 495.7 1006.3 495.8 1007.7 496.0 1009.1 496.1 1010.5 496.3 1011.7 496.4 1012.9 496.6 1013.9 496.8 1014.9 497.0 1015.8 498.0 1019.4 499.0 1022.1 500.0 1023.0 500.4 1022.7 500.7 1021.9 501.0 1020.6 501.3 1019.0 501.6 1017.0 501.8 1014.7 502.1 1012.2 502.3 1009.5 502.5 1006.6 502.8 1003.6 503.0 1000.6 503.1 999.5 503.2 998.4 503.2 997.3 503.3 996.1 503.4 994.8 503.5 993.5 503.6 992.2 503.6 990.9 503.7 989.5 503.8 988.0 503.8 986.6 503.9 985.0 504.0 983.5 504.1 981.9 504.1 980.3 504.2 978.6 504.2 976.9 504.3 975.2 504.4 973.5 504.4 971.7 504.5 969.9 504.6 968.1 504.6 966.2 504.7 964.3 504.7 962.4 504.8 960.4 504.8 958.5 504.9 956.5 505.0 954.5 505.0 952.4 505.1 950.4 505.1 948.3 505.2 946.2 505.2 944.1 505.3 941.9 505.3 939.8 505.4 937.6 505.4 935.4 505.5 933.2 505.5 931.0 505.6 928.7 505.6 926.5 505.7 924.2 505.7 922.0 505.8 919.7 505.8 917.4 505.9 915.1 505.9 912.8 505.9 910.5 506.0 908.2 506.0 905.8 506.1 903.5 506.1 901.2 506.2 898.8 506.2 896.5 506.3 894.2 506.3 891.8 506.4 889.5 506.4 887.1 506.4 884.8 506.5 882.5 506.5 880.1 506.6 877.8 506.6 875.5 506.7 873.1 506.7 870.8 506.8 868.5 506.8 866.2 506.9 863.9 506.9 861.6 507.0 859.4 507.0 857.1 507.0 854.8 507.1 852.6 507.1 850.4 507.2 848.2 507.2 846.0 507.3 843.8 507.3 841.6 507.4 839.5 507.4 837.4 507.5 835.3 507.6 833.2 507.6 831.1 507.7 829.1 507.7 827.0 507.8 825.0 507.8 823.1 507.9 821.1 507.9 819.2 508.0 817.3 508.1 815.1 508.1 813.0 508.2 810.8 508.3 808.7 508.3 806.5 508.4 804.3 508.5 802.1 508.5 799.9 508.6 797.7 508.7 795.5 508.7 793.3 508.8 791.1 508.9 788.8 508.9 786.6 509.0 784.4 509.1 782.2 509.1 779.9 509.2 777.7 509.3 775.5 509.3 773.3 509.4 771.0 509.5 768.8 509.5 766.6 509.6 764.4 509.7 762.1 509.7 759.9 509.8 757.7 509.9 755.5 510.0 753.3 510.0 751.1 510.1 749.0 510.2 746.8 510.2 744.6 510.3 742.5 510.4 740.3 510.4 738.2 510.5 736.1 510.6 733.9 510.6 731.8 510.7 729.8 510.8 727.7 510.9 725.6 510.9 723.6 511.0 721.6 511.1 719.5 511.1 717.5 511.2 715.6 511.3 713.6 511.4 711.7 511.4 709.7 511.5 707.8 511.6 705.9 511.6 704.1 511.7 702.2 511.8 700.4 511.9 698.6 511.9 696.8 512.0 695.1 512.1 693.3 512.2 691.6 512.2 690.0 512.3 688.3 512.4 686.7 512.5 685.1 512.5 683.5 512.6 682.0 512.7 680.5 512.8 679.0 512.8 677.5 512.9 676.1 513.0 674.7 513.1 672.0 513.3 669.2 513.4 666.4 513.6 663.6 513.7 660.8 513.8 658.1 513.9 655.4 514.1 652.7 514.2 650.2 514.4 647.9 514.5 645.6 514.6 643.6 514.8 641.7 515.0 640.1 515.2 638.7 515.3 637.6 515.5 636.7 515.8 636.2 516.0 636.0 516.4 636.3 516.8 637.2 517.3 638.7 517.7 640.6 518.2 642.9 518.7 645.5 519.1 648.3 519.6 651.3 520.0 654.4 520.1 655.5 520.2 656.6 520.4 657.7 520.5 658.9 520.6 660.2 520.7 661.5 520.8 662.9 520.9 664.3 521.0 665.8 521.1 667.3 521.2 668.9 521.3 670.5 521.4 672.1 521.5 673.8 521.6 675.5 521.7 677.3 521.8 679.1 521.9 681.0 522.0 682.9 522.1 684.8 522.1 686.8 522.2 688.8 522.3 690.8 522.4 692.8 522.4 694.9 522.5 697.0 522.6 699.2 522.7 701.3 522.7 703.5 522.8 705.7 522.9 707.9 522.9 710.2 523.0 712.4 523.1 714.7 523.1 717.0 523.2 719.3 523.2 721.7 523.3 724.0 523.4 726.4 523.4 728.7 523.5 731.1 523.5 733.5 523.6 735.8 523.6 738.2 523.7 740.6 523.8 743.0 523.8 745.4 523.9 747.8 523.9 750.2 524.0 752.6 524.0 755.0 524.1 757.3 524.2 759.7 524.2 762.1 524.3 764.4 524.3 766.8 524.4 769.1 524.4 771.4 524.5 773.7 524.6 776.0 524.6 778.3 524.7 780.5 524.7 782.7 524.8 785.0 524.9 787.1 524.9 789.3 525.0 791.5 525.0 793.6 525.1 795.7 525.2 797.7 525.2 799.7 525.3 801.7 525.4 803.7 525.5 805.6 525.5 807.5 525.6 809.4 525.7 811.2 525.8 813.0 525.8 814.8 525.9 816.5 526.0 818.1 526.1 820.5 526.2 823.0 526.3 825.4 526.5 827.9 526.6 830.4 526.7 832.8 526.8 835.3 526.8 837.8 526.9 840.3 527.0 842.7 527.1 845.2 527.2 847.6 527.3 850.0 527.4 852.4 527.5 854.8 527.6 857.2 527.7 859.5 527.8 861.8 527.9 864.0 528.0 866.2 528.1 868.4 528.2 870.5 528.3 872.5 528.5 874.6 528.6 876.5 528.7 878.4 528.9 880.2 529.0 881.9 529.2 883.6 529.3 885.2 529.5 886.7 529.7 888.2 529.9 889.5 530.1 890.8 530.3 892.0 530.5 893.0 530.8 894.0 531.0 894.9 532.5 898.6 534.0 900.0 534.4 899.7 534.7 899.1 535.1 898.1 535.4 896.8 535.7 895.2 535.9 893.3 536.2 891.3 536.4 889.0 536.7 886.5 536.9 883.9 537.1 881.2 537.3 878.4 537.6 875.6 537.8 872.7 538.0 869.8 538.1 868.6 538.2 867.4 538.3 866.1 538.3 864.8 538.4 863.5 538.5 862.2 538.6 860.8 538.7 859.3 538.8 857.9 538.8 856.3 538.9 854.8 539.0 853.2 539.1 851.6 539.1 850.0 539.2 848.3 539.3 846.6 539.3 844.9 539.4 843.1 539.5 841.3 539.5 839.5 539.6 837.7 539.6 835.8 539.7 833.9 539.8 832.0 539.8 830.1 539.9 828.1 539.9 826.1 540.0 824.1 540.1 822.1 540.1 820.0 540.2 817.9 540.2 815.8 540.3 813.7 540.3 811.6 540.4 809.5 540.4 807.3 540.5 805.1 540.5 802.9 540.6 800.7 540.6 798.5 540.7 796.3 540.7 794.1 540.7 791.8 540.8 789.6 540.8 787.3 540.9 785.0 540.9 782.7 541.0 780.4 541.0 778.1 541.1 775.8 541.1 773.5 541.1 771.2 541.2 768.9 541.2 766.6 541.3 764.3 541.3 761.9 541.3 759.6 541.4 757.3 541.4 755.0 541.5 752.6 541.5 750.3 541.5 748.0 541.6 745.7 541.6 743.4 541.7 741.1 541.7 738.8 541.7 736.5 541.8 734.2 541.8 732.0 541.9 729.7 541.9 727.5 541.9 725.2 542.0 723.0 542.0 720.8 542.1 718.6 542.1 716.4 542.2 714.2 542.2 712.0 542.2 709.9 542.3 707.7 542.3 705.6 542.4 703.5 542.4 701.4 542.5 699.4 542.5 697.3 542.6 695.3 542.6 693.3 542.6 691.4 542.7 689.4 542.7 687.5 542.8 685.6 542.8 683.7 542.9 681.8 542.9 680.0 543.0 678.2 543.1 676.0 543.1 673.7 543.2 671.4 543.3 669.2 543.3 666.9 543.4 664.6 543.4 662.3 543.5 660.0 543.6 657.8 543.6 655.5 543.7 653.2 543.8 650.9 543.8 648.6 543.9 646.3 543.9 644.0 544.0 641.8 544.0 639.5 544.1 637.2 544.2 635.0 544.2 632.7 544.3 630.5 544.3 628.2 544.4 626.0 544.5 623.8 544.5 621.6 544.6 619.4 544.6 617.2 544.7 615.0 544.8 612.8 544.8 610.7 544.9 608.6 544.9 606.5 545.0 604.4 545.1 602.3 545.1 600.2 545.2 598.2 545.3 596.2 545.3 594.2 545.4 592.2 545.4 590.3 545.5 588.3 545.6 586.4 545.7 584.6 545.7 582.7 545.8 580.9 545.9 579.1 545.9 577.3 546.0 575.6 546.1 573.9 546.2 572.2 546.2 570.5 546.3 568.9 546.4 567.3 546.5 565.8 546.6 564.3 546.6 562.8 546.7 561.3 546.8 559.9 546.9 558.6 547.0 557.2 547.2 554.5 547.4 551.7 547.6 548.9 547.8 546.1 547.9 543.4 548.1 540.8 548.3 538.4 548.6 536.1 548.8 534.1 549.0 532.4 549.2 531.0 549.5 529.9 549.7 529.2 550.0 529.0 550.4 529.3 550.7 530.2 551.1 531.5 551.6 533.3 552.0 535.5 552.4 537.9 552.8 540.6 553.2 543.5 553.6 546.4 554.0 549.4 554.1 550.5 554.3 551.7 554.4 553.0 554.5 554.3 554.6 555.7 554.7 557.1 554.9 558.6 555.0 560.1 555.1 561.6 555.2 563.2 555.3 564.9 555.4 566.6 555.5 568.4 555.6 570.1 555.7 572.0 555.8 573.8 555.9 575.7 556.0 577.7 556.1 579.6 556.2 581.6 556.3 583.7 556.4 585.7 556.5 587.8 556.6 590.0 556.6 592.1 556.7 594.3 556.8 596.5 556.9 598.7 557.0 600.9 557.1 603.1 557.1 605.4 557.2 607.7 557.3 610.0 557.4 612.3 557.4 614.6 557.5 616.9 557.6 619.2 557.7 621.5 557.7 623.9 557.8 626.2 557.9 628.5 558.0 630.9 558.0 633.2 558.1 635.6 558.2 637.9 558.2 640.2 558.3 642.5 558.4 644.8 558.4 647.1 558.5 649.4 558.6 651.7 558.7 653.9 558.7 656.2 558.8 658.4 558.9 660.6 558.9 662.8 559.0 664.9 559.1 667.1 559.2 669.2 559.2 671.2 559.3 673.3 559.4 675.3 559.5 677.3 559.5 679.3 559.6 681.2 559.7 683.1 559.8 684.9 559.8 686.7 559.9 688.5 560.0 690.2 560.1 692.5 560.2 694.9 560.3 697.2 560.4 699.6 560.5 701.9 560.6 704.3 560.7 706.7 560.8 709.0 560.9 711.4 561.0 713.7 561.1 716.0 561.2 718.3 561.3 720.7 561.4 722.9 561.5 725.2 561.6 727.5 561.7 729.7 561.8 731.9 561.9 734.0 562.0 736.2 562.1 738.3 562.2 740.4 562.3 742.4 562.4 744.4 562.5 746.3 562.6 748.2 562.8 750.1 562.9 751.9 563.0 753.7 563.1 755.4 563.2 757.0 563.3 758.6 563.4 760.1 563.5 761.6 563.6 763.0 563.8 764.3 563.9 765.6 564.0 766.8 564.3 769.7 564.7 772.5 565.0 775.1 565.3 777.1 565.7 778.5 566.0 779.0 566.1 778.9 566.2 778.6 566.3 778.2 566.4 777.6 566.5 776.8 566.6 775.9 566.7 774.8 566.8 773.6 566.9 772.3 567.0 770.8 567.1 769.2 567.2 767.5 567.3 765.7 567.4 763.8 567.5 761.8 567.6 759.7 567.7 757.5 567.8 755.3 567.9 753.0 568.0 750.6 568.0 748.1 568.1 745.6 568.2 743.1 568.3 740.5 568.4 737.9 568.5 735.2 568.5 732.5 568.6 729.9 568.7 727.2 568.8 724.5 568.9 721.8 569.0 719.1 569.0 716.4 569.1 713.8 569.2 711.2 569.3 708.6 569.4 706.1 569.5 703.6 569.6 701.2 569.6 698.8 569.7 696.5 569.8 694.2 569.9 692.1 570.0 690.0 570.1 688.0 570.2 686.0 570.3 683.9 570.3 681.9 570.4 679.8 570.5 677.7 570.6 675.7 570.7 673.6 570.8 671.5 570.8 669.3 570.9 667.2 571.0 665.1 571.1 663.0 571.2 660.8 571.2 658.7 571.3 656.6 571.4 654.4 571.5 652.3 571.6 650.2 571.6 648.1 571.7 645.9 571.8 643.8 571.9 641.7 572.0 639.6 572.1 637.6 572.1 635.5 572.2 633.4 572.3 631.4 572.4 629.4 572.5 627.3 572.6 625.4 572.7 623.4 572.8 621.4 572.9 619.5 573.0 617.6 573.0 615.7 573.1 613.8 573.2 612.0 573.3 610.2 573.5 608.4 573.6 606.7 573.7 605.0 573.8 603.3 573.9 601.6 574.0 600.0 574.2 597.6 574.3 595.3 574.5 593.1 574.6 590.9 574.8 588.8 574.9 586.7 575.1 584.7 575.3 582.7 575.4 580.7 575.6 578.8 575.8 576.8 576.0 575.0 576.2 573.1 576.4 571.2 576.6 569.4 576.8 567.5 577.1 565.6 577.4 563.8 577.7 561.9 578.0 560.0 578.4 557.9 578.8 555.9 579.2 553.8 579.7 551.8 580.2 549.8 580.7 547.8 581.2 545.8 581.8 543.8 582.3 541.8 582.9 539.8 583.4 537.9 584.0 535.9 584.6 533.9 585.1 532.0 585.6 530.0 586.2 528.0 586.7 526.0 586.8 523.2 587.5 520.8 588.2 518.4 589.0 516.1 589.7 513.7 590.4 511.3 591.1 509.0 591.9 506.6 592.6 504.2 593.3 501.8 594.0 499.5 594.8 497.1 595.5 494.7 596.2 492.3 597.0 490.0 597.7 487.6 598.5 485.2 599.2 482.9 599.9 480.5 600.7 478.1 601.5 475.7 602.2 473.4 603.0 471.0 603.7 468.6 604.5 466.3 605.3 463.9 606.1 461.5 606.8 459.2 607.6 456.8 608.4 454.5 609.2 452.1 610.0 449.7 610.8 447.4 611.6 445.0 612.5 442.7 613.3 440.3 614.1 438.0 615.0 435.6 615.8 433.3 616.7 431.0 617.5 428.6 618.4 426.3 619.3 423.9 620.2 421.6 621.0 419.3 621.9 416.9 622.8 414.6 623.8 412.3 624.7 410.0 625.6 407.7 626.6 405.3 627.5 403.0 628.5 400.7 629.5 398.4 630.4 396.1 631.4 393.8 632.4 391.5 633.4 389.2 634.5 386.9 635.5 384.6 636.5 382.3 637.6 380.1 638.7 377.8 639.7 375.5 640.8 373.2 641.9 371.0 643.0 368.7 644.2 366.5 645.3 364.2 646.5 362.0 647.6 359.7 648.8 357.5 650.0 355.2 651.2 353.0 652.4 350.8 653.7 348.5 654.9 346.3 656.2 344.1 657.4 341.9 658.7 339.7 660.0 337.5 661.4 335.3 662.7 333.1 664.0 330.9 665.4 328.8 666.8 326.6 668.2 324.5 669.6 322.4 671.0 320.2 672.5 318.1 673.9 316.0 675.4 314.0 676.9 311.9 678.4 309.9 679.9 307.8 681.5 305.8 683.0 303.8 684.6 301.8 686.2 299.9 687.8 298.0 689.4 296.0 691.1 294.1 692.7 292.3 694.4 290.4 696.1 288.6 697.8 286.8 699.6 285.0 701.3 283.3 703.1 281.6 704.9 279.9 706.7 278.2 708.5 276.6 710.4 274.9 712.2 273.4 714.1 271.8 716.0 270.3 717.9 268.8 719.9 267.4 721.9 265.9 723.8 264.6 725.8 263.2 727.9 261.9 729.9 260.6 732.0 259.4 734.1 258.2 736.2 257.0 738.3 255.9 740.4 254.8 742.6 253.8 744.8 252.8 747.0 251.8 749.3 250.9 751.5 250.0 753.8 249.1 756.1 248.3 758.4 247.6 760.7 246.9 763.0 246.2 765.4 245.5 767.8 244.9 770.1 244.3 772.5 243.8 774.9 243.3 777.4 242.8 779.8 242.4 782.2 242.0 784.7 241.6 787.2 241.3 789.6 241.0 792.1 240.7 794.6 240.5 797.1 240.3 799.6 240.1 802.1 240.0 804.6 239.9 807.2 239.8 809.7 239.8 812.2 239.8 814.7 239.8 817.3 239.8 819.8 239.9 822.3 240.0 824.9 240.1 827.4 240.3 829.9 240.5 832.5 240.7 835.0 241.0 837.5 241.2 840.1 241.5 842.6 241.8 845.1 242.2 847.6 242.5 850.1 242.9 852.6 243.3 855.1 243.8 857.6 244.2 860.0 244.7 862.5 245.2 865.0 245.8 867.4 246.3 869.9 246.9 872.3 247.5 874.7 248.1 877.2 248.7 879.6 249.3 882.0 250.0 884.4 250.7 886.9 251.4 889.3 252.1 891.7 252.8 894.1 253.5 896.5 254.3 898.8 255.0 901.2 255.8 903.6 256.6 906.0 257.4 908.4 258.2 910.7 259.1 913.1 259.9 915.5 260.8 917.8 261.6 920.2 262.5 922.5 263.4 924.9 264.3 927.2 265.2 929.6 266.1 931.9 267.0 934.3 267.9 936.6 268.8 939.0 269.7 941.3 270.7 943.6 271.6 946.0 272.5 948.3 273.5 950.7 274.4 953.0 275.4 955.3 276.3 957.6 277.3 960.0 278.2 962.3 279.2 964.6 280.1 967.0 281.1 969.3 282.0 971.6 283.0 974.0 283.9 976.3 284.8 978.6 285.8 981.0 286.7 983.3 287.6 985.6 288.6 988.0 289.5 990.3 290.4 992.6 291.3 995.0 292.2 997.3 293.1 999.7 294.1 1002.0 295.0 1004.3 295.9 1006.7 296.8 1009.0 297.7 1011.4 298.5 1013.7 299.4 1016.0 300.3 1018.4 301.2 1020.7 302.1 1023.1 303.0 1025.4 303.9 1027.7 304.7 1030.1 305.6 1032.4 306.5 1034.8 307.4 1037.1 308.2 1039.5 309.1 1041.8 310.0 1044.1 310.9 1046.5 311.7 1048.8 312.6 1051.2 313.5 1053.5 314.3 1055.9 315.2 1058.2 316.1 1060.5 316.9 1062.9 317.8 1065.2 318.7 1067.6 319.5 1069.9 320.4 1072.2 321.3 1074.6 322.2 1076.9 323.0 1079.2 323.9 1081.6 324.8 1083.9 325.6 1086.3 326.5 1088.6 327.4 1090.9 328.3 1093.3 329.1 1095.6 330.0 1097.9 330.9 1100.3 331.8 1102.6 332.7 1104.9 333.6 1107.2 334.4 1109.6 335.3 1111.9 336.2 1114.2 337.1 1116.5 338.0 1118.9 338.9 1121.2 339.8 1123.5 340.7 1125.8 341.6 1128.1 342.6 1130.5 343.5 1132.8 344.4 1135.1 345.3 1137.4 346.2 1139.7 347.2 1142.0 348.1 1144.3 349.0 1146.6 350.0 1148.9 350.9 1151.2 351.9 1153.5 352.8 1155.8 353.8 1158.1 354.8 1160.4 355.7 1162.7 356.7 1165.0 357.7 1167.3 358.7 1169.6 359.6 1171.9 360.6 1174.2 361.6 1176.5 362.6 1178.8 363.6 1181.0 364.7 1183.3 365.7 1185.6 366.7 1187.9 367.7 1190.1 368.8 1192.4 369.8 1194.7 370.9 1196.9 371.9 1199.2 373.0 1201.5 374.1 1203.7 375.1 1206.0 376.2 1208.2 377.3 1210.5 378.4 1212.7 379.5 1215.0 380.6 1217.2 381.7 1219.5 382.8 1221.7 384.0 1223.9 385.1 1226.2 386.3 1228.4 387.4 1230.6 388.6 1232.8 389.7 1235.1 390.9 1237.3 392.1 1239.5 393.2 1241.7 394.4 1243.9 395.6 1246.1 396.8 1248.3 398.0 1250.5 399.2 1252.7 400.5 1254.9 401.7 1257.1 402.9 1259.3 404.2 1261.5 405.4 1263.6 406.7 1265.8 407.9 1268.0 409.2 1270.1 410.5 1272.3 411.7 1274.5 413.0 1276.6 414.3 1278.8 415.6 1280.9 416.9 1283.1 418.2 1285.2 419.6 1287.3 420.9 1289.5 422.2 1291.6 423.6 1293.7 424.9 1295.8 426.2 1297.9 427.6 1300.1 429.0 1302.2 430.3 1304.3 431.7 1306.4 433.1 1308.4 434.5 1310.5 435.9 1312.6 437.3 1314.7 438.7 1316.8 440.1 1318.8 441.5 1320.9 443.0 1322.9 444.4 1325.0 445.9 1327.0 447.3 1329.1 448.8 1331.1 450.2 1333.2 451.7 1335.2 453.2 1337.2 454.7 1339.2 456.1 1341.2 457.6 1343.2 459.1 1345.2 460.6 1347.2 462.2 1349.2 463.7 1351.2 465.2 1353.2 466.7 1355.1 468.3 1357.1 469.8 1359.1 471.4 1361.0 473.0 1363.0 474.5 1364.9 476.1 1366.9 477.7 1368.8 479.3 1370.7 480.9 1372.6 482.5 1374.5 484.1 1376.4 485.7 1378.3 487.3 1380.2 488.9 1382.1 490.6 1384.0 492.2 1385.9 493.8 1387.7 495.5 1389.6 497.2 1391.5 498.8 1393.3 500.5 1395.1 502.2 1397.0 503.9 1398.8 505.6 1400.6 507.3 1402.4 509.0 1404.3 510.7 1406.1 512.4 1407.9 514.1 1409.6 515.8 1411.4 517.6 1413.2 519.3 1415.0 521.1 1416.7 522.8 1418.5 524.6 1420.2 526.4 1422.0 528.1 1423.7 529.9 1425.5 531.7 1427.2 533.5 1428.9 535.3 1430.6 537.1 1432.3 538.9 1434.0 540.7 1435.7 542.5 1437.4 544.3 1439.1 546.2 1440.8 548.0 1442.5 549.8 1444.1 551.7 1445.8 553.5 1447.4 555.4 1449.1 557.3 1450.7 559.1 1452.4 561.0 1454.0 562.9 1455.6 564.8 1457.3 566.7 1458.9 568.5 1460.5 570.4 1462.1 572.3 1463.7 574.3 1465.3 576.2 1466.9 578.1 1468.5 580.0 1470.1 581.9 1471.6 583.9 1473.2 585.8 1474.8 587.7 1476.3 589.7 1477.9 591.6 1479.4 593.6 1481.0 595.6 1482.5 597.5 1484.1 599.5 1485.6 601.5 1487.1 603.4 1488.6 605.4 1490.2 607.4 1491.7 609.4 1493.2 611.4 1494.7 613.4 1496.2 615.4 1497.7 617.4 1499.2 619.4 1500.6 621.4 1502.1 623.4 1503.6 625.5 1505.1 627.5 1506.5 629.5 1508.0 631.5 1509.5 633.6 1510.9 635.6 1512.4 637.7 1513.8 639.7 1515.2 641.8 1516.7 643.8 1518.1 645.9 1519.5 647.9 1521.0 650.0 1522.4 652.1 1523.8 654.2 1525.2 656.2 1526.6 658.3 1528.0 660.4 1529.4 662.5 1530.8 664.6 1532.2 666.7 1533.6 668.7 1535.0 670.8 1536.4 672.9 1537.8 675.0 1539.1 677.2 1540.5 679.3 1541.9 681.4 1543.2 683.5 1544.6 685.6 1546.0 687.7 1547.3 689.8 1548.7 692.0 1550.0 694.1 1551.4 696.2 1552.7 698.4 1554.0 700.5 1555.4 702.6 1556.7 704.8 1558.0 706.9 1559.3 709.1 1560.7 711.2 1562.0 713.4 1563.3 715.5 1564.6 717.7 1565.9 719.8 1567.2 722.0 1568.5 724.1 1569.8 726.3 1571.1 728.4 1572.4 730.6 1573.7 732.8 1575.0 734.9 1576.3 737.1 1577.6 739.3 1578.9 741.5 1580.1 743.6 1581.4 745.8 1582.7 748.0 1584.0 750.2 1585.2 752.4 1586.5 754.5 1587.8 756.7 1589.0 758.9 1590.3 761.1 1591.5 763.3 1592.8 765.5 1594.1 767.7 1595.3 769.8 1596.6 772.0 1597.8 774.2 1599.0 776.4 1600.3 778.6 1601.5 780.8 1602.8 783.0 1604.0 785.2 1605.2 787.4 1606.5 789.6 1607.7 791.8 1608.9 794.0 1610.2 796.2 1611.4 798.4 1612.6 800.6 1613.8 802.8 1615.0 805.0 1616.3 807.2 1617.5 809.4 1618.7 811.6 1619.9 813.8 1621.1 816.0 1622.3 818.3 1623.5 820.5 1624.8 822.7 1626.0 824.9 1627.2 827.1 1628.4 829.3 1629.6 831.5 1630.8 833.7 1632.0 835.9 1633.2 838.1 1634.4 840.3 1635.6 842.5 1636.8 844.7 1638.0 846.9 1639.2 849.1 1640.4 851.3 1641.6 853.5 1642.7 855.8 1643.9 858.0 1645.1 860.2 1646.3 862.4 1647.5 864.6 1648.7 866.8 1649.9 869.0 1651.1 871.2 1652.2 873.4 1653.4 875.6 1654.6 877.8 1655.8 880.0 1657.0 882.2 1658.2 884.4 1659.3 886.6 1660.5 888.8 1661.7 891.0 1662.9 893.2 1664.1 895.4 1665.3 897.5 1666.4 899.7 1667.6 901.9 1668.8 904.1 1670.0 906.3 1671.2 908.5 1672.3 910.7 1673.5 912.9 1674.7 915.1 1675.9 917.3 1677.0 919.5 1678.2 921.7 1679.4 923.9 1680.6 926.1 1681.8 928.3 1682.9 930.4 1684.1 932.6 1685.3 934.8 1686.5 937.0 1687.6 939.2 1688.8 941.4 1690.0 943.6 1691.2 945.8 1692.4 948.0 1693.5 950.1 1694.7 952.3 1695.9 954.5 1697.1 956.7 1698.3 958.9 1699.4 961.1 1700.6 963.2 1701.8 965.4 1703.0 967.6 1704.2 969.8 1705.4 972.0 1706.5 974.2 1707.7 976.3 1708.9 978.5 1710.1 980.7 1711.3 982.9 1712.5 985.1 1713.7 987.2 1714.8 989.4 1716.0 991.6 1717.2 993.8 1718.4 996.0 1719.6 998.1 1720.8 1000.3 1722.0 1002.5 1723.2 1004.7 1724.4 1006.8 1725.6 1009.0 1726.8 1011.2 1728.0 1013.4 1729.2 1015.5 1730.4 1017.7 1731.6 1019.9 1732.8 1022.0 1734.0 1024.2 1735.2 1026.4 1736.4 1028.6 1737.6 1030.7 1738.8 1032.9 1740.0 1035.1 1741.3 1037.2 1742.5 1039.4 1743.7 1041.6 1744.9 1043.7 1746.1 1045.9 1747.3 1048.1 1748.6 1050.2 1749.8 1052.4 1751.0 1054.6 1752.2 1056.7 1753.5 1058.9 1754.7 1061.1 1755.9 1063.2 1757.2 1065.4 1758.4 1067.5 1759.6 1069.7 1760.9 1071.9 1762.1 1074.0 1763.4 1076.2 1764.6 1078.3 1765.8 1080.5 1767.1 1082.7 1768.3 1084.8 1769.6 1087.0 1770.8 1089.1 1772.1 1091.3 1773.4 1093.4 1774.6 1095.6 1775.9 1097.8 1777.1 1099.9 1778.4 1102.1 1779.7 1104.2 1781.0 1106.4 1782.2 1108.5 1783.5 1110.7 1784.8 1112.8 1786.1 1115.0 1787.3 1117.1 1788.6 1119.3 1789.9 1121.4 1791.2 1123.6 1792.5 1125.7 1793.8 1127.9 1795.1 1130.0 1796.4 1132.2 1797.7 1134.3 1799.0 1136.5 1800.3 1138.6 1801.6 1140.8 1802.9 1142.9 1804.2 1145.0 1805.6 1147.2 1806.9 1149.3 1808.2 1151.5 1809.5 1153.6 1810.9 1155.8 1812.2 1157.9 1813.5 1160.0 1814.9 1162.2 1816.2 1164.3 1817.6 1166.5 1818.9 1168.6 1820.3 1170.7 1821.6 1172.9 1823.0 1175.0 1824.3 1177.1 1825.7 1179.2 1827.1 1181.4 1828.4 1183.5 1829.8 1185.6 1831.2 1187.8 1832.6 1189.9 1833.9 1192.0 1835.3 1194.1 1836.7 1196.2 1838.1 1198.3 1839.5 1200.5 1840.9 1202.6 1842.3 1204.7 1843.7 1206.8 1845.1 1208.9 1846.6 1211.0 1848.0 1213.1 1849.4 1215.2 1850.8 1217.3 1852.3 1219.4 1853.7 1221.4 1855.1 1223.5 1856.6 1225.6 1858.0 1227.7 1859.5 1229.8 1860.9 1231.8 1862.4 1233.9 1863.9 1236.0 1865.3 1238.0 1866.8 1240.1 1868.3 1242.1 1869.8 1244.2 1871.2 1246.2 1872.7 1248.3 1874.2 1250.3 1875.7 1252.4 1877.2 1254.4 1878.7 1256.4 1880.2 1258.5 1881.8 1260.5 1883.3 1262.5 1884.8 1264.5 1886.3 1266.5 1887.9 1268.5 1889.4 1270.5 1890.9 1272.5 1892.5 1274.5 1894.0 1276.5 1895.6 1278.5 1897.2 1280.5 1898.7 1282.4 1900.3 1284.4 1901.9 1286.4 1903.5 1288.3 1905.0 1290.3 1906.6 1292.2 1908.2 1294.2 1909.8 1296.1 1911.4 1298.0 1913.1 1300.0 1914.7 1301.9 1916.3 1303.8 1917.9 1305.7 1919.6 1307.6 1921.2 1309.5 1922.8 1311.4 1924.5 1313.3 1926.2 1315.2 1927.8 1317.1 1929.5 1318.9 1931.2 1320.8 1932.8 1322.6 1934.5 1324.5 1936.2 1326.3 1937.9 1328.2 1939.6 1330.0 1941.3 1331.8 1943.0 1333.7 1944.7 1335.5 1946.5 1337.3 1948.2 1339.1 1949.9 1340.9 1951.7 1342.6 1953.4 1344.4 1955.2 1346.2 1956.9 1347.9 1958.7 1349.7 1960.5 1351.5 1962.2 1353.2 1964.0 1354.9 1965.8 1356.6 1967.6 1358.4 1969.4 1360.1 1971.2 1361.8 1973.0 1363.5 1974.8 1365.2 1976.7 1366.8 1978.5 1368.5 1980.3 1370.2 1982.2 1371.8 1984.0 1373.5 1985.9 1375.1 1987.8 1376.7 1989.6 1378.4 1991.5 1380.0 1993.4 1381.6 1995.3 1383.2 1997.2 1384.8 1999.1 1386.3 2001.0 1387.9 2002.9 1389.5 2004.9 1391.0 2006.8 1392.6 2008.7 1394.1 2010.7 1395.6 2012.6 1397.1 2014.6 1398.7 2016.6 1400.2 2018.6 1401.6 2020.5 1403.1 2022.5 1404.6 2024.5 1406.0 2026.5 1407.5 2028.5 1408.9 2030.6 1410.4 2032.6 1411.8 2034.6 1413.2 2036.7 1414.6 2038.7 1416.0 2040.8 1417.4 2042.8 1418.7 2044.9 1420.1 2047.0 1421.4 2049.1 1422.8 2051.2 1424.1 2053.3 1425.4 2055.4 1426.7 2057.5 1428.0 2059.6 1429.3 2061.7 1430.6 2063.9 1431.9 2066.0 1433.1 2068.2 1434.4 2070.3 1435.6 2072.5 1436.8 2074.7 1438.0 2076.8 1439.3 2079.0 1440.5 2081.2 1441.6 2083.4 1442.8 2085.6 1444.0 2087.8 1445.1 2090.0 1446.3 2092.3 1447.4 2094.5 1448.6 2096.7 1449.7 2099.0 1450.8 2101.2 1451.9 2103.5 1453.0 2105.7 1454.1 2108.0 1455.1 2110.2 1456.2 2112.5 1457.2 2114.8 1458.3 2117.1 1459.3 2119.4 1460.3 2121.6 1461.4 2123.9 1462.4 2126.2 1463.4 2128.6 1464.3 2130.9 1465.3 2133.2 1466.3 2135.5 1467.3 2137.8 1468.2 2140.2 1469.1 2142.5 1470.1 2144.8 1471.0 2147.2 1471.9 2149.5 1472.8 2151.9 1473.7 2154.2 1474.6 2156.6 1475.5 2158.9 1476.4 2161.3 1477.2 2163.7 1478.1 2166.1 1478.9 2168.4 1479.7 2170.8 1480.6 2173.2 1481.4 2175.6 1482.2 2178.0 1483.0 2180.4 1483.8 2182.8 1484.6 2185.2 1485.4 2187.6 1486.1 2190.0 1486.9 2192.4 1487.6 2194.8 1488.4 2197.2 1489.1 2199.6 1489.8 2202.0 1490.5 2204.5 1491.3 2206.9 1492.0 2209.3 1492.6 2211.7 1493.3 2214.2 1494.0 2216.6 1494.7 2219.0 1495.3 2221.5 1496.0 2223.9 1496.6 2226.4 1497.3 2228.8 1497.9 2231.2 1498.5 2233.7 1499.1 2236.1 1499.7 2238.6 1500.3 2241.0 1500.9 2243.5 1501.5 2245.9 1502.1 2248.4 1502.6 2250.8 1503.2 2253.3 1503.7 2255.8 1504.3 2258.2 1504.8 2260.7 1505.3 2263.1 1505.9 2265.6 1506.4 2268.0 1506.9 2270.5 1507.4 2273.0 1507.9 2275.4 1508.3 2277.9 1508.8 2280.3 1509.3 2282.8 1509.7 2285.3 1510.2 2287.7 1510.6 2290.2 1511.1 2292.6 1511.5 2295.1 1511.9 2297.6 1512.4 2300.0 1512.8 2302.5 1513.2 2304.9 1513.6 2307.4 1514.0 2309.9 1514.3 2312.3 1514.7 2314.8 1515.1 2317.2 1515.4 2319.7 1515.8 2322.1 1516.1 2324.6 1516.5 2327.0 1516.8 2329.5 1517.2 2331.9 1517.5 2334.4 1517.8 2336.8 1518.1 2339.2 1518.4 2341.7 1518.7 2344.1 1519.0 2346.5 1519.3 2349.0 1519.5 2351.4 1519.8 2353.8 1520.1 2356.3 1520.3 2358.7 1520.6 2361.1 1520.8 2363.5 1521.1"/>
<path stroke="#008000" stroke-dasharray="7.5 15.5" stroke-linecap="round" d="M345.0 1546.0L345.4 1544.0 345.7 1541.9 346.0 1539.9 346.4 1537.8 346.7 1535.7 347.1 1533.6 347.4 1531.5 347.7 1529.4 348.1 1527.4 348.4 1525.4 348.8 1523.5 349.2 1521.6 349.6 1519.8 350.0 1518.0 350.6 1515.8 351.1 1513.7 351.7 1511.7 352.3 1509.8 353.0 1507.9 353.6 1506.0 354.3 1504.1 355.0 1502.0 355.7 1500.1 356.4 1498.1 357.2 1496.2 358.0 1494.2 358.8 1492.2 359.6 1490.1 360.4 1488.1 361.2 1485.9 362.0 1483.7 362.7 1481.5 363.3 1479.7 363.8 1477.8 364.4 1475.8 364.9 1473.8 365.4 1471.8 365.9 1469.8 366.5 1467.7 367.0 1465.6 367.5 1463.5 367.9 1461.4 368.4 1459.3 368.9 1457.2 369.4 1455.1 369.8 1453.0 370.3 1451.0 370.7 1449.0 371.2 1447.0 371.6 1445.0 372.0 1443.0 372.4 1441.0 372.8 1439.0 373.2 1437.0 373.6 1435.0 374.0 1433.0 374.3 1431.0 374.7 1429.0 375.1 1427.0 375.5 1425.0 375.9 1423.0 376.3 1421.0 376.7 1419.0 377.1 1417.0 377.5 1414.9 377.9 1412.9 378.3 1410.8 378.7 1408.8 379.1 1406.8 379.5 1404.7 379.9 1402.7 380.3 1400.7 380.7 1398.7 381.1 1396.7 381.5 1394.8 382.0 1392.9 382.4 1391.0 382.9 1388.8 383.5 1386.7 384.0 1384.6 384.6 1382.5 385.1 1380.5 385.7 1378.5 386.2 1376.5 386.8 1374.4 387.3 1372.3 387.9 1370.2 388.4 1368.0 388.8 1366.1 389.2 1364.2 389.7 1362.2 390.1 1360.2 390.5 1358.2 390.9 1356.1 391.3 1354.0 391.6 1352.0 392.0 1349.9 392.4 1347.8 392.8 1345.8 393.2 1343.8 393.7 1341.8 394.1 1339.9 394.5 1338.0 395.0 1335.8 395.5 1333.6 396.1 1331.4 396.6 1329.2 397.1 1327.0 397.6 1324.9 398.2 1322.8 398.7 1320.8 399.3 1318.8 399.9 1316.9 400.5 1315.0 401.2 1313.0 402.0 1311.1 402.9 1309.2 403.7 1307.4 404.6 1305.7 405.3 1303.9 406.0 1302.0 406.6 1300.0 407.0 1298.2 407.3 1296.4 407.6 1294.6 407.8 1292.7 407.9 1290.9 408.0 1288.9 408.1 1286.9 408.2 1284.7 408.4 1282.4 408.5 1280.0 408.6 1278.5 408.7 1276.9 408.8 1275.2 408.9 1273.5 408.9 1271.7 409.0 1269.9 409.1 1268.0 409.2 1266.1 409.3 1264.1 409.3 1262.1 409.4 1260.1 409.5 1258.1 409.5 1256.0 409.6 1253.9 409.7 1251.7 409.7 1249.6 409.8 1247.4 409.8 1245.3 409.9 1243.1 410.0 1240.9 410.0 1238.8 410.1 1236.6 410.2 1234.5 410.2 1232.3 410.3 1230.2 410.4 1228.1 410.4 1226.0 410.5 1224.0 410.6 1222.0 410.6 1220.0 410.7 1217.9 410.8 1215.8 410.8 1213.8 410.9 1211.7 410.9 1209.6 411.0 1207.5 411.0 1205.4 411.1 1203.3 411.2 1201.2 411.2 1199.1 411.3 1197.0 411.3 1194.9 411.4 1192.8 411.4 1190.7 411.5 1188.7 411.6 1186.6 411.6 1184.6 411.7 1182.5 411.8 1180.5 411.8 1178.5 411.9 1176.5 412.0 1174.5 412.1 1172.6 412.2 1170.6 412.3 1168.7 412.4 1166.9 412.5 1165.0 412.6 1162.8 412.8 1160.5 412.9 1158.2 413.0 1155.9 413.1 1153.5 413.2 1151.2 413.3 1148.9 413.5 1146.6 413.6 1144.3 413.7 1142.1 413.9 1139.9 414.1 1137.8 414.2 1135.8 414.4 1133.9 414.6 1132.1 414.9 1130.4 415.1 1128.8 415.4 1127.4 415.7 1126.1 416.0 1125.0 417.5 1121.5 419.0 1120.0 419.5 1120.5 420.0 1121.8 420.5 1123.6 420.9 1126.0 421.3 1128.6 421.6 1131.5 422.0 1134.4 422.2 1135.7 422.3 1137.0 422.4 1138.4 422.6 1139.9 422.7 1141.5 422.8 1143.1 422.9 1144.8 423.1 1146.6 423.2 1148.5 423.3 1150.4 423.4 1152.3 423.5 1154.3 423.6 1156.4 423.7 1158.4 423.8 1160.6 423.9 1162.7 423.9 1164.9 424.0 1167.2 424.1 1169.4 424.2 1171.7 424.3 1173.9 424.4 1176.2 424.4 1178.5 424.5 1180.8 424.6 1183.1 424.7 1185.4 424.8 1187.7 424.9 1190.0 424.9 1192.3 425.0 1194.5 425.1 1196.7 425.2 1198.9 425.3 1201.1 425.4 1203.2 425.5 1205.3 425.6 1207.4 425.7 1209.4 425.8 1211.3 425.9 1213.2 426.0 1215.0 426.1 1217.3 426.3 1219.6 426.4 1222.0 426.5 1224.3 426.7 1226.7 426.8 1229.1 426.9 1231.5 427.0 1233.8 427.2 1236.2 427.3 1238.5 427.4 1240.8 427.5 1243.1 427.7 1245.4 427.8 1247.6 427.9 1249.7 428.1 1251.8 428.2 1253.9 428.4 1255.8 428.6 1257.8 428.7 1259.6 428.9 1261.3 429.1 1263.0 429.3 1264.5 429.5 1266.0 429.8 1267.3 430.0 1268.5 430.7 1271.6 431.5 1274.3 432.3 1276.3 433.0 1277.0 433.5 1276.5 434.1 1275.3 434.6 1273.4 435.1 1270.9 435.5 1268.2 436.0 1265.2 436.1 1264.2 436.3 1263.1 436.4 1262.0 436.5 1260.8 436.7 1259.5 436.8 1258.1 436.9 1256.7 437.0 1255.3 437.1 1253.7 437.3 1252.2 437.4 1250.5 437.5 1248.8 437.6 1247.1 437.7 1245.3 437.8 1243.5 437.9 1241.6 437.9 1239.7 438.0 1237.7 438.1 1235.7 438.2 1233.7 438.3 1231.6 438.4 1229.5 438.5 1227.4 438.5 1225.2 438.6 1223.0 438.7 1220.8 438.8 1218.6 438.8 1216.3 438.9 1214.0 439.0 1211.7 439.1 1209.4 439.1 1207.0 439.2 1204.7 439.3 1202.3 439.3 1200.0 439.4 1197.6 439.5 1195.2 439.5 1192.8 439.6 1190.4 439.7 1188.1 439.7 1185.7 439.8 1183.3 439.9 1180.9 439.9 1178.6 440.0 1176.2 440.1 1173.9 440.1 1171.6 440.2 1169.3 440.3 1167.0 440.4 1164.7 440.4 1162.4 440.5 1160.2 440.6 1158.0 440.7 1155.8 440.7 1153.7 440.8 1151.6 440.9 1149.5 441.0 1147.4 441.1 1145.4 441.2 1143.3 441.3 1141.3 441.3 1139.2 441.4 1137.1 441.5 1135.0 441.6 1132.9 441.7 1130.8 441.8 1128.7 441.8 1126.5 441.9 1124.4 442.0 1122.2 442.1 1120.1 442.2 1117.9 442.3 1115.8 442.3 1113.6 442.4 1111.5 442.5 1109.3 442.6 1107.1 442.7 1104.9 442.8 1102.8 442.8 1100.6 442.9 1098.4 443.0 1096.3 443.1 1094.1 443.2 1092.0 443.3 1089.8 443.3 1087.7 443.4 1085.5 443.5 1083.4 443.6 1081.3 443.7 1079.2 443.8 1077.1 443.8 1075.0 443.9 1072.9 444.0 1070.8 444.1 1068.8 444.2 1066.7 444.3 1064.7 444.4 1062.7 444.4 1060.7 444.5 1058.7 444.6 1056.7 444.7 1054.7 444.8 1052.8 444.9 1050.9 445.0 1049.0 445.1 1047.1 445.2 1045.3 445.2 1043.4 445.3 1041.6 445.4 1039.8 445.5 1038.1 445.6 1036.3 445.7 1034.6 445.8 1032.9 445.9 1031.3 446.0 1029.6 446.1 1027.1 446.3 1024.5 446.4 1021.8 446.6 1019.1 446.7 1016.3 446.8 1013.6 447.0 1010.8 447.1 1008.0 447.2 1005.3 447.4 1002.6 447.5 999.9 447.7 997.4 447.8 994.9 447.9 992.5 448.1 990.3 448.3 988.2 448.4 986.2 448.6 984.4 448.8 982.8 448.9 981.4 449.1 980.3 449.3 979.3 449.5 978.6 449.8 978.2 450.0 978.0 450.4 978.4 450.9 979.4 451.5 981.1 452.0 983.3 452.5 985.8 453.0 988.6 453.5 991.4 454.0 994.3 454.2 995.6 454.4 997.0 454.5 998.5 454.7 1000.0 454.8 1001.7 455.0 1003.4 455.1 1005.2 455.3 1007.1 455.4 1009.0 455.5 1011.0 455.7 1013.1 455.8 1015.2 455.9 1017.3 456.0 1019.5 456.1 1021.7 456.2 1024.0 456.3 1026.3 456.4 1028.6 456.5 1030.9 456.6 1033.3 456.7 1035.6 456.8 1038.0 456.9 1040.4 457.0 1042.8 457.1 1045.1 457.2 1047.5 457.3 1049.8 457.4 1052.1 457.5 1054.4 457.6 1056.7 457.7 1058.9 457.8 1061.1 457.9 1063.2 458.0 1065.3 458.1 1067.4 458.2 1069.3 458.3 1071.3 458.5 1073.1 458.6 1074.9 458.7 1076.6 458.9 1078.3 459.0 1079.8 459.3 1082.5 459.5 1085.1 459.7 1087.7 460.0 1090.2 460.2 1092.7 460.4 1095.1 460.7 1097.3 460.9 1099.5 461.2 1101.6 461.5 1103.5 461.8 1105.2 462.2 1106.8 462.6 1108.3 463.0 1109.5 464.5 1112.7 466.0 1114.0 466.4 1113.7 466.8 1112.9 467.1 1111.7 467.4 1110.1 467.6 1108.3 467.8 1106.1 468.0 1103.8 468.2 1101.2 468.4 1098.5 468.6 1095.7 468.8 1092.8 469.0 1089.9 469.1 1088.7 469.2 1087.5 469.3 1086.3 469.4 1085.0 469.5 1083.6 469.5 1082.3 469.6 1080.8 469.7 1079.4 469.8 1077.9 469.9 1076.3 470.0 1074.8 470.1 1073.2 470.1 1071.5 470.2 1069.8 470.3 1068.1 470.4 1066.3 470.5 1064.6 470.6 1062.7 470.6 1060.9 470.7 1059.0 470.8 1057.1 470.9 1055.2 471.0 1053.2 471.0 1051.3 471.1 1049.2 471.2 1047.2 471.3 1045.2 471.4 1043.1 471.4 1041.0 471.5 1038.9 471.6 1036.7 471.7 1034.6 471.7 1032.4 471.8 1030.2 471.9 1028.0 472.0 1025.8 472.0 1023.6 472.1 1021.4 472.2 1019.1 472.3 1016.8 472.3 1014.6 472.4 1012.3 472.5 1010.0 472.6 1007.7 472.6 1005.4 472.7 1003.1 472.8 1000.8 472.9 998.5 472.9 996.1 473.0 993.8 473.1 991.5 473.1 989.2 473.2 986.9 473.3 984.6 473.4 982.3 473.4 980.0 473.5 977.7 473.6 975.4 473.6 973.1 473.7 970.8 473.8 968.5 473.9 966.3 473.9 964.0 474.0 961.8 474.1 959.6 474.1 957.4 474.2 955.2 474.3 953.0 474.4 950.8 474.4 948.7 474.5 946.6 474.6 944.4 474.6 942.4 474.7 940.3 474.8 938.2 474.9 936.2 474.9 934.2 475.0 932.3 475.1 930.2 475.2 928.1 475.2 925.9 475.3 923.8 475.4 921.6 475.4 919.5 475.5 917.3 475.6 915.0 475.7 912.8 475.7 910.6 475.8 908.4 475.9 906.1 475.9 903.8 476.0 901.6 476.1 899.3 476.1 897.0 476.2 894.7 476.3 892.4 476.3 890.1 476.4 887.8 476.5 885.5 476.5 883.2 476.6 880.9 476.7 878.6 476.7 876.3 476.8 874.0 476.8 871.8 476.9 869.5 477.0 867.2 477.0 864.9 477.1 862.7 477.2 860.4 477.2 858.2 477.3 856.0 477.4 853.8 477.4 851.6 477.5 849.4 477.6 847.2 477.6 845.1 477.7 842.9 477.8 840.8 477.8 838.7 477.9 836.6 478.0 834.6 478.0 832.6 478.1 830.5 478.2 828.6 478.3 826.6 478.3 824.7 478.4 822.8 478.5 820.9 478.6 819.1 478.6 817.2 478.7 815.5 478.8 813.7 478.9 812.0 478.9 810.3 479.0 808.7 479.1 807.1 479.2 805.5 479.3 804.0 479.4 802.5 479.4 801.0 479.5 799.6 479.6 798.2 479.7 796.9 479.8 795.6 479.9 794.4 480.0 793.2 480.2 790.2 480.5 787.1 480.7 784.2 481.0 781.4 481.2 778.7 481.5 776.3 481.7 774.2 482.0 772.5 482.3 771.2 482.6 770.3 483.0 770.0 483.5 770.4 484.1 771.7 484.7 773.6 485.3 776.0 485.9 778.9 486.5 782.1 487.0 785.4 487.1 786.4 487.3 787.5 487.4 788.7 487.6 789.9 487.7 791.2 487.8 792.6 487.9 794.0 488.1 795.5 488.2 797.0 488.3 798.6 488.4 800.2 488.5 801.8 488.6 803.5 488.7 805.3 488.8 807.1 488.9 808.9 489.0 810.8 489.0 812.7 489.1 814.7 489.2 816.7 489.3 818.7 489.4 820.8 489.4 822.8 489.5 825.0 489.6 827.1 489.6 829.3 489.7 831.5 489.8 833.7 489.8 835.9 489.9 838.2 489.9 840.4 490.0 842.7 490.1 845.0 490.1 847.3 490.2 849.6 490.2 852.0 490.3 854.3 490.3 856.7 490.4 859.0 490.4 861.4 490.5 863.7 490.5 866.1 490.6 868.4 490.6 870.8 490.7 873.1 490.7 875.5 490.8 877.8 490.8 880.1 490.9 882.5 490.9 884.8 491.0 887.0 491.1 889.3 491.1 891.6 491.2 893.8 491.2 896.0 491.3 898.2 491.4 900.4 491.4 902.5 491.5 904.6 491.5 906.7 491.6 908.8 491.7 910.8 491.8 912.8 491.8 914.7 491.9 916.6 492.0 918.5 492.1 920.7 492.2 923.0 492.3 925.2 492.4 927.5 492.5 929.8 492.5 932.2 492.6 934.5 492.7 936.9 492.8 939.3 492.8 941.7 492.9 944.1 493.0 946.6 493.1 949.0 493.1 951.4 493.2 953.8 493.3 956.2 493.4 958.7 493.4 961.1 493.5 963.5 493.6 965.8 493.7 968.2 493.7 970.5 493.8 972.8 493.9 975.1 494.0 977.4 494.1 979.6 494.2 981.8 494.3 984.0 494.4 986.1 494.5 988.2 494.6 990.3 494.7 992.3 494.8 994.2 494.9 996.1 495.0 998.0 495.1 999.7 495.2 1001.5 495.4 1003.1 495.5 1004.7 495.7 1006.3 495.8 1007.7 496.0 1009.1 496.1 1010.5 496.3 1011.7 496.4 1012.9 496.6 1013.9 496.8 1014.9 497.0 1015.8 498.0 1019.4 499.0 1022.1 500.0 1023.0 500.4 1022.7 500.7 1021.9 501.0 1020.6 501.3 1019.0 501.6 1017.0 501.8 1014.7 502.1 1012.2 502.3 1009.5 502.5 1006.6 502.8 1003.6 503.0 1000.6 503.1 999.5 503.2 998.4 503.2 997.3 503.3 996.1 503.4 994.8 503.5 993.5 503.6 992.2 503.6 990.9 503.7 989.5 503.8 988.0 503.8 986.6 503.9 985.0 504.0 983.5 504.1 981.9 504.1 980.3 504.2 978.6 504.2 976.9 504.3 975.2 504.4 973.5 504.4 971.7 504.5 969.9 504.6 968.1 504.6 966.2 504.7 964.3 504.7 962.4 504.8 960.4 504.8 958.5 504.9 956.5 505.0 954.5 505.0 952.4 505.1 950.4 505.1 948.3 505.2 946.2 505.2 944.1 505.3 941.9 505.3 939.8 505.4 937.6 505.4 935.4 505.5 933.2 505.5 931.0 505.6 928.7 505.6 926.5 505.7 924.2 505.7 922.0 505.8 919.7 505.8 917.4 505.9 915.1 505.9 912.8 505.9 910.5 506.0 908.2 506.0 905.8 506.1 903.5 506.1 901.2 506.2 898.8 506.2 896.5 506.3 894.2 506.3 891.8 506.4 889.5 506.4 887.1 506.4 884.8 506.5 882.5 506.5 880.1 506.6 877.8 506.6 875.5 506.7 873.1 506.7 870.8 506.8 868.5 506.8 866.2 506.9 863.9 506.9 861.6 507.0 859.4 507.0 857.1 507.0 854.8 507.1 852.6 507.1 850.4 507.2 848.2 507.2 846.0 507.3 843.8 507.3 841.6 507.4 839.5 507.4 837.4 507.5 835.3 507.6 833.2 507.6 831.1 507.7 829.1 507.7 827.0 507.8 825.0 507.8 823.1 507.9 821.1 507.9 819.2 508.0 817.3 508.1 815.1 508.1 813.0 508.2 810.8 508.3 808.7 508.3 806.5 508.4 804.3 508.5 802.1 508.5 799.9 508.6 797.7 508.7 795.5 508.7 793.3 508.8 791.1 508.9 788.8 508.9 786.6 509.0 784.4 509.1 782.2 509.1 779.9 509.2 777.7 509.3 775.5 509.3 773.3 509.4 771.0 509.5 768.8 509.5 766.6 509.6 764.4 509.7 762.1 509.7 759.9 509.8 757.7 509.9 755.5 510.0 753.3 510.0 751.1 510.1 749.0 510.2 746.8 510.2 744.6 510.3 742.5 510.4 740.3 510.4 738.2 510.5 736.1 510.6 733.9 510.6 731.8 510.7 729.8 510.8 727.7 510.9 725.6 510.9 723.6 511.0 721.6 511.1 719.5 511.1 717.5 511.2 715.6 511.3 713.6 511.4 711.7 511.4 709.7 511.5 707.8 511.6 705.9 511.6 704.1 511.7 702.2 511.8 700.4 511.9 698.6 511.9 696.8 512.0 695.1 512.1 693.3 512.2 691.6 512.2 690.0 512.3 688.3 512.4 686.7 512.5 685.1 512.5 683.5 512.6 682.0 512.7 680.5 512.8 679.0 512.8 677.5 512.9 676.1 513.0 674.7 513.1 672.0 513.3 669.2 513.4 666.4 513.6 663.6 513.7 660.8 513.8 658.1 513.9 655.4 514.1 652.7 514.2 650.2 514.4 647.9 514.5 645.6 514.6 643.6 514.8 641.7 515.0 640.1 515.2 638.7 515.3 637.6 515.5 636.7 515.8 636.2 516.0 636.0 516.4 636.3 516.8 637.2 517.3 638.7 517.7 640.6 518.2 642.9 518.7 645.5 519.1 648.3 519.6 651.3 520.0 654.4 520.1 655.5 520.2 656.6 520.4 657.7 520.5 658.9 520.6 660.2 520.7 661.5 520.8 662.9 520.9 664.3 521.0 665.8 521.1 667.3 521.2 668.9 521.3 670.5 521.4 672.1 521.5 673.8 521.6 675.5 521.7 677.3 521.8 679.1 521.9 681.0 522.0 682.9 522.1 684.8 522.1 686.8 522.2 688.8 522.3 690.8 522.4 692.8 522.4 694.9 522.5 697.0 522.6 699.2 522.7 701.3 522.7 703.5 522.8 705.7 522.9 707.9 522.9 710.2 523.0 712.4 523.1 714.7 523.1 717.0 523.2 719.3 523.2 721.7 523.3 724.0 523.4 726.4 523.4 728.7 523.5 731.1 523.5 733.5 523.6 735.8 523.6 738.2 523.7 740.6 523.8 743.0 523.8 745.4 523.9 747.8 523.9 750.2 524.0 752.6 524.0 755.0 524.1 757.3 524.2 759.7 524.2 762.1 524.3 764.4 524.3 766.8 524.4 769.1 524.4 771.4 524.5 773.7 524.6 776.0 524.6 778.3 524.7 780.5 524.7 782.7 524.8 785.0 524.9 787.1 524.9 789.3 525.0 791.5 525.0 793.6 525.1 795.7 525.2 797.7 525.2 799.7 525.3 801.7 525.4 803.7 525.5 805.6 525.5 807.5 525.6 809.4 525.7 811.2 525.8 813.0 525.8 814.8 525.9 816.5 526.0 818.1 526.1 820.5 526.2 823.0 526.3 825.4 526.5 827.9 526.6 830.4 526.7 832.8 526.8 835.3 526.8 837.8 526.9 840.3 527.0 842.7 527.1 845.2 527.2 847.6 527.3 850.0 527.4 852.4 527.5 854.8 527.6 857.2 527.7 859.5 527.8 861.8 527.9 864.0 528.0 866.2 528.1 868.4 528.2 870.5 528.3 872.5 528.5 874.6 528.6 876.5 528.7 878.4 528.9 880.2 529.0 881.9 529.2 883.6 529.3 885.2 529.5 886.7 529.7 888.2 529.9 889.5 530.1 890.8 530.3 892.0 530.5 893.0 530.8 894.0 531.0 894.9 532.5 898.6 534.0 900.0 534.4 899.7 534.7 899.1 535.1 898.1 535.4 896.8 535.7 895.2 535.9 893.3 536.2 891.3 536.4 889.0 536.7 886.5 536.9 883.9 537.1 881.2 537.3 878.4 537.6 875.6 537.8 872.7 538.0 869.8 538.1 868.6 538.2 867.4 538.3 866.1 538.3 864.8 538.4 863.5 538.5 862.2 538.6 860.8 538.7 859.3 538.8 857.9 538.8 856.3 538.9 854.8 539.0 853.2 539.1 851.6 539.1 850.0 539.2 848.3 539.3 846.6 539.3 844.9 539.4 843.1 539.5 841.3 539.5 839.5 539.6 837.7 539.6 835.8 539.7 833.9 539.8 832.0 539.8 830.1 539.9 828.1 539.9 826.1 540.0 824.1 540.1 822.1 540.1 820.0 540.2 817.9 540.2 815.8 540.3 813.7 540.3 811.6 540.4 809.5 540.4 807.3 540.5 805.1 540.5 802.9 540.6 800.7 540.6 798.5 540.7 796.3 540.7 794.1 540.7 791.8 540.8 789.6 540.8 787.3 540.9 785.0 540.9 782.7 541.0 780.4 541.0 778.1 541.1 775.8 541.1 773.5 541.1 771.2 541.2 768.9 541.2 766.6 541.3 764.3 541.3 761.9 541.3 759.6 541.4 757.3 541.4 755.0 541.5 752.6 541.5 750.3 541.5 748.0 541.6 745.7 541.6 743.4 541.7 741.1 541.7 738.8 541.7 736.5 541.8 734.2 541.8 732.0 541.9 729.7 541.9 727.5 541.9 725.2 542.0 723.0 542.0 720.8 542.1 718.6 542.1 716.4 542.2 714.2 542.2 712.0 542.2 709.9 542.3 707.7 542.3 705.6 542.4 703.5 542.4 701.4 542.5 699.4 542.5 697.3 542.6 695.3 542.6 693.3 542.6 691.4 542.7 689.4 542.7 687.5 542.8 685.6 542.8 683.7 542.9 681.8 542.9 680.0 543.0 678.2 543.1 676.0 543.1 673.7 543.2 671.4 543.3 669.2 543.3 666.9 543.4 664.6 543.4 662.3 543.5 660.0 543.6 657.8 543.6 655.5 543.7 653.2 543.8 650.9 543.8 648.6 543.9 646.3 543.9 644.0 544.0 641.8 544.0 639.5 544.1 637.2 544.2 635.0 544.2 632.7 544.3 630.5 544.3 628.2 544.4 626.0 544.5 623.8 544.5 621.6 544.6 619.4 544.6 617.2 544.7 615.0 544.8 612.8 544.8 610.7 544.9 608.6 544.9 606.5 545.0 604.4 545.1 602.3 545.1 600.2 545.2 598.2 545.3 596.2 545.3 594.2 545.4 592.2 545.4 590.3 545.5 588.3 545.6 586.4 545.7 584.6 545.7 582.7 545.8 580.9 545.9 579.1 545.9 577.3 546.0 575.6 546.1 573.9 546.2 572.2 546.2 570.5 546.3 568.9 546.4 567.3 546.5 565.8 546.6 564.3 546.6 562.8 546.7 561.3 546.8 559.9 546.9 558.6 547.0 557.2 547.2 554.5 547.4 551.7 547.6 548.9 547.8 546.1 547.9 543.4 548.1 540.8 548.3 538.4 548.6 536.1 548.8 534.1 549.0 532.4 549.2 531.0 549.5 529.9 549.7 529.2 550.0 529.0 550.4 529.3 550.7 530.2 551.1 531.5 551.6 533.3 552.0 535.5 552.4 537.9 552.8 540.6 553.2 543.5 553.6 546.4 554.0 549.4 554.1 550.5 554.3 551.7 554.4 553.0 554.5 554.3 554.6 555.7 554.7 557.1 554.9 558.6 555.0 560.1 555.1 561.6 555.2 563.2 555.3 564.9 555.4 566.6 555.5 568.4 555.6 570.1 555.7 572.0 555.8 573.8 555.9 575.7 556.0 577.7 556.1 579.6 556.2 581.6 556.3 583.7 556.4 585.7 556.5 587.8 556.6 590.0 556.6 592.1 556.7 594.3 556.8 596.5 556.9 598.7 557.0 600.9 557.1 603.1 557.1 605.4 557.2 607.7 557.3 610.0 557.4 612.3 557.4 614.6 557.5 616.9 557.6 619.2 557.7 621.5 557.7 623.9 557.8 626.2 557.9 628.5 558.0 630.9 558.0 633.2 558.1 635.6 558.2 637.9 558.2 640.2 558.3 642.5 558.4 644.8 558.4 647.1 558.5 649.4 558.6 651.7 558.7 653.9 558.7 656.2 558.8 658.4 558.9 660.6 558.9 662.8 559.0 664.9 559.1 667.1 559.2 669.2 559.2 671.2 559.3 673.3 559.4 675.3 559.5 677.3 559.5 679.3 559.6 681.2 559.7 683.1 559.8 684.9 559.8 686.7 559.9 688.5 560.0 690.2 560.1 692.5 560.2 694.9 560.3 697.2 560.4 699.6 560.5 701.9 560.6 704.3 560.7 706.7 560.8 709.0 560.9 711.4 561.0 713.7 561.1 716.0 561.2 718.3 561.3 720.7 561.4 722.9 561.5 725.2 561.6 727.5 561.7 729.7 561.8 731.9 561.9 734.0 562.0 736.2 562.1 738.3 562.2 740.4 562.3 742.4 562.4 744.4 562.5 746.3 562.6 748.2 562.8 750.1 562.9 751.9 563.0 753.7 563.1 755.4 563.2 757.0 563.3 758.6 563.4 760.1 563.5 761.6 563.6 763.0 563.8 764.3 563.9 765.6 564.0 766.8 564.3 769.7 564.7 772.5 565.0 775.1 565.3 777.1 565.7 778.5 566.0 779.0 566.1 778.9 566.2 778.6 566.4 778.1 566.5 777.4 566.6 776.5 566.7 775.5 566.8 774.3 567.0 773.0 567.1 771.5 567.2 769.9 567.3 768.2 567.4 766.3 567.5 764.4 567.6 762.3 567.7 760.1 567.8 757.9 568.0 755.5 568.1 753.1 568.2 750.6 568.3 748.1 568.4 745.5 568.5 742.9 568.6 740.3 568.7 737.6 568.8 734.9 568.9 732.2 569.0 729.5 569.1 726.8 569.2 724.1 569.2 721.5 569.3 718.9 569.4 716.3 569.5 713.8 569.6 711.3 569.7 708.9 569.8 706.5 569.8 704.3 569.9 702.1 570.0 700.0 570.1 698.0 570.1 696.0 570.2 694.0 570.3 692.0 570.3 689.9 570.4 687.9 570.5 685.8 570.5 683.8 570.6 681.7 570.6 679.7 570.7 677.6 570.7 675.6 570.8 673.5 570.8 671.4 570.9 669.4 570.9 667.3 570.9 665.2 571.0 663.2 571.0 661.1 571.1 659.1 571.1 657.0 571.1 655.0 571.2 652.9 571.2 650.9 571.3 648.9 571.3 646.9 571.3 644.9 571.4 642.9 571.4 640.9 571.5 638.9 571.5 637.0 571.6 635.0 571.6 633.1 571.7 631.2 571.7 629.3 571.8 627.4 571.8 625.5 571.9 623.7 571.9 621.8 572.0 620.0 572.1 617.8 572.1 615.6 572.1 613.4 572.1 611.2 572.1 609.0 572.1 606.8 572.0 604.6 572.0 602.4 572.0 600.2 571.9 598.1 571.9 595.9 571.9 593.8 571.8 591.7 571.8 589.7 571.8 587.6 571.9 585.6 571.9 583.6 572.0 581.6 572.1 579.7 572.3 577.8 572.4 575.9 572.6 574.1 572.9 572.3 573.2 570.6 573.6 568.9 573.9 567.2 574.4 565.6 575.1 563.4 576.0 561.4 576.9 559.4 577.9 557.5 579.0 555.7 580.1 554.0 581.3 552.3 582.5 550.6 583.7 548.9 584.9 547.3 586.1 545.7 587.3 544.0 588.5 542.3 589.6 540.5 589.9 537.8 590.8 535.5 591.6 533.1 592.4 530.8 593.2 528.4 594.0 526.1 594.7 523.7 595.5 521.4 596.3 519.0 597.1 516.6 597.9 514.3 598.7 511.9 599.4 509.5 600.2 507.2 601.0 504.8 601.7 502.4 602.5 500.1 603.3 497.7 604.1 495.3 604.8 492.9 605.6 490.6 606.4 488.2 607.1 485.8 607.9 483.4 608.7 481.1 609.5 478.7 610.3 476.3 611.0 473.9 611.8 471.6 612.6 469.2 613.4 466.8 614.2 464.4 615.0 462.1 615.8 459.7 616.6 457.3 617.4 455.0 618.3 452.6 619.1 450.2 619.9 447.9 620.8 445.5 621.6 443.2 622.5 440.8 623.3 438.5 624.2 436.1 625.1 433.8 626.0 431.4 626.9 429.1 627.8 426.8 628.7 424.4 629.6 422.1 630.5 419.8 631.5 417.5 632.4 415.1 633.4 412.8 634.4 410.5 635.3 408.2 636.3 405.9 637.3 403.6 638.4 401.3 639.4 399.1 640.4 396.8 641.5 394.5 642.6 392.2 643.7 390.0 644.8 387.7 645.9 385.5 647.0 383.2 648.2 381.0 649.3 378.8 650.5 376.5 651.7 374.3 652.9 372.1 654.1 369.9 655.4 367.7 656.6 365.5 657.9 363.3 659.2 361.1 660.5 359.0 661.8 356.8 663.2 354.7 664.5 352.5 665.9 350.4 667.3 348.2 668.7 346.1 670.2 344.0 671.7 341.9 673.1 339.8 674.6 337.8 676.1 335.7 677.7 333.6 679.2 331.6 680.8 329.6 682.4 327.6 684.0 325.6 685.6 323.6 687.3 321.7 688.9 319.7 690.6 317.8 692.3 315.9 694.0 314.1 695.8 312.2 697.5 310.4 699.3 308.6 701.1 306.8 702.9 305.0 704.7 303.3 706.5 301.5 708.4 299.8 710.2 298.2 712.1 296.5 714.0 294.9 715.9 293.3 717.9 291.8 719.8 290.3 721.8 288.8 723.8 287.3 725.8 285.9 727.8 284.5 729.8 283.1 731.8 281.8 733.9 280.5 736.0 279.2 738.1 278.0 740.2 276.8 742.3 275.6 744.4 274.5 746.6 273.4 748.7 272.4 750.9 271.4 753.1 270.4 755.3 269.5 757.6 268.6 759.8 267.7 762.0 266.9 764.3 266.2 766.6 265.5 768.9 264.8 771.2 264.2 773.5 263.6 775.9 263.1 778.2 262.6 780.6 262.1 782.9 261.7 785.3 261.4 787.7 261.0 790.1 260.7 792.5 260.5 795.0 260.3 797.4 260.1 799.9 260.0 802.3 259.9 804.8 259.8 807.2 259.8 809.7 259.8 812.2 259.8 814.7 259.9 817.2 260.0 819.7 260.2 822.2 260.3 824.7 260.5 827.2 260.8 829.7 261.0 832.3 261.3 834.8 261.6 837.3 262.0 839.8 262.3 842.4 262.7 844.9 263.2 847.5 263.6 850.0 264.1 852.5 264.6 855.1 265.1 857.6 265.6 860.1 266.2 862.7 266.7 865.2 267.3 867.7 267.9 870.3 268.6 872.8 269.2 875.3 269.9 877.8 270.6 880.3 271.3 882.8 272.0 885.4 272.7 887.8 273.5 890.3 274.2 892.8 275.0 895.3 275.8 897.8 276.6 900.2 277.4 902.7 278.2 905.1 279.0 907.6 279.8 910.0 280.7 912.4 281.5 914.8 282.4 917.2 283.2 919.6 284.1 922.0 285.0 924.4 285.8 926.8 286.7 929.1 287.6 931.5 288.5 933.8 289.4 936.2 290.3 938.5 291.3 940.8 292.2 943.2 293.1 945.5 294.0 947.8 295.0 950.1 295.9 952.4 296.9 954.7 297.8 957.0 298.8 959.2 299.8 961.5 300.7 963.8 301.7 966.1 302.7 968.3 303.7 970.6 304.7 972.9 305.6 975.1 306.6 977.4 307.6 979.6 308.6 981.8 309.6 984.1 310.6 986.3 311.6 988.6 312.7 990.8 313.7 993.0 314.7 995.3 315.7 997.5 316.7 999.7 317.8 1002.0 318.8 1004.2 319.8 1006.4 320.8 1008.6 321.9 1010.9 322.9 1013.1 323.9 1015.3 325.0 1017.5 326.0 1019.8 327.0 1022.0 328.1 1024.2 329.1 1026.5 330.1 1028.7 331.2 1030.9 332.2 1033.2 333.2 1035.4 334.3 1037.6 335.3 1039.9 336.3 1042.1 337.4 1044.4 338.4 1046.6 339.4 1048.9 340.5 1051.1 341.5 1053.4 342.5 1055.7 343.6 1057.9 344.6 1060.2 345.6 1062.5 346.6 1064.7 347.7 1067.0 348.7 1069.3 349.7 1071.5 350.7 1073.8 351.8 1076.1 352.8 1078.4 353.8 1080.7 354.9 1083.0 355.9 1085.2 356.9 1087.5 357.9 1089.8 359.0 1092.1 360.0 1094.4 361.0 1096.7 362.1 1099.0 363.1 1101.3 364.2 1103.6 365.2 1105.9 366.2 1108.2 367.3 1110.5 368.3 1112.8 369.4 1115.0 370.4 1117.3 371.5 1119.6 372.5 1121.9 373.6 1124.2 374.6 1126.5 375.7 1128.8 376.8 1131.1 377.8 1133.4 378.9 1135.7 380.0 1138.0 381.0 1140.2 382.1 1142.5 383.2 1144.8 384.3 1147.1 385.4 1149.4 386.5 1151.7 387.6 1153.9 388.6 1156.2 389.8 1158.5 390.9 1160.8 392.0 1163.0 393.1 1165.3 394.2 1167.6 395.3 1169.8 396.5 1172.1 397.6 1174.3 398.7 1176.6 399.9 1178.8 401.0 1181.1 402.2 1183.3 403.3 1185.6 404.5 1187.8 405.7 1190.1 406.8 1192.3 408.0 1194.5 409.2 1196.7 410.4 1199.0 411.6 1201.2 412.8 1203.4 414.0 1205.6 415.2 1207.8 416.4 1210.0 417.6 1212.2 418.9 1214.4 420.1 1216.6 421.4 1218.8 422.6 1220.9 423.9 1223.1 425.1 1225.3 426.4 1227.4 427.7 1229.6 429.0 1231.8 430.3 1233.9 431.6 1236.0 432.9 1238.2 434.2 1240.3 435.5 1242.4 436.9 1244.5 438.2 1246.7 439.6 1248.8 440.9 1250.9 442.3 1253.0 443.6 1255.1 445.0 1257.1 446.4 1259.2 447.8 1261.3 449.2 1263.4 450.6 1265.4 452.0 1267.5 453.4 1269.5 454.8 1271.6 456.3 1273.6 457.7 1275.7 459.2 1277.7 460.6 1279.7 462.1 1281.8 463.5 1283.8 465.0 1285.8 466.5 1287.8 468.0 1289.8 469.5 1291.8 471.0 1293.8 472.5 1295.8 474.0 1297.7 475.5 1299.7 477.0 1301.7 478.6 1303.6 480.1 1305.6 481.7 1307.6 483.2 1309.5 484.8 1311.5 486.3 1313.4 487.9 1315.3 489.5 1317.3 491.1 1319.2 492.7 1321.1 494.2 1323.0 495.9 1324.9 497.5 1326.8 499.1 1328.7 500.7 1330.6 502.3 1332.5 503.9 1334.4 505.6 1336.3 507.2 1338.1 508.9 1340.0 510.5 1341.9 512.2 1343.7 513.9 1345.6 515.5 1347.4 517.2 1349.3 518.9 1351.1 520.6 1352.9 522.3 1354.7 524.0 1356.6 525.7 1358.4 527.4 1360.2 529.1 1362.0 530.8 1363.8 532.5 1365.6 534.3 1367.4 536.0 1369.2 537.8 1371.0 539.5 1372.7 541.3 1374.5 543.0 1376.3 544.8 1378.1 546.5 1379.8 548.3 1381.6 550.1 1383.3 551.9 1385.1 553.7 1386.8 555.5 1388.5 557.3 1390.3 559.1 1392.0 560.9 1393.7 562.7 1395.4 564.5 1397.1 566.3 1398.8 568.1 1400.5 570.0 1402.2 571.8 1403.9 573.6 1405.6 575.5 1407.3 577.3 1409.0 579.2 1410.7 581.1 1412.3 582.9 1414.0 584.8 1415.6 586.7 1417.3 588.5 1419.0 590.4 1420.6 592.3 1422.2 594.2 1423.9 596.1 1425.5 598.0 1427.1 599.9 1428.8 601.8 1430.4 603.7 1432.0 605.6 1433.6 607.5 1435.2 609.4 1436.8 611.4 1438.4 613.3 1440.0 615.2 1441.6 617.2 1443.2 619.1 1444.7 621.0 1446.3 623.0 1447.9 624.9 1449.5 626.9 1451.0 628.8 1452.6 630.8 1454.1 632.8 1455.7 634.7 1457.2 636.7 1458.7 638.7 1460.3 640.7 1461.8 642.6 1463.3 644.6 1464.9 646.6 1466.4 648.6 1467.9 650.6 1469.4 652.6 1470.9 654.6 1472.4 656.6 1473.9 658.6 1475.4 660.6 1476.9 662.6 1478.4 664.7 1479.8 666.7 1481.3 668.7 1482.8 670.7 1484.2 672.8 1485.7 674.8 1487.2 676.8 1488.6 678.9 1490.1 680.9 1491.5 683.0 1493.0 685.0 1494.4 687.1 1495.8 689.1 1497.3 691.2 1498.7 693.2 1500.1 695.3 1501.5 697.3 1503.0 699.4 1504.4 701.5 1505.8 703.5 1507.2 705.6 1508.6 707.7 1510.0 709.8 1511.4 711.9 1512.8 713.9 1514.2 716.0 1515.5 718.1 1516.9 720.2 1518.3 722.3 1519.7 724.4 1521.1 726.5 1522.4 728.6 1523.8 730.7 1525.1 732.8 1526.5 734.9 1527.9 737.0 1529.2 739.1 1530.6 741.2 1531.9 743.4 1533.3 745.5 1534.6 747.6 1535.9 749.7 1537.3 751.8 1538.6 754.0 1539.9 756.1 1541.3 758.2 1542.6 760.4 1543.9 762.5 1545.2 764.6 1546.5 766.8 1547.8 768.9 1549.1 771.0 1550.5 773.2 1551.8 775.3 1553.1 777.5 1554.4 779.6 1555.7 781.8 1556.9 783.9 1558.2 786.1 1559.5 788.2 1560.8 790.4 1562.1 792.6 1563.4 794.7 1564.7 796.9 1565.9 799.0 1567.2 801.2 1568.5 803.4 1569.7 805.5 1571.0 807.7 1572.3 809.9 1573.5 812.1 1574.8 814.2 1576.1 816.4 1577.3 818.6 1578.6 820.8 1579.8 822.9 1581.1 825.1 1582.3 827.3 1583.6 829.5 1584.8 831.7 1586.0 833.8 1587.3 836.0 1588.5 838.2 1589.8 840.4 1591.0 842.6 1592.2 844.8 1593.5 847.0 1594.7 849.2 1595.9 851.4 1597.1 853.6 1598.4 855.8 1599.6 857.9 1600.8 860.1 1602.0 862.3 1603.2 864.5 1604.5 866.7 1605.7 868.9 1606.9 871.1 1608.1 873.3 1609.3 875.5 1610.5 877.7 1611.7 879.9 1612.9 882.1 1614.1 884.4 1615.4 886.6 1616.6 888.8 1617.8 891.0 1619.0 893.2 1620.2 895.4 1621.4 897.6 1622.6 899.8 1623.8 902.0 1624.9 904.2 1626.1 906.4 1627.3 908.6 1628.5 910.8 1629.7 913.0 1630.9 915.3 1632.1 917.5 1633.3 919.7 1634.5 921.9 1635.7 924.1 1636.9 926.3 1638.0 928.5 1639.2 930.7 1640.4 932.9 1641.6 935.1 1642.8 937.4 1644.0 939.6 1645.1 941.8 1646.3 944.0 1647.5 946.2 1648.7 948.4 1649.9 950.6 1651.0 952.8 1652.2 955.0 1653.4 957.3 1654.6 959.5 1655.8 961.7 1656.9 963.9 1658.1 966.1 1659.3 968.3 1660.5 970.5 1661.6 972.7 1662.8 974.9 1664.0 977.1 1665.2 979.3 1666.4 981.5 1667.5 983.8 1668.7 986.0 1669.9 988.2 1671.1 990.4 1672.2 992.6 1673.4 994.8 1674.6 997.0 1675.8 999.2 1677.0 1001.4 1678.1 1003.6 1679.3 1005.8 1680.5 1008.0 1681.7 1010.2 1682.9 1012.4 1684.1 1014.6 1685.2 1016.8 1686.4 1019.0 1687.6 1021.2 1688.8 1023.4 1690.0 1025.6 1691.2 1027.8 1692.3 1030.0 1693.5 1032.2 1694.7 1034.4 1695.9 1036.6 1697.1 1038.8 1698.3 1041.0 1699.5 1043.1 1700.7 1045.3 1701.9 1047.5 1703.1 1049.7 1704.3 1051.9 1705.5 1054.1 1706.7 1056.3 1707.9 1058.5 1709.1 1060.7 1710.3 1062.8 1711.5 1065.0 1712.7 1067.2 1713.9 1069.4 1715.1 1071.6 1716.3 1073.7 1717.5 1075.9 1718.8 1078.1 1720.0 1080.3 1721.2 1082.5 1722.4 1084.6 1723.6 1086.8 1724.9 1089.0 1726.1 1091.2 1727.3 1093.3 1728.5 1095.5 1729.8 1097.7 1731.0 1099.8 1732.2 1102.0 1733.5 1104.2 1734.7 1106.3 1736.0 1108.5 1737.2 1110.6 1738.4 1112.8 1739.7 1115.0 1740.9 1117.1 1742.2 1119.3 1743.5 1121.4 1744.7 1123.6 1746.0 1125.7 1747.2 1127.9 1748.5 1130.1 1749.8 1132.2 1751.0 1134.3 1752.3 1136.5 1753.6 1138.6 1754.9 1140.8 1756.1 1142.9 1757.4 1145.1 1758.7 1147.2 1760.0 1149.3 1761.3 1151.5 1762.6 1153.6 1763.9 1155.8 1765.2 1157.9 1766.5 1160.0 1767.8 1162.1 1769.1 1164.3 1770.4 1166.4 1771.7 1168.5 1773.0 1170.7 1774.4 1172.8 1775.7 1174.9 1777.0 1177.0 1778.3 1179.1 1779.7 1181.2 1781.0 1183.4 1782.4 1185.5 1783.7 1187.6 1785.0 1189.7 1786.4 1191.8 1787.8 1193.9 1789.1 1196.0 1790.5 1198.1 1791.8 1200.2 1793.2 1202.3 1794.6 1204.4 1796.0 1206.5 1797.3 1208.6 1798.7 1210.7 1800.1 1212.8 1801.5 1214.9 1802.9 1216.9 1804.3 1219.0 1805.7 1221.1 1807.1 1223.2 1808.5 1225.3 1809.9 1227.3 1811.4 1229.4 1812.8 1231.5 1814.2 1233.6 1815.7 1235.6 1817.1 1237.7 1818.5 1239.8 1820.0 1241.8 1821.4 1243.9 1822.9 1245.9 1824.3 1248.0 1825.8 1250.0 1827.3 1252.1 1828.8 1254.1 1830.2 1256.2 1831.7 1258.2 1833.2 1260.3 1834.7 1262.3 1836.2 1264.4 1837.7 1266.4 1839.2 1268.4 1840.7 1270.5 1842.2 1272.5 1843.7 1274.5 1845.3 1276.5 1846.8 1278.5 1848.3 1280.5 1849.9 1282.6 1851.4 1284.6 1853.0 1286.6 1854.5 1288.6 1856.1 1290.6 1857.7 1292.5 1859.2 1294.5 1860.8 1296.5 1862.4 1298.5 1864.0 1300.5 1865.6 1302.4 1867.1 1304.4 1868.8 1306.4 1870.4 1308.3 1872.0 1310.3 1873.6 1312.2 1875.2 1314.1 1876.8 1316.1 1878.5 1318.0 1880.1 1319.9 1881.8 1321.9 1883.4 1323.8 1885.1 1325.7 1886.7 1327.6 1888.4 1329.5 1890.1 1331.4 1891.7 1333.3 1893.4 1335.1 1895.1 1337.0 1896.8 1338.9 1898.5 1340.7 1900.2 1342.6 1901.9 1344.4 1903.6 1346.3 1905.4 1348.1 1907.1 1349.9 1908.8 1351.8 1910.6 1353.6 1912.3 1355.4 1914.1 1357.2 1915.8 1359.0 1917.6 1360.8 1919.4 1362.6 1921.1 1364.3 1922.9 1366.1 1924.7 1367.8 1926.5 1369.6 1928.3 1371.3 1930.1 1373.1 1931.9 1374.8 1933.8 1376.5 1935.6 1378.2 1937.4 1379.9 1939.3 1381.6 1941.1 1383.3 1943.0 1385.0 1944.8 1386.7 1946.7 1388.3 1948.6 1390.0 1950.4 1391.6 1952.3 1393.2 1954.2 1394.9 1956.1 1396.5 1958.0 1398.1 1959.9 1399.7 1961.8 1401.3 1963.8 1402.8 1965.7 1404.4 1967.6 1406.0 1969.6 1407.5 1971.5 1409.1 1973.5 1410.6 1975.5 1412.1 1977.4 1413.6 1979.4 1415.1 1981.4 1416.6 1983.4 1418.1 1985.4 1419.5 1987.4 1421.0 1989.4 1422.4 1991.4 1423.9 1993.4 1425.3 1995.5 1426.7 1997.5 1428.1 1999.6 1429.5 2001.6 1430.9 2003.7 1432.3 2005.8 1433.6 2007.8 1435.0 2009.9 1436.3 2012.0 1437.6 2014.1 1438.9 2016.2 1440.2 2018.3 1441.5 2020.5 1442.8 2022.6 1444.1 2024.7 1445.3 2026.9 1446.5 2029.0 1447.8 2031.2 1449.0 2033.4 1450.2 2035.5 1451.4 2037.7 1452.6 2039.9 1453.7 2042.1 1454.9 2044.3 1456.0 2046.5 1457.2 2048.7 1458.3 2050.9 1459.4 2053.2 1460.5 2055.4 1461.6 2057.6 1462.7 2059.9 1463.8 2062.1 1464.8 2064.4 1465.9 2066.6 1466.9 2068.9 1467.9 2071.2 1468.9 2073.5 1469.9 2075.7 1470.9 2078.0 1471.9 2080.3 1472.9 2082.6 1473.8 2084.9 1474.8 2087.2 1475.7 2089.6 1476.7 2091.9 1477.6 2094.2 1478.5 2096.5 1479.4 2098.9 1480.3 2101.2 1481.2 2103.6 1482.1 2105.9 1482.9 2108.3 1483.8 2110.6 1484.6 2113.0 1485.4 2115.4 1486.3 2117.7 1487.1 2120.1 1487.9 2122.5 1488.7 2124.9 1489.5 2127.3 1490.2 2129.7 1491.0 2132.1 1491.8 2134.5 1492.5 2136.9 1493.3 2139.3 1494.0 2141.7 1494.7 2144.1 1495.4 2146.5 1496.1 2148.9 1496.8 2151.4 1497.5 2153.8 1498.2 2156.2 1498.9 2158.6 1499.6 2161.1 1500.2 2163.5 1500.9 2166.0 1501.5 2168.4 1502.1 2170.8 1502.8 2173.3 1503.4 2175.7 1504.0 2178.2 1504.6 2180.7 1505.2 2183.1 1505.8 2185.6 1506.3 2188.0 1506.9 2190.5 1507.5 2193.0 1508.0 2195.4 1508.6 2197.9 1509.1 2200.4 1509.6 2202.9 1510.2 2205.3 1510.7 2207.8 1511.2 2210.3 1511.7 2212.8 1512.2 2215.2 1512.7 2217.7 1513.2 2220.2 1513.6 2222.7 1514.1 2225.2 1514.6 2227.7 1515.0 2230.1 1515.5 2232.6 1515.9 2235.1 1516.4 2237.6 1516.8 2240.1 1517.2 2242.6 1517.6 2245.1 1518.0 2247.5 1518.5 2250.0 1518.9 2252.5 1519.2 2255.0 1519.6 2257.5 1520.0 2260.0 1520.4 2262.5 1520.8 2265.0 1521.1 2267.5 1521.5 2269.9 1521.8 2272.4 1522.2 2274.9 1522.5 2277.4 1522.9 2279.9 1523.2 2282.4 1523.5 2284.9 1523.9 2287.3 1524.2 2289.8 1524.5 2292.3 1524.8 2294.8 1525.1 2297.2 1525.4 2299.7 1525.7 2302.2 1526.0 2304.7 1526.3 2307.1 1526.5 2309.6 1526.8 2312.1 1527.1 2314.5 1527.4 2317.0 1527.6 2319.5 1527.9 2321.9 1528.1 2324.4 1528.4 2326.8 1528.6 2329.3 1528.9 2331.8 1529.1 2334.2 1529.3 2336.6 1529.6 2339.1 1529.8 2341.5 1530.0 2344.0 1530.2 2346.4 1530.4 2348.8 1530.7 2351.3 1530.9 2353.7 1531.1 2356.1 1531.3 2358.5 1531.5 2361.0 1531.7 2363.4 1531.8"/>
</g>
<rect x="345.0" y="73.5" width="2019.5" height="1472.5" fill="none" stroke="#000" stroke-width="8" stroke-linejoin="round"/>
<path d="M345.0 1546.0V1512.0M513.3 1546.0V1527.0M681.6 1546.0V1512.0M849.9 1546.0V1527.0M1018.2 1546.0V1512.0M1186.5 1546.0V1527.0M1354.8 1546.0V1512.0M1523.0 1546.0V1527.0M1691.3 1546.0V1512.0M1859.6 1546.0V1527.0M2027.9 1546.0V1512.0M2196.2 1546.0V1527.0M2364.5 1546.0V1512.0M345.0 1547.5H378.0M345.0 1363.4H364.0M345.0 1179.4H378.0M345.0 995.3H364.0M345.0 811.2H378.0M345.0 627.2H364.0M345.0 443.1H378.0M345.0 259.1H364.0M345.0 75.0H378.0" stroke="#000" stroke-width="7.5" fill="none"/>
<g font-family="Liberation Serif, serif" font-weight="bold" font-size="80" fill="#000">
<text x="291.3" y="1578.9" text-anchor="end" font-size="85">0</text>
<text x="290.5" y="1209.9" text-anchor="end">100</text>
<text x="290.5" y="841.8" text-anchor="end">200</text>
<text x="290.5" y="473.6" text-anchor="end">300</text>
<text x="290.5" y="105.5" text-anchor="end">400</text>
<text x="343.0" y="1641" text-anchor="middle">0.0</text>
<text x="679.6" y="1641" text-anchor="middle">0.5</text>
<text x="1016.2" y="1641" text-anchor="middle">1.0</text>
<text x="1352.8" y="1641" text-anchor="middle">1.5</text>
<text x="1689.3" y="1641" text-anchor="middle">2.0</text>
<text x="2025.9" y="1641" text-anchor="middle">2.5</text>
<text x="2362.5" y="1641" text-anchor="middle">3.0</text>
<text x="1372" y="1739" text-anchor="middle" font-size="84">Time (s)</text>
<text transform="translate(101.5,936) rotate(-90) scale(0.975,1)" font-size="84"><tspan font-style="italic">T</tspan><tspan font-size="54" dy="18">R</tspan><tspan dy="-18"> (kN)</tspan></text>
</g>
<g font-family="Liberation Sans, Arial, sans-serif" font-size="82" fill="#000">
<path d="M2008 164.8H2192.5" stroke="#000000" stroke-width="7"/>
<text x="2211.5" y="192.3" font-size="83.0" textLength="42.5" lengthAdjust="spacingAndGlyphs">0</text><text x="2253" y="197.3" font-family="Liberation Serif, serif" font-size="90">°</text>
<path d="M2011.5 272.3H2189" stroke="#ff0000" stroke-width="7" stroke-dasharray="31 42" stroke-linecap="round"/>
<text x="2211.5" y="299.8" font-size="83.0" textLength="42.5" lengthAdjust="spacingAndGlyphs">3</text><text x="2253" y="304.8" font-family="Liberation Serif, serif" font-size="90">°</text>
<path d="M2011.5 380.7H2189" stroke="#0000ff" stroke-width="7" stroke-dasharray="39 24 6 23" stroke-linecap="round"/>
<text x="2211.5" y="408.2" font-size="83.0" textLength="42.5" lengthAdjust="spacingAndGlyphs">5</text><text x="2253" y="413.2" font-family="Liberation Serif, serif" font-size="90">°</text>
<path d="M2011.5 488.6H2189" stroke="#ff8000" stroke-width="7" stroke-dasharray="28 23 8 22 7 24" stroke-linecap="round"/>
<text x="2211.5" y="516.1" font-size="83.0" textLength="42.5" lengthAdjust="spacingAndGlyphs">7</text><text x="2253" y="521.1" font-family="Liberation Serif, serif" font-size="90">°</text>
<path d="M2011.5 595.6H2189" stroke="#008000" stroke-width="7" stroke-dasharray="12 21" stroke-linecap="round"/>
<text x="2211.5" y="623.1" font-size="83.0" textLength="42.5" lengthAdjust="spacingAndGlyphs">9</text><text x="2253" y="628.1" font-family="Liberation Serif, serif" font-size="90">°</text>
</g>
</svg>
</body></html>
